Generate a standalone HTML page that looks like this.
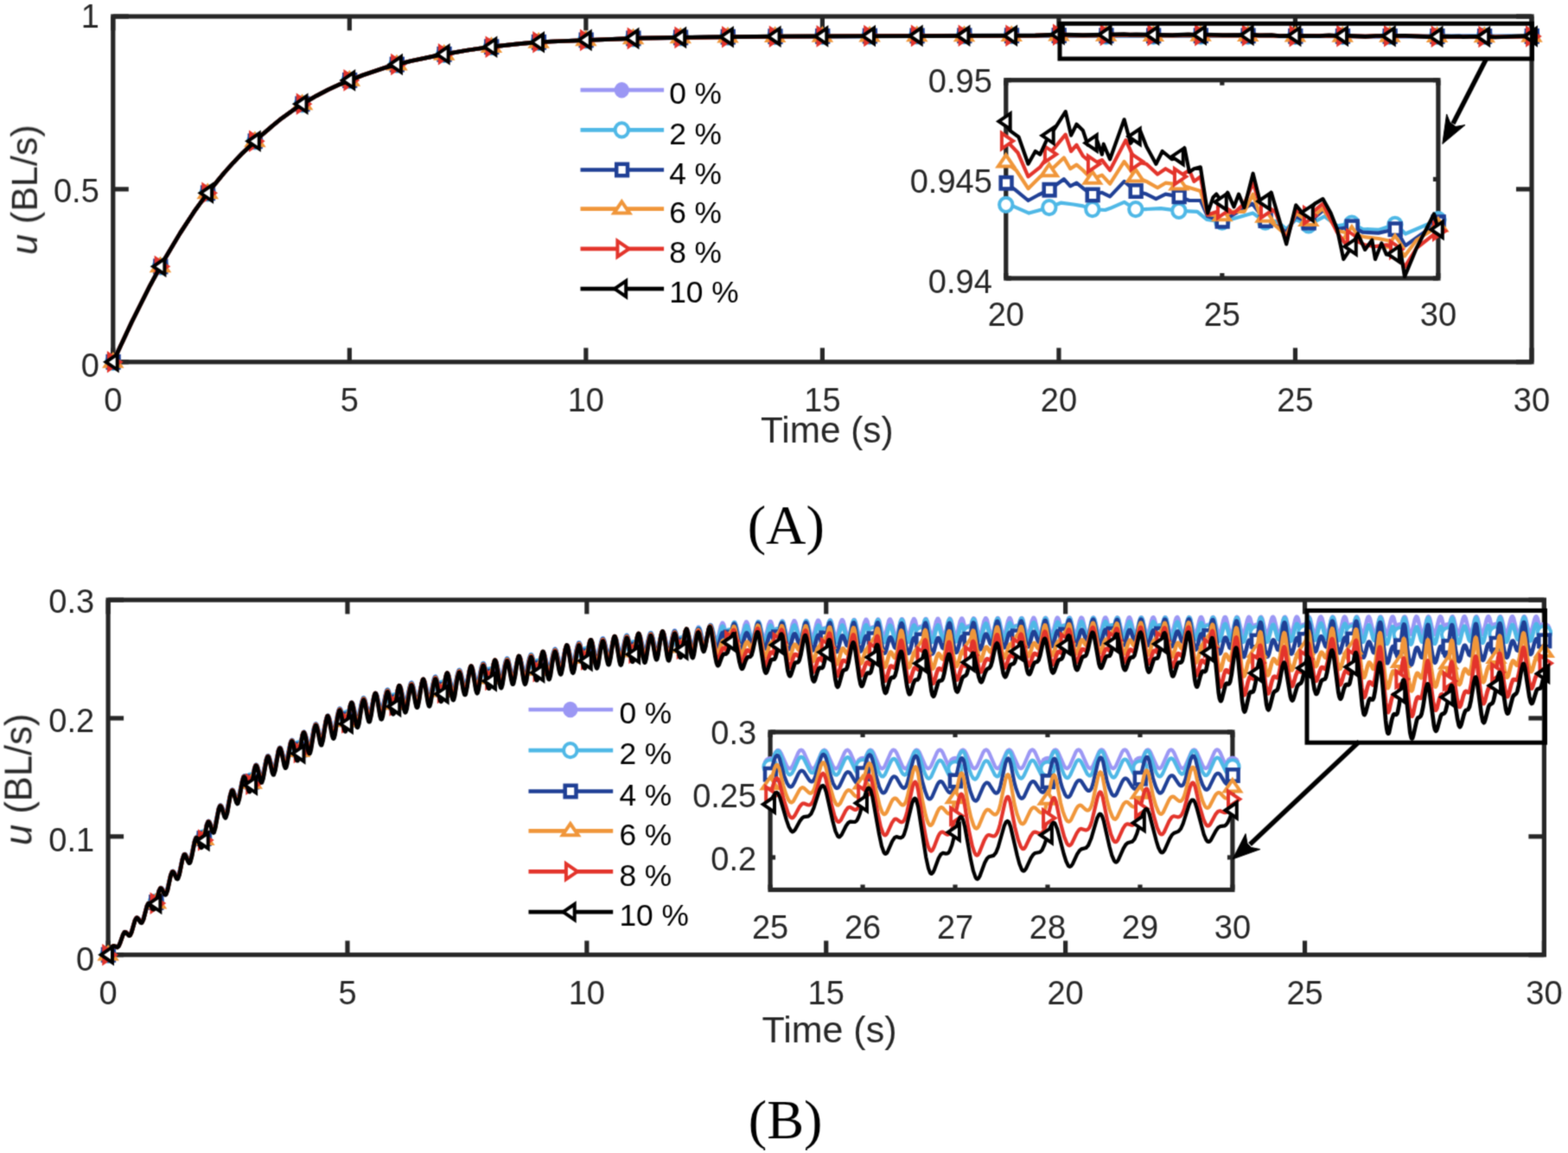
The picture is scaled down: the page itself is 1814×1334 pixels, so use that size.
<!DOCTYPE html>
<html><head><meta charset="utf-8"><title>Figure</title>
<style>html,body{margin:0;padding:0;background:#fff;}svg{display:block;}</style>
</head><body>
<svg width="1814" height="1334" viewBox="0 0 1814 1334">
<rect width="1814" height="1334" fill="#fff"/>
<defs><filter id="soft" x="0" y="0" width="100%" height="100%" color-interpolation-filters="sRGB"><feConvolveMatrix order="3" kernelMatrix="0.0361 0.1178 0.0361 0.1178 0.3846 0.1178 0.0361 0.1178 0.0361" edgeMode="duplicate"/></filter>
<clipPath id="cA"><rect x="130.8" y="19" width="1641.2" height="399.8"/></clipPath>
<clipPath id="cAi"><rect x="1163.8" y="92.7" width="500.1" height="229.3"/></clipPath>
<clipPath id="cB"><rect x="125.1" y="694.1" width="1661.3" height="410.6"/></clipPath>
<clipPath id="cBi"><rect x="891.1" y="847" width="534.8" height="182.5"/></clipPath>
</defs>
<g filter="url(#soft)">
<line x1="130.8" y1="418.8" x2="130.8" y2="402.5" stroke="#262626" stroke-width="5.2"/>
<line x1="130.8" y1="19" x2="130.8" y2="35.3" stroke="#262626" stroke-width="5.2"/>
<line x1="404.33" y1="418.8" x2="404.33" y2="402.5" stroke="#262626" stroke-width="5.2"/>
<line x1="404.33" y1="19" x2="404.33" y2="35.3" stroke="#262626" stroke-width="5.2"/>
<line x1="677.87" y1="418.8" x2="677.87" y2="402.5" stroke="#262626" stroke-width="5.2"/>
<line x1="677.87" y1="19" x2="677.87" y2="35.3" stroke="#262626" stroke-width="5.2"/>
<line x1="951.4" y1="418.8" x2="951.4" y2="402.5" stroke="#262626" stroke-width="5.2"/>
<line x1="951.4" y1="19" x2="951.4" y2="35.3" stroke="#262626" stroke-width="5.2"/>
<line x1="1224.93" y1="418.8" x2="1224.93" y2="402.5" stroke="#262626" stroke-width="5.2"/>
<line x1="1224.93" y1="19" x2="1224.93" y2="35.3" stroke="#262626" stroke-width="5.2"/>
<line x1="1498.47" y1="418.8" x2="1498.47" y2="402.5" stroke="#262626" stroke-width="5.2"/>
<line x1="1498.47" y1="19" x2="1498.47" y2="35.3" stroke="#262626" stroke-width="5.2"/>
<line x1="1772" y1="418.8" x2="1772" y2="402.5" stroke="#262626" stroke-width="5.2"/>
<line x1="1772" y1="19" x2="1772" y2="35.3" stroke="#262626" stroke-width="5.2"/>
<line x1="130.8" y1="418.8" x2="148.8" y2="418.8" stroke="#262626" stroke-width="5.2"/>
<line x1="1772" y1="418.8" x2="1754" y2="418.8" stroke="#262626" stroke-width="5.2"/>
<line x1="130.8" y1="218.9" x2="148.8" y2="218.9" stroke="#262626" stroke-width="5.2"/>
<line x1="1772" y1="218.9" x2="1754" y2="218.9" stroke="#262626" stroke-width="5.2"/>
<line x1="130.8" y1="19" x2="148.8" y2="19" stroke="#262626" stroke-width="5.2"/>
<line x1="1772" y1="19" x2="1754" y2="19" stroke="#262626" stroke-width="5.2"/>
<rect x="130.8" y="19" width="1641.2" height="399.8" fill="none" stroke="#262626" stroke-width="5.2" stroke-linejoin="miter"/>
<text x="130.8" y="475.8" font-size="38" text-anchor="middle" fill="#262626" font-family="'Liberation Sans', Arial, Helvetica, sans-serif">0</text>
<text x="404.33" y="475.8" font-size="38" text-anchor="middle" fill="#262626" font-family="'Liberation Sans', Arial, Helvetica, sans-serif">5</text>
<text x="677.87" y="475.8" font-size="38" text-anchor="middle" fill="#262626" font-family="'Liberation Sans', Arial, Helvetica, sans-serif">10</text>
<text x="951.4" y="475.8" font-size="38" text-anchor="middle" fill="#262626" font-family="'Liberation Sans', Arial, Helvetica, sans-serif">15</text>
<text x="1224.93" y="475.8" font-size="38" text-anchor="middle" fill="#262626" font-family="'Liberation Sans', Arial, Helvetica, sans-serif">20</text>
<text x="1498.47" y="475.8" font-size="38" text-anchor="middle" fill="#262626" font-family="'Liberation Sans', Arial, Helvetica, sans-serif">25</text>
<text x="1772" y="475.8" font-size="38" text-anchor="middle" fill="#262626" font-family="'Liberation Sans', Arial, Helvetica, sans-serif">30</text>
<text x="114.8" y="436.39" font-size="38" text-anchor="end" fill="#262626" font-family="'Liberation Sans', Arial, Helvetica, sans-serif">0</text>
<text x="114.8" y="234.43" font-size="38" text-anchor="end" fill="#262626" font-family="'Liberation Sans', Arial, Helvetica, sans-serif">0.5</text>
<text x="114.8" y="32.47" font-size="38" text-anchor="end" fill="#262626" font-family="'Liberation Sans', Arial, Helvetica, sans-serif">1</text>
<polyline points="130.8,418.8 152.2,373 173.6,330.3 186.9,305.8 208.3,269.9 224.4,245.2 240.4,223 259.1,200.2 269.8,188.3 280.5,177.2 301.9,157 315.3,145.5 326,136.8 344.7,123.4 366.1,110.8 379.4,103.9 392.8,97.7 419.6,87 446.3,78.1 475.7,70.5 505.1,64.4 539.9,58.3 563.9,54.7 598.7,50.8 617.4,49.2 638.8,48 740.4,44.2 874.1,42.4 1079.9,41.3 1197.6,41.1 1254,41.7 1374.6,41.4 1579.7,42 1772.6,41.8" fill="none" stroke="#9b97f4" stroke-width="4.7" stroke-linejoin="round" clip-path="url(#cA)"/>
<ellipse cx="130.8" cy="418.8" rx="8.6" ry="9.2" fill="#9b97f4"/>
<ellipse cx="185.51" cy="308.34" rx="8.6" ry="9.2" fill="#9b97f4"/>
<ellipse cx="240.21" cy="223.3" rx="8.6" ry="9.2" fill="#9b97f4"/>
<ellipse cx="294.92" cy="163.33" rx="8.6" ry="9.2" fill="#9b97f4"/>
<ellipse cx="349.63" cy="120.31" rx="8.6" ry="9.2" fill="#9b97f4"/>
<ellipse cx="404.33" cy="92.88" rx="8.6" ry="9.2" fill="#9b97f4"/>
<ellipse cx="459.04" cy="74.57" rx="8.6" ry="9.2" fill="#9b97f4"/>
<ellipse cx="513.75" cy="62.78" rx="8.6" ry="9.2" fill="#9b97f4"/>
<ellipse cx="568.45" cy="54.18" rx="8.6" ry="9.2" fill="#9b97f4"/>
<ellipse cx="623.16" cy="48.79" rx="8.6" ry="9.2" fill="#9b97f4"/>
<ellipse cx="677.87" cy="46.39" rx="8.6" ry="9.2" fill="#9b97f4"/>
<ellipse cx="732.57" cy="44.39" rx="8.6" ry="9.2" fill="#9b97f4"/>
<ellipse cx="787.28" cy="43.39" rx="8.6" ry="9.2" fill="#9b97f4"/>
<ellipse cx="841.99" cy="42.67" rx="8.6" ry="9.2" fill="#9b97f4"/>
<ellipse cx="896.69" cy="42.19" rx="8.6" ry="9.2" fill="#9b97f4"/>
<ellipse cx="951.4" cy="41.87" rx="8.6" ry="9.2" fill="#9b97f4"/>
<ellipse cx="1006.11" cy="41.59" rx="8.6" ry="9.2" fill="#9b97f4"/>
<ellipse cx="1060.81" cy="41.39" rx="8.6" ry="9.2" fill="#9b97f4"/>
<ellipse cx="1115.52" cy="41.27" rx="8.6" ry="9.2" fill="#9b97f4"/>
<ellipse cx="1170.23" cy="41.19" rx="8.6" ry="9.2" fill="#9b97f4"/>
<ellipse cx="1224.93" cy="41.5" rx="8.6" ry="9.2" fill="#9b97f4"/>
<ellipse cx="1279.64" cy="41.56" rx="8.6" ry="9.2" fill="#9b97f4"/>
<ellipse cx="1334.35" cy="41.59" rx="8.6" ry="9.2" fill="#9b97f4"/>
<ellipse cx="1389.05" cy="41.59" rx="8.6" ry="9.2" fill="#9b97f4"/>
<ellipse cx="1443.76" cy="41.63" rx="8.6" ry="9.2" fill="#9b97f4"/>
<ellipse cx="1498.47" cy="41.85" rx="8.6" ry="9.2" fill="#9b97f4"/>
<ellipse cx="1553.17" cy="41.85" rx="8.6" ry="9.2" fill="#9b97f4"/>
<ellipse cx="1607.88" cy="41.91" rx="8.6" ry="9.2" fill="#9b97f4"/>
<ellipse cx="1662.59" cy="41.88" rx="8.6" ry="9.2" fill="#9b97f4"/>
<ellipse cx="1717.29" cy="41.9" rx="8.6" ry="9.2" fill="#9b97f4"/>
<ellipse cx="1772" cy="41.81" rx="8.6" ry="9.2" fill="#9b97f4"/>
<polyline points="130.8,418.8 152.2,373 173.6,330.3 186.9,305.8 208.3,269.9 224.4,245.2 240.4,223 259.1,200.2 269.8,188.3 280.5,177.2 301.9,157 315.3,145.5 326,136.8 344.7,123.4 366.1,110.8 379.4,103.9 392.8,97.7 419.6,87 446.3,78.1 475.7,70.5 505.1,64.4 539.9,58.3 563.9,54.7 598.7,50.8 617.4,49.2 638.8,48 740.4,44.2 874.1,42.4 1079.9,41.3 1197.6,41.1 1254,41.7 1374.6,41.4 1579.7,42 1772.6,41.8" fill="none" stroke="#4fb8e6" stroke-width="4.7" stroke-linejoin="round" clip-path="url(#cA)"/>
<ellipse cx="130.8" cy="418.8" rx="7.7" ry="8.1" fill="#fff" stroke="#4fb8e6" stroke-width="4"/>
<ellipse cx="185.51" cy="308.34" rx="7.7" ry="8.1" fill="#fff" stroke="#4fb8e6" stroke-width="4"/>
<ellipse cx="240.21" cy="223.3" rx="7.7" ry="8.1" fill="#fff" stroke="#4fb8e6" stroke-width="4"/>
<ellipse cx="294.92" cy="163.33" rx="7.7" ry="8.1" fill="#fff" stroke="#4fb8e6" stroke-width="4"/>
<ellipse cx="349.63" cy="120.31" rx="7.7" ry="8.1" fill="#fff" stroke="#4fb8e6" stroke-width="4"/>
<ellipse cx="404.33" cy="92.88" rx="7.7" ry="8.1" fill="#fff" stroke="#4fb8e6" stroke-width="4"/>
<ellipse cx="459.04" cy="74.57" rx="7.7" ry="8.1" fill="#fff" stroke="#4fb8e6" stroke-width="4"/>
<ellipse cx="513.75" cy="62.78" rx="7.7" ry="8.1" fill="#fff" stroke="#4fb8e6" stroke-width="4"/>
<ellipse cx="568.45" cy="54.18" rx="7.7" ry="8.1" fill="#fff" stroke="#4fb8e6" stroke-width="4"/>
<ellipse cx="623.16" cy="48.79" rx="7.7" ry="8.1" fill="#fff" stroke="#4fb8e6" stroke-width="4"/>
<ellipse cx="677.87" cy="46.39" rx="7.7" ry="8.1" fill="#fff" stroke="#4fb8e6" stroke-width="4"/>
<ellipse cx="732.57" cy="44.39" rx="7.7" ry="8.1" fill="#fff" stroke="#4fb8e6" stroke-width="4"/>
<ellipse cx="787.28" cy="43.39" rx="7.7" ry="8.1" fill="#fff" stroke="#4fb8e6" stroke-width="4"/>
<ellipse cx="841.99" cy="42.67" rx="7.7" ry="8.1" fill="#fff" stroke="#4fb8e6" stroke-width="4"/>
<ellipse cx="896.69" cy="42.19" rx="7.7" ry="8.1" fill="#fff" stroke="#4fb8e6" stroke-width="4"/>
<ellipse cx="951.4" cy="41.87" rx="7.7" ry="8.1" fill="#fff" stroke="#4fb8e6" stroke-width="4"/>
<ellipse cx="1006.11" cy="41.59" rx="7.7" ry="8.1" fill="#fff" stroke="#4fb8e6" stroke-width="4"/>
<ellipse cx="1060.81" cy="41.39" rx="7.7" ry="8.1" fill="#fff" stroke="#4fb8e6" stroke-width="4"/>
<ellipse cx="1115.52" cy="41.27" rx="7.7" ry="8.1" fill="#fff" stroke="#4fb8e6" stroke-width="4"/>
<ellipse cx="1170.23" cy="41.19" rx="7.7" ry="8.1" fill="#fff" stroke="#4fb8e6" stroke-width="4"/>
<ellipse cx="1224.93" cy="41.5" rx="7.7" ry="8.1" fill="#fff" stroke="#4fb8e6" stroke-width="4"/>
<ellipse cx="1279.64" cy="41.56" rx="7.7" ry="8.1" fill="#fff" stroke="#4fb8e6" stroke-width="4"/>
<ellipse cx="1334.35" cy="41.59" rx="7.7" ry="8.1" fill="#fff" stroke="#4fb8e6" stroke-width="4"/>
<ellipse cx="1389.05" cy="41.59" rx="7.7" ry="8.1" fill="#fff" stroke="#4fb8e6" stroke-width="4"/>
<ellipse cx="1443.76" cy="41.63" rx="7.7" ry="8.1" fill="#fff" stroke="#4fb8e6" stroke-width="4"/>
<ellipse cx="1498.47" cy="41.85" rx="7.7" ry="8.1" fill="#fff" stroke="#4fb8e6" stroke-width="4"/>
<ellipse cx="1553.17" cy="41.85" rx="7.7" ry="8.1" fill="#fff" stroke="#4fb8e6" stroke-width="4"/>
<ellipse cx="1607.88" cy="41.91" rx="7.7" ry="8.1" fill="#fff" stroke="#4fb8e6" stroke-width="4"/>
<ellipse cx="1662.59" cy="41.88" rx="7.7" ry="8.1" fill="#fff" stroke="#4fb8e6" stroke-width="4"/>
<ellipse cx="1717.29" cy="41.9" rx="7.7" ry="8.1" fill="#fff" stroke="#4fb8e6" stroke-width="4"/>
<ellipse cx="1772" cy="41.81" rx="7.7" ry="8.1" fill="#fff" stroke="#4fb8e6" stroke-width="4"/>
<polyline points="130.8,418.8 152.2,373 173.6,330.3 186.9,305.8 208.3,269.9 224.4,245.2 240.4,223 259.1,200.2 269.8,188.3 280.5,177.2 301.9,157 315.3,145.5 326,136.8 344.7,123.4 366.1,110.8 379.4,103.9 392.8,97.7 419.6,87 446.3,78.1 475.7,70.5 505.1,64.4 539.9,58.3 563.9,54.7 598.7,50.8 617.4,49.2 638.8,48 740.4,44.2 874.1,42.4 1082.6,41.3 1224.9,41.1 1253,41.4 1298.3,41 1356.5,41.3 1374.6,41 1498.4,41.8 1536.6,41.5 1579.7,42.1 1627,41.6 1644,42 1718.4,42 1730.4,42.3 1772.6,41.8" fill="none" stroke="#1f3f95" stroke-width="4.7" stroke-linejoin="round" clip-path="url(#cA)"/>
<rect x="124.7" y="412.1" width="12.8" height="13.4" fill="#fff" stroke="#1f3f95" stroke-width="4.5"/>
<rect x="179.41" y="301.64" width="12.8" height="13.4" fill="#fff" stroke="#1f3f95" stroke-width="4.5"/>
<rect x="234.11" y="216.6" width="12.8" height="13.4" fill="#fff" stroke="#1f3f95" stroke-width="4.5"/>
<rect x="288.82" y="156.63" width="12.8" height="13.4" fill="#fff" stroke="#1f3f95" stroke-width="4.5"/>
<rect x="343.53" y="113.61" width="12.8" height="13.4" fill="#fff" stroke="#1f3f95" stroke-width="4.5"/>
<rect x="398.23" y="86.18" width="12.8" height="13.4" fill="#fff" stroke="#1f3f95" stroke-width="4.5"/>
<rect x="452.94" y="67.87" width="12.8" height="13.4" fill="#fff" stroke="#1f3f95" stroke-width="4.5"/>
<rect x="507.65" y="56.08" width="12.8" height="13.4" fill="#fff" stroke="#1f3f95" stroke-width="4.5"/>
<rect x="562.35" y="47.48" width="12.8" height="13.4" fill="#fff" stroke="#1f3f95" stroke-width="4.5"/>
<rect x="617.06" y="42.09" width="12.8" height="13.4" fill="#fff" stroke="#1f3f95" stroke-width="4.5"/>
<rect x="671.77" y="39.69" width="12.8" height="13.4" fill="#fff" stroke="#1f3f95" stroke-width="4.5"/>
<rect x="726.47" y="37.69" width="12.8" height="13.4" fill="#fff" stroke="#1f3f95" stroke-width="4.5"/>
<rect x="781.18" y="36.69" width="12.8" height="13.4" fill="#fff" stroke="#1f3f95" stroke-width="4.5"/>
<rect x="835.89" y="35.97" width="12.8" height="13.4" fill="#fff" stroke="#1f3f95" stroke-width="4.5"/>
<rect x="890.59" y="35.49" width="12.8" height="13.4" fill="#fff" stroke="#1f3f95" stroke-width="4.5"/>
<rect x="945.3" y="35.17" width="12.8" height="13.4" fill="#fff" stroke="#1f3f95" stroke-width="4.5"/>
<rect x="1000.01" y="34.89" width="12.8" height="13.4" fill="#fff" stroke="#1f3f95" stroke-width="4.5"/>
<rect x="1054.71" y="34.69" width="12.8" height="13.4" fill="#fff" stroke="#1f3f95" stroke-width="4.5"/>
<rect x="1109.42" y="34.57" width="12.8" height="13.4" fill="#fff" stroke="#1f3f95" stroke-width="4.5"/>
<rect x="1164.13" y="34.49" width="12.8" height="13.4" fill="#fff" stroke="#1f3f95" stroke-width="4.5"/>
<rect x="1218.83" y="34.37" width="12.8" height="13.4" fill="#fff" stroke="#1f3f95" stroke-width="4.5"/>
<rect x="1273.54" y="34.5" width="12.8" height="13.4" fill="#fff" stroke="#1f3f95" stroke-width="4.5"/>
<rect x="1328.25" y="34.61" width="12.8" height="13.4" fill="#fff" stroke="#1f3f95" stroke-width="4.5"/>
<rect x="1382.95" y="34.53" width="12.8" height="13.4" fill="#fff" stroke="#1f3f95" stroke-width="4.5"/>
<rect x="1437.66" y="34.64" width="12.8" height="13.4" fill="#fff" stroke="#1f3f95" stroke-width="4.5"/>
<rect x="1492.37" y="35.13" width="12.8" height="13.4" fill="#fff" stroke="#1f3f95" stroke-width="4.5"/>
<rect x="1547.07" y="35.12" width="12.8" height="13.4" fill="#fff" stroke="#1f3f95" stroke-width="4.5"/>
<rect x="1601.78" y="35.17" width="12.8" height="13.4" fill="#fff" stroke="#1f3f95" stroke-width="4.5"/>
<rect x="1656.49" y="35.25" width="12.8" height="13.4" fill="#fff" stroke="#1f3f95" stroke-width="4.5"/>
<rect x="1711.19" y="35.3" width="12.8" height="13.4" fill="#fff" stroke="#1f3f95" stroke-width="4.5"/>
<rect x="1765.9" y="35.16" width="12.8" height="13.4" fill="#fff" stroke="#1f3f95" stroke-width="4.5"/>
<polyline points="130.8,418.8 152.2,373 173.6,330.3 186.9,305.8 208.3,269.9 224.4,245.2 240.4,223 259.1,200.2 269.8,188.3 280.5,177.2 301.9,157 315.3,145.5 326,136.8 344.7,123.4 366.1,110.8 379.4,103.9 392.8,97.7 419.6,87 446.3,78.1 475.7,70.5 505.1,64.4 539.9,58.3 563.9,54.7 598.7,50.8 617.4,49.2 638.8,48 740.4,44.2 890.1,42.2 1039.8,41.5 1197.6,41.1 1223.9,40.6 1253,41.2 1298.3,40.6 1356.5,41.1 1374.6,40.6 1416.8,41.2 1471.1,41.2 1480.1,41.7 1526.5,41.6 1537.6,41.3 1579.7,42.1 1591.8,41.7 1626,41.6 1644,42 1729.4,42.5 1772.6,41.9" fill="none" stroke="#f0963a" stroke-width="4.7" stroke-linejoin="round" clip-path="url(#cA)"/>
<polygon points="130.8,410.5 139.8,423.7 121.8,423.7" fill="#fff" stroke="#f0963a" stroke-width="4" stroke-miterlimit="10"/>
<polygon points="185.51,300.04 194.51,313.24 176.51,313.24" fill="#fff" stroke="#f0963a" stroke-width="4" stroke-miterlimit="10"/>
<polygon points="240.21,215 249.21,228.2 231.21,228.2" fill="#fff" stroke="#f0963a" stroke-width="4" stroke-miterlimit="10"/>
<polygon points="294.92,155.03 303.92,168.23 285.92,168.23" fill="#fff" stroke="#f0963a" stroke-width="4" stroke-miterlimit="10"/>
<polygon points="349.63,112.01 358.63,125.21 340.63,125.21" fill="#fff" stroke="#f0963a" stroke-width="4" stroke-miterlimit="10"/>
<polygon points="404.33,84.58 413.33,97.78 395.33,97.78" fill="#fff" stroke="#f0963a" stroke-width="4" stroke-miterlimit="10"/>
<polygon points="459.04,66.27 468.04,79.47 450.04,79.47" fill="#fff" stroke="#f0963a" stroke-width="4" stroke-miterlimit="10"/>
<polygon points="513.75,54.48 522.75,67.68 504.75,67.68" fill="#fff" stroke="#f0963a" stroke-width="4" stroke-miterlimit="10"/>
<polygon points="568.45,45.88 577.45,59.08 559.45,59.08" fill="#fff" stroke="#f0963a" stroke-width="4" stroke-miterlimit="10"/>
<polygon points="623.16,40.49 632.16,53.69 614.16,53.69" fill="#fff" stroke="#f0963a" stroke-width="4" stroke-miterlimit="10"/>
<polygon points="677.87,38.09 686.87,51.29 668.87,51.29" fill="#fff" stroke="#f0963a" stroke-width="4" stroke-miterlimit="10"/>
<polygon points="732.57,36.09 741.57,49.29 723.57,49.29" fill="#fff" stroke="#f0963a" stroke-width="4" stroke-miterlimit="10"/>
<polygon points="787.28,35.09 796.28,48.29 778.28,48.29" fill="#fff" stroke="#f0963a" stroke-width="4" stroke-miterlimit="10"/>
<polygon points="841.99,34.37 850.99,47.57 832.99,47.57" fill="#fff" stroke="#f0963a" stroke-width="4" stroke-miterlimit="10"/>
<polygon points="896.69,33.89 905.69,47.09 887.69,47.09" fill="#fff" stroke="#f0963a" stroke-width="4" stroke-miterlimit="10"/>
<polygon points="951.4,33.57 960.4,46.77 942.4,46.77" fill="#fff" stroke="#f0963a" stroke-width="4" stroke-miterlimit="10"/>
<polygon points="1006.11,33.29 1015.11,46.49 997.11,46.49" fill="#fff" stroke="#f0963a" stroke-width="4" stroke-miterlimit="10"/>
<polygon points="1060.81,33.09 1069.81,46.29 1051.81,46.29" fill="#fff" stroke="#f0963a" stroke-width="4" stroke-miterlimit="10"/>
<polygon points="1115.52,32.97 1124.52,46.17 1106.52,46.17" fill="#fff" stroke="#f0963a" stroke-width="4" stroke-miterlimit="10"/>
<polygon points="1170.23,32.89 1179.23,46.09 1161.23,46.09" fill="#fff" stroke="#f0963a" stroke-width="4" stroke-miterlimit="10"/>
<polygon points="1224.93,32.35 1233.93,45.55 1215.93,45.55" fill="#fff" stroke="#f0963a" stroke-width="4" stroke-miterlimit="10"/>
<polygon points="1279.64,32.53 1288.64,45.73 1270.64,45.73" fill="#fff" stroke="#f0963a" stroke-width="4" stroke-miterlimit="10"/>
<polygon points="1334.35,32.68 1343.35,45.88 1325.35,45.88" fill="#fff" stroke="#f0963a" stroke-width="4" stroke-miterlimit="10"/>
<polygon points="1389.05,32.64 1398.05,45.84 1380.05,45.84" fill="#fff" stroke="#f0963a" stroke-width="4" stroke-miterlimit="10"/>
<polygon points="1443.76,32.8 1452.76,46 1434.76,46" fill="#fff" stroke="#f0963a" stroke-width="4" stroke-miterlimit="10"/>
<polygon points="1498.47,33.42 1507.47,46.62 1489.47,46.62" fill="#fff" stroke="#f0963a" stroke-width="4" stroke-miterlimit="10"/>
<polygon points="1553.17,33.45 1562.17,46.65 1544.17,46.65" fill="#fff" stroke="#f0963a" stroke-width="4" stroke-miterlimit="10"/>
<polygon points="1607.88,33.52 1616.88,46.72 1598.88,46.72" fill="#fff" stroke="#f0963a" stroke-width="4" stroke-miterlimit="10"/>
<polygon points="1662.59,33.79 1671.59,46.99 1653.59,46.99" fill="#fff" stroke="#f0963a" stroke-width="4" stroke-miterlimit="10"/>
<polygon points="1717.29,33.97 1726.29,47.17 1708.29,47.17" fill="#fff" stroke="#f0963a" stroke-width="4" stroke-miterlimit="10"/>
<polygon points="1772,33.64 1781,46.84 1763,46.84" fill="#fff" stroke="#f0963a" stroke-width="4" stroke-miterlimit="10"/>
<polyline points="130.8,418.8 152.2,373 173.6,330.3 186.9,305.8 208.3,269.9 224.4,245.2 240.4,223 259.1,200.2 269.8,188.3 280.5,177.2 301.9,157 315.3,145.5 326,136.8 344.7,123.4 366.1,110.8 379.4,103.9 392.8,97.7 419.6,87 446.3,78.1 475.7,70.5 505.1,64.4 539.9,58.3 563.9,54.7 598.7,50.8 617.4,49.2 638.8,48 740.4,44.2 876.7,42.3 1034.5,41.5 1197.6,41.1 1225.9,40.2 1253,40.9 1300.3,40.1 1356.5,40.8 1376.6,40.2 1416.8,40.9 1471.1,40.9 1480.1,41.7 1513.5,41.7 1537.6,41.1 1579.7,42.2 1591.8,41.6 1626,41.5 1654.1,42.3 1716.4,42.4 1729.4,42.8 1772.6,42" fill="none" stroke="#e3342b" stroke-width="4.7" stroke-linejoin="round" clip-path="url(#cA)"/>
<polygon points="139.1,418.8 125.9,409.8 125.9,427.8" fill="#fff" stroke="#e3342b" stroke-width="4" stroke-miterlimit="10"/>
<polygon points="193.81,308.34 180.61,299.34 180.61,317.34" fill="#fff" stroke="#e3342b" stroke-width="4" stroke-miterlimit="10"/>
<polygon points="248.51,223.3 235.31,214.3 235.31,232.3" fill="#fff" stroke="#e3342b" stroke-width="4" stroke-miterlimit="10"/>
<polygon points="303.22,163.33 290.02,154.33 290.02,172.33" fill="#fff" stroke="#e3342b" stroke-width="4" stroke-miterlimit="10"/>
<polygon points="357.93,120.31 344.73,111.31 344.73,129.31" fill="#fff" stroke="#e3342b" stroke-width="4" stroke-miterlimit="10"/>
<polygon points="412.63,92.88 399.43,83.88 399.43,101.88" fill="#fff" stroke="#e3342b" stroke-width="4" stroke-miterlimit="10"/>
<polygon points="467.34,74.57 454.14,65.57 454.14,83.57" fill="#fff" stroke="#e3342b" stroke-width="4" stroke-miterlimit="10"/>
<polygon points="522.05,62.78 508.85,53.78 508.85,71.78" fill="#fff" stroke="#e3342b" stroke-width="4" stroke-miterlimit="10"/>
<polygon points="576.75,54.18 563.55,45.18 563.55,63.18" fill="#fff" stroke="#e3342b" stroke-width="4" stroke-miterlimit="10"/>
<polygon points="631.46,48.79 618.26,39.79 618.26,57.79" fill="#fff" stroke="#e3342b" stroke-width="4" stroke-miterlimit="10"/>
<polygon points="686.17,46.39 672.97,37.39 672.97,55.39" fill="#fff" stroke="#e3342b" stroke-width="4" stroke-miterlimit="10"/>
<polygon points="740.87,44.39 727.67,35.39 727.67,53.39" fill="#fff" stroke="#e3342b" stroke-width="4" stroke-miterlimit="10"/>
<polygon points="795.58,43.39 782.38,34.39 782.38,52.39" fill="#fff" stroke="#e3342b" stroke-width="4" stroke-miterlimit="10"/>
<polygon points="850.29,42.67 837.09,33.67 837.09,51.67" fill="#fff" stroke="#e3342b" stroke-width="4" stroke-miterlimit="10"/>
<polygon points="904.99,42.19 891.79,33.19 891.79,51.19" fill="#fff" stroke="#e3342b" stroke-width="4" stroke-miterlimit="10"/>
<polygon points="959.7,41.87 946.5,32.87 946.5,50.87" fill="#fff" stroke="#e3342b" stroke-width="4" stroke-miterlimit="10"/>
<polygon points="1014.41,41.59 1001.21,32.59 1001.21,50.59" fill="#fff" stroke="#e3342b" stroke-width="4" stroke-miterlimit="10"/>
<polygon points="1069.11,41.39 1055.91,32.39 1055.91,50.39" fill="#fff" stroke="#e3342b" stroke-width="4" stroke-miterlimit="10"/>
<polygon points="1123.82,41.27 1110.62,32.27 1110.62,50.27" fill="#fff" stroke="#e3342b" stroke-width="4" stroke-miterlimit="10"/>
<polygon points="1178.53,41.19 1165.33,32.19 1165.33,50.19" fill="#fff" stroke="#e3342b" stroke-width="4" stroke-miterlimit="10"/>
<polygon points="1233.23,40.25 1220.03,31.25 1220.03,49.25" fill="#fff" stroke="#e3342b" stroke-width="4" stroke-miterlimit="10"/>
<polygon points="1287.94,40.49 1274.74,31.49 1274.74,49.49" fill="#fff" stroke="#e3342b" stroke-width="4" stroke-miterlimit="10"/>
<polygon points="1342.65,40.68 1329.45,31.68 1329.45,49.68" fill="#fff" stroke="#e3342b" stroke-width="4" stroke-miterlimit="10"/>
<polygon points="1397.35,40.63 1384.15,31.63 1384.15,49.63" fill="#fff" stroke="#e3342b" stroke-width="4" stroke-miterlimit="10"/>
<polygon points="1452.06,40.94 1438.86,31.94 1438.86,49.94" fill="#fff" stroke="#e3342b" stroke-width="4" stroke-miterlimit="10"/>
<polygon points="1506.77,41.61 1493.57,32.61 1493.57,50.61" fill="#fff" stroke="#e3342b" stroke-width="4" stroke-miterlimit="10"/>
<polygon points="1561.47,41.61 1548.27,32.61 1548.27,50.61" fill="#fff" stroke="#e3342b" stroke-width="4" stroke-miterlimit="10"/>
<polygon points="1616.18,41.72 1602.98,32.72 1602.98,50.72" fill="#fff" stroke="#e3342b" stroke-width="4" stroke-miterlimit="10"/>
<polygon points="1670.89,42.19 1657.69,33.19 1657.69,51.19" fill="#fff" stroke="#e3342b" stroke-width="4" stroke-miterlimit="10"/>
<polygon points="1725.59,42.41 1712.39,33.41 1712.39,51.41" fill="#fff" stroke="#e3342b" stroke-width="4" stroke-miterlimit="10"/>
<polygon points="1780.3,42.03 1767.1,33.03 1767.1,51.03" fill="#fff" stroke="#e3342b" stroke-width="4" stroke-miterlimit="10"/>
<polyline points="130.8,418.8 152.2,373 173.6,330.3 186.9,305.8 208.3,269.9 224.4,245.2 240.4,223 259.1,200.2 269.8,188.3 280.5,177.2 301.9,157 315.3,145.5 326,136.8 344.7,123.4 366.1,110.8 379.4,103.9 392.8,97.7 419.6,87 446.3,78.1 475.7,70.5 505.1,64.4 539.9,58.3 563.9,54.7 598.7,50.8 617.4,49.2 638.8,48 740.4,44.2 820.6,42.9 900.8,42.2 1197.6,41.1 1223.9,39.8 1253,40.7 1300.3,39.6 1307.3,40.1 1314.3,39.9 1356.5,40.6 1374.6,39.8 1382.6,40.3 1394.7,40 1414.8,40.7 1451,40.4 1457,40.8 1471.1,40.7 1480.1,41.7 1491.4,41.3 1526.5,41.6 1537.6,40.9 1545.6,41.4 1560.7,41.3 1579.7,42.3 1591.8,41.5 1626,41.4 1652.1,42.6 1670.2,42.1 1679.2,42.4 1688.2,42.2 1692.3,42.6 1700.3,42.3 1723.4,42.3 1729.4,43 1766.6,41.7 1772.6,42" fill="none" stroke="#000000" stroke-width="4.7" stroke-linejoin="round" clip-path="url(#cA)"/>
<polygon points="122.5,418.8 135.7,409.8 135.7,427.8" fill="#fff" stroke="#000000" stroke-width="4" stroke-miterlimit="10"/>
<polygon points="177.21,308.34 190.41,299.34 190.41,317.34" fill="#fff" stroke="#000000" stroke-width="4" stroke-miterlimit="10"/>
<polygon points="231.91,223.3 245.11,214.3 245.11,232.3" fill="#fff" stroke="#000000" stroke-width="4" stroke-miterlimit="10"/>
<polygon points="286.62,163.33 299.82,154.33 299.82,172.33" fill="#fff" stroke="#000000" stroke-width="4" stroke-miterlimit="10"/>
<polygon points="341.33,120.31 354.53,111.31 354.53,129.31" fill="#fff" stroke="#000000" stroke-width="4" stroke-miterlimit="10"/>
<polygon points="396.03,92.88 409.23,83.88 409.23,101.88" fill="#fff" stroke="#000000" stroke-width="4" stroke-miterlimit="10"/>
<polygon points="450.74,74.57 463.94,65.57 463.94,83.57" fill="#fff" stroke="#000000" stroke-width="4" stroke-miterlimit="10"/>
<polygon points="505.45,62.78 518.65,53.78 518.65,71.78" fill="#fff" stroke="#000000" stroke-width="4" stroke-miterlimit="10"/>
<polygon points="560.15,54.18 573.35,45.18 573.35,63.18" fill="#fff" stroke="#000000" stroke-width="4" stroke-miterlimit="10"/>
<polygon points="614.86,48.79 628.06,39.79 628.06,57.79" fill="#fff" stroke="#000000" stroke-width="4" stroke-miterlimit="10"/>
<polygon points="669.57,46.39 682.77,37.39 682.77,55.39" fill="#fff" stroke="#000000" stroke-width="4" stroke-miterlimit="10"/>
<polygon points="724.27,44.39 737.47,35.39 737.47,53.39" fill="#fff" stroke="#000000" stroke-width="4" stroke-miterlimit="10"/>
<polygon points="778.98,43.39 792.18,34.39 792.18,52.39" fill="#fff" stroke="#000000" stroke-width="4" stroke-miterlimit="10"/>
<polygon points="833.69,42.67 846.89,33.67 846.89,51.67" fill="#fff" stroke="#000000" stroke-width="4" stroke-miterlimit="10"/>
<polygon points="888.39,42.19 901.59,33.19 901.59,51.19" fill="#fff" stroke="#000000" stroke-width="4" stroke-miterlimit="10"/>
<polygon points="943.1,41.87 956.3,32.87 956.3,50.87" fill="#fff" stroke="#000000" stroke-width="4" stroke-miterlimit="10"/>
<polygon points="997.81,41.59 1011.01,32.59 1011.01,50.59" fill="#fff" stroke="#000000" stroke-width="4" stroke-miterlimit="10"/>
<polygon points="1052.51,41.39 1065.71,32.39 1065.71,50.39" fill="#fff" stroke="#000000" stroke-width="4" stroke-miterlimit="10"/>
<polygon points="1107.22,41.27 1120.42,32.27 1120.42,50.27" fill="#fff" stroke="#000000" stroke-width="4" stroke-miterlimit="10"/>
<polygon points="1161.93,41.19 1175.13,32.19 1175.13,50.19" fill="#fff" stroke="#000000" stroke-width="4" stroke-miterlimit="10"/>
<polygon points="1216.63,39.82 1229.83,30.82 1229.83,48.82" fill="#fff" stroke="#000000" stroke-width="4" stroke-miterlimit="10"/>
<polygon points="1271.34,40.11 1284.54,31.11 1284.54,49.11" fill="#fff" stroke="#000000" stroke-width="4" stroke-miterlimit="10"/>
<polygon points="1326.05,40.26 1339.25,31.26 1339.25,49.26" fill="#fff" stroke="#000000" stroke-width="4" stroke-miterlimit="10"/>
<polygon points="1380.75,40.13 1393.95,31.13 1393.95,49.13" fill="#fff" stroke="#000000" stroke-width="4" stroke-miterlimit="10"/>
<polygon points="1435.46,40.53 1448.66,31.53 1448.66,49.53" fill="#fff" stroke="#000000" stroke-width="4" stroke-miterlimit="10"/>
<polygon points="1490.17,41.45 1503.37,32.45 1503.37,50.45" fill="#fff" stroke="#000000" stroke-width="4" stroke-miterlimit="10"/>
<polygon points="1544.87,41.44 1558.07,32.44 1558.07,50.44" fill="#fff" stroke="#000000" stroke-width="4" stroke-miterlimit="10"/>
<polygon points="1599.58,41.67 1612.78,32.67 1612.78,50.67" fill="#fff" stroke="#000000" stroke-width="4" stroke-miterlimit="10"/>
<polygon points="1654.29,42.35 1667.49,33.35 1667.49,51.35" fill="#fff" stroke="#000000" stroke-width="4" stroke-miterlimit="10"/>
<polygon points="1708.99,42.5 1722.19,33.5 1722.19,51.5" fill="#fff" stroke="#000000" stroke-width="4" stroke-miterlimit="10"/>
<polygon points="1763.7,42.01 1776.9,33.01 1776.9,51.01" fill="#fff" stroke="#000000" stroke-width="4" stroke-miterlimit="10"/>
<text x="956.8" y="512.2" font-size="42.3" text-anchor="middle" fill="#262626" font-family="'Liberation Sans', Arial, Helvetica, sans-serif">Time (s)</text>
<text transform="translate(42.8,219.6) rotate(-90)" font-size="43" text-anchor="middle" fill="#262626" font-family="'Liberation Sans', Arial, Helvetica, sans-serif"><tspan font-style="italic">u</tspan> (BL/s)</text>
<line x1="671.5" y1="104.2" x2="768.1" y2="104.2" stroke="#9b97f4" stroke-width="4.7"/>
<ellipse cx="719.3" cy="104.2" rx="8.6" ry="9.2" fill="#9b97f4"/>
<text x="774.2" y="120.4" font-size="35.3" text-anchor="start" fill="#000" font-family="'Liberation Sans', Arial, Helvetica, sans-serif">0 %</text>
<line x1="671.5" y1="150.3" x2="768.1" y2="150.3" stroke="#4fb8e6" stroke-width="4.7"/>
<ellipse cx="719.3" cy="150.3" rx="7.7" ry="8.1" fill="#fff" stroke="#4fb8e6" stroke-width="4"/>
<text x="774.2" y="166.5" font-size="35.3" text-anchor="start" fill="#000" font-family="'Liberation Sans', Arial, Helvetica, sans-serif">2 %</text>
<line x1="671.5" y1="196.5" x2="768.1" y2="196.5" stroke="#1f3f95" stroke-width="4.7"/>
<rect x="713.2" y="189.8" width="12.8" height="13.4" fill="#fff" stroke="#1f3f95" stroke-width="4.5"/>
<text x="774.2" y="212.7" font-size="35.3" text-anchor="start" fill="#000" font-family="'Liberation Sans', Arial, Helvetica, sans-serif">4 %</text>
<line x1="671.5" y1="241.7" x2="768.1" y2="241.7" stroke="#f0963a" stroke-width="4.7"/>
<polygon points="719.3,233.4 728.3,246.6 710.3,246.6" fill="#fff" stroke="#f0963a" stroke-width="4" stroke-miterlimit="10"/>
<text x="774.2" y="257.9" font-size="35.3" text-anchor="start" fill="#000" font-family="'Liberation Sans', Arial, Helvetica, sans-serif">6 %</text>
<line x1="671.5" y1="287.9" x2="768.1" y2="287.9" stroke="#e3342b" stroke-width="4.7"/>
<polygon points="727.6,287.9 714.4,278.9 714.4,296.9" fill="#fff" stroke="#e3342b" stroke-width="4" stroke-miterlimit="10"/>
<text x="774.2" y="304.1" font-size="35.3" text-anchor="start" fill="#000" font-family="'Liberation Sans', Arial, Helvetica, sans-serif">8 %</text>
<line x1="671.5" y1="334.1" x2="768.1" y2="334.1" stroke="#000000" stroke-width="4.7"/>
<polygon points="711,334.1 724.2,325.1 724.2,343.1" fill="#fff" stroke="#000000" stroke-width="4" stroke-miterlimit="10"/>
<text x="774.2" y="350.3" font-size="35.3" text-anchor="start" fill="#000" font-family="'Liberation Sans', Arial, Helvetica, sans-serif">10 %</text>
<rect x="1226" y="27.3" width="546.5" height="40.7" fill="none" stroke="#000" stroke-width="5"/>
<rect x="1163.8" y="92.7" width="500.1" height="229.3" fill="#fff"/>
<line x1="1163.8" y1="322" x2="1163.8" y2="316" stroke="#262626" stroke-width="5.2"/>
<line x1="1163.8" y1="92.7" x2="1163.8" y2="98.7" stroke="#262626" stroke-width="5.2"/>
<line x1="1413.85" y1="322" x2="1413.85" y2="316" stroke="#262626" stroke-width="5.2"/>
<line x1="1413.85" y1="92.7" x2="1413.85" y2="98.7" stroke="#262626" stroke-width="5.2"/>
<line x1="1663.9" y1="322" x2="1663.9" y2="316" stroke="#262626" stroke-width="5.2"/>
<line x1="1663.9" y1="92.7" x2="1663.9" y2="98.7" stroke="#262626" stroke-width="5.2"/>
<line x1="1163.8" y1="322" x2="1169.8" y2="322" stroke="#262626" stroke-width="5.2"/>
<line x1="1663.9" y1="322" x2="1657.9" y2="322" stroke="#262626" stroke-width="5.2"/>
<line x1="1163.8" y1="207.35" x2="1169.8" y2="207.35" stroke="#262626" stroke-width="5.2"/>
<line x1="1663.9" y1="207.35" x2="1657.9" y2="207.35" stroke="#262626" stroke-width="5.2"/>
<line x1="1163.8" y1="92.7" x2="1169.8" y2="92.7" stroke="#262626" stroke-width="5.2"/>
<line x1="1663.9" y1="92.7" x2="1657.9" y2="92.7" stroke="#262626" stroke-width="5.2"/>
<rect x="1163.8" y="92.7" width="500.1" height="229.3" fill="none" stroke="#262626" stroke-width="5.2" stroke-linejoin="miter"/>
<text x="1163.8" y="377.3" font-size="38" text-anchor="middle" fill="#262626" font-family="'Liberation Sans', Arial, Helvetica, sans-serif">20</text>
<text x="1413.85" y="377.3" font-size="38" text-anchor="middle" fill="#262626" font-family="'Liberation Sans', Arial, Helvetica, sans-serif">25</text>
<text x="1663.9" y="377.3" font-size="38" text-anchor="middle" fill="#262626" font-family="'Liberation Sans', Arial, Helvetica, sans-serif">30</text>
<text x="1147.8" y="338.67" font-size="38" text-anchor="end" fill="#262626" font-family="'Liberation Sans', Arial, Helvetica, sans-serif">0.94</text>
<text x="1147.8" y="222.72" font-size="38" text-anchor="end" fill="#262626" font-family="'Liberation Sans', Arial, Helvetica, sans-serif">0.945</text>
<text x="1147.8" y="106.77" font-size="38" text-anchor="end" fill="#262626" font-family="'Liberation Sans', Arial, Helvetica, sans-serif">0.95</text>
<polyline points="1162.9,236.5 1173.9,239.3 1190.4,246.6 1213.4,240.2 1227.1,234.7 1241.8,236.5 1252.9,238.4 1263,242.1 1278.6,243 1284.1,241.1 1300.6,233.8 1313.5,242.1 1324.5,242.1 1342.9,241.1 1364,243.9 1385.1,244.8 1396.1,254 1413.8,256.7 1449.6,246.6 1463.4,256.7 1477.1,255.8 1488.2,265 1499.2,254 1513.9,260.4 1532.2,250.3 1546.9,261.3 1564.4,258.6 1576.3,265 1594.7,265.9 1614.9,259.5 1625.9,270.5 1664.5,254" fill="none" stroke="#4fb8e6" stroke-width="4.2" stroke-linejoin="round" clip-path="url(#cAi)"/>
<ellipse cx="1163.8" cy="236.78" rx="7.7" ry="8.1" fill="#fff" stroke="#4fb8e6" stroke-width="4"/>
<ellipse cx="1213.81" cy="240.04" rx="7.7" ry="8.1" fill="#fff" stroke="#4fb8e6" stroke-width="4"/>
<ellipse cx="1263.82" cy="242.1" rx="7.7" ry="8.1" fill="#fff" stroke="#4fb8e6" stroke-width="4"/>
<ellipse cx="1313.83" cy="242.05" rx="7.7" ry="8.1" fill="#fff" stroke="#4fb8e6" stroke-width="4"/>
<ellipse cx="1363.84" cy="243.87" rx="7.7" ry="8.1" fill="#fff" stroke="#4fb8e6" stroke-width="4"/>
<ellipse cx="1413.85" cy="256.7" rx="7.7" ry="8.1" fill="#fff" stroke="#4fb8e6" stroke-width="4"/>
<ellipse cx="1463.86" cy="256.68" rx="7.7" ry="8.1" fill="#fff" stroke="#4fb8e6" stroke-width="4"/>
<ellipse cx="1513.87" cy="260.39" rx="7.7" ry="8.1" fill="#fff" stroke="#4fb8e6" stroke-width="4"/>
<ellipse cx="1563.88" cy="258.63" rx="7.7" ry="8.1" fill="#fff" stroke="#4fb8e6" stroke-width="4"/>
<ellipse cx="1613.89" cy="259.79" rx="7.7" ry="8.1" fill="#fff" stroke="#4fb8e6" stroke-width="4"/>
<ellipse cx="1663.9" cy="254.2" rx="7.7" ry="8.1" fill="#fff" stroke="#4fb8e6" stroke-width="4"/>
<polyline points="1163.8,211.7 1173.9,219.1 1189.5,232 1201.4,225.5 1213.4,220 1230.8,207.2 1238.2,215.4 1245.5,211.7 1254.7,219.1 1263.9,225.5 1274.9,222.8 1284.1,227.4 1300.6,209.9 1313.5,220.9 1326.3,224.6 1337.4,230.1 1348.4,224.6 1364,227.4 1375.9,232 1388.8,232 1397.1,250.3 1413.8,255.8 1448.7,235.6 1463.4,254.9 1477.1,261.3 1488.2,268.7 1499.2,250.3 1513.9,257.6 1531.3,242.9 1546.9,265 1564.4,262.2 1576.3,268.7 1594.7,269.6 1614.9,265 1625.9,284.3 1664.5,256.7" fill="none" stroke="#1f3f95" stroke-width="4.2" stroke-linejoin="round" clip-path="url(#cAi)"/>
<rect x="1157.7" y="205.06" width="12.8" height="13.4" fill="#fff" stroke="#1f3f95" stroke-width="4.5"/>
<rect x="1207.71" y="212.99" width="12.8" height="13.4" fill="#fff" stroke="#1f3f95" stroke-width="4.5"/>
<rect x="1257.72" y="218.77" width="12.8" height="13.4" fill="#fff" stroke="#1f3f95" stroke-width="4.5"/>
<rect x="1307.73" y="214.33" width="12.8" height="13.4" fill="#fff" stroke="#1f3f95" stroke-width="4.5"/>
<rect x="1357.74" y="220.63" width="12.8" height="13.4" fill="#fff" stroke="#1f3f95" stroke-width="4.5"/>
<rect x="1407.75" y="249.06" width="12.8" height="13.4" fill="#fff" stroke="#1f3f95" stroke-width="4.5"/>
<rect x="1457.76" y="248.41" width="12.8" height="13.4" fill="#fff" stroke="#1f3f95" stroke-width="4.5"/>
<rect x="1507.77" y="250.93" width="12.8" height="13.4" fill="#fff" stroke="#1f3f95" stroke-width="4.5"/>
<rect x="1557.78" y="255.6" width="12.8" height="13.4" fill="#fff" stroke="#1f3f95" stroke-width="4.5"/>
<rect x="1607.79" y="258.51" width="12.8" height="13.4" fill="#fff" stroke="#1f3f95" stroke-width="4.5"/>
<rect x="1657.8" y="250.42" width="12.8" height="13.4" fill="#fff" stroke="#1f3f95" stroke-width="4.5"/>
<polyline points="1162.9,186.9 1175.7,197 1189.5,218.2 1203.3,204.4 1213.4,198.9 1230.8,182.4 1238.2,195.2 1245.5,190.6 1252.9,197 1263,207.2 1274.9,202.6 1284.1,212.7 1300.6,186.9 1313.5,204.4 1326.3,209.9 1339.2,217.3 1348.4,211.7 1364,213.6 1388.8,220.9 1397.1,248.5 1413.8,249.4 1427.5,244.8 1439.5,244.8 1449.6,224.6 1456.9,246.6 1463.4,250.3 1488.2,272.3 1499.2,246.6 1512.9,255.8 1530.4,241.1 1546.9,266.8 1579.1,274.2 1594.7,276 1613,279.7 1625,296.2 1638.8,277.8 1664.5,261.3" fill="none" stroke="#f0963a" stroke-width="4.2" stroke-linejoin="round" clip-path="url(#cAi)"/>
<polygon points="1163.8,179.39 1172.8,192.59 1154.8,192.59" fill="#fff" stroke="#f0963a" stroke-width="4" stroke-miterlimit="10"/>
<polygon points="1213.81,190.17 1222.81,203.37 1204.81,203.37" fill="#fff" stroke="#f0963a" stroke-width="4" stroke-miterlimit="10"/>
<polygon points="1263.82,198.53 1272.82,211.73 1254.82,211.73" fill="#fff" stroke="#f0963a" stroke-width="4" stroke-miterlimit="10"/>
<polygon points="1313.83,196.25 1322.83,209.45 1304.83,209.45" fill="#fff" stroke="#f0963a" stroke-width="4" stroke-miterlimit="10"/>
<polygon points="1363.84,205.26 1372.84,218.46 1354.84,218.46" fill="#fff" stroke="#f0963a" stroke-width="4" stroke-miterlimit="10"/>
<polygon points="1413.85,241.05 1422.85,254.25 1404.85,254.25" fill="#fff" stroke="#f0963a" stroke-width="4" stroke-miterlimit="10"/>
<polygon points="1463.86,242.43 1472.86,255.63 1454.86,255.63" fill="#fff" stroke="#f0963a" stroke-width="4" stroke-miterlimit="10"/>
<polygon points="1513.87,246.72 1522.87,259.92 1504.87,259.92" fill="#fff" stroke="#f0963a" stroke-width="4" stroke-miterlimit="10"/>
<polygon points="1563.88,262.29 1572.88,275.49 1554.88,275.49" fill="#fff" stroke="#f0963a" stroke-width="4" stroke-miterlimit="10"/>
<polygon points="1613.89,272.55 1622.89,285.75 1604.89,285.75" fill="#fff" stroke="#f0963a" stroke-width="4" stroke-miterlimit="10"/>
<polygon points="1663.9,253.37 1672.9,266.57 1654.9,266.57" fill="#fff" stroke="#f0963a" stroke-width="4" stroke-miterlimit="10"/>
<polyline points="1164.7,163.1 1177.6,176.8 1189.5,204.4 1203.3,193.4 1214.3,177.8 1232.7,155.7 1239.1,175 1245.5,167.7 1252.9,180.5 1263.9,189.7 1274.9,185.1 1284.1,197 1302.5,162.1 1313.5,186.9 1326.3,189.7 1339.2,201.6 1348.4,195.2 1364,204.4 1375.9,197 1381.4,209.9 1388.8,204.4 1397.1,248.5 1413.8,242.9 1427.5,246.6 1439.5,235.6 1449.6,211.7 1456.9,233.8 1463.4,242.9 1475.3,244.8 1488.2,277.8 1499.2,242.9 1512.9,250.3 1530.4,235.6 1546.9,268.7 1556.1,281.5 1563.5,276 1579.1,283.3 1591,285.2 1603.9,283.3 1613,287 1625,309.1 1638.8,287 1664.5,266.8" fill="none" stroke="#e3342b" stroke-width="4.2" stroke-linejoin="round" clip-path="url(#cAi)"/>
<polygon points="1172.1,163.07 1158.9,154.07 1158.9,172.07" fill="#fff" stroke="#e3342b" stroke-width="4" stroke-miterlimit="10"/>
<polygon points="1222.11,178.44 1208.91,169.44 1208.91,187.44" fill="#fff" stroke="#e3342b" stroke-width="4" stroke-miterlimit="10"/>
<polygon points="1272.12,189.65 1258.92,180.65 1258.92,198.65" fill="#fff" stroke="#e3342b" stroke-width="4" stroke-miterlimit="10"/>
<polygon points="1322.13,187.02 1308.93,178.02 1308.93,196.02" fill="#fff" stroke="#e3342b" stroke-width="4" stroke-miterlimit="10"/>
<polygon points="1372.14,204.31 1358.94,195.31 1358.94,213.31" fill="#fff" stroke="#e3342b" stroke-width="4" stroke-miterlimit="10"/>
<polygon points="1422.15,242.96 1408.95,233.96 1408.95,251.96" fill="#fff" stroke="#e3342b" stroke-width="4" stroke-miterlimit="10"/>
<polygon points="1472.16,243.02 1458.96,234.02 1458.96,252.02" fill="#fff" stroke="#e3342b" stroke-width="4" stroke-miterlimit="10"/>
<polygon points="1522.17,249.51 1508.97,240.51 1508.97,258.51" fill="#fff" stroke="#e3342b" stroke-width="4" stroke-miterlimit="10"/>
<polygon points="1572.18,276.2 1558.98,267.2 1558.98,285.2" fill="#fff" stroke="#e3342b" stroke-width="4" stroke-miterlimit="10"/>
<polygon points="1622.19,288.59 1608.99,279.59 1608.99,297.59" fill="#fff" stroke="#e3342b" stroke-width="4" stroke-miterlimit="10"/>
<polygon points="1672.2,267.26 1659,258.26 1659,276.26" fill="#fff" stroke="#e3342b" stroke-width="4" stroke-miterlimit="10"/>
<polyline points="1162.9,138.3 1168.4,151.1 1178.5,158.5 1189.5,189.7 1197.8,175 1203.3,178.7 1212.5,158.5 1219.8,149.3 1232.7,129.1 1239.1,156.6 1245.5,143.8 1252.9,151.1 1258.4,167.7 1269.4,163.1 1274.9,178.7 1276.7,166.7 1284.1,184.2 1300.6,138.3 1308,165.8 1319,151.1 1326.3,169.5 1337.4,189.7 1344.7,175 1355.7,184.2 1363.1,182.4 1370.4,171.3 1375.9,198.9 1381.4,195.2 1388.8,193.4 1397.1,246.6 1403.5,228.3 1407.3,224.6 1413.8,233.8 1420.2,222.7 1427.5,239.3 1433.1,224.6 1439.5,240.2 1449.6,200.7 1456.9,230.1 1463.4,233.8 1470.7,222.7 1488.2,282.4 1499.2,237.4 1505.6,244.8 1512.9,247.5 1521.2,235.6 1530.4,230.1 1539.6,246.6 1546.9,265 1554.3,299.9 1563.5,286.1 1570.8,270.5 1579.1,288.9 1587.3,277.8 1591,299.9 1598.3,281.5 1603.9,294.4 1613,295.3 1619.5,285.2 1625,320.1 1638.8,287 1659,247.5 1664.5,267.7" fill="none" stroke="#000000" stroke-width="4.2" stroke-linejoin="round" clip-path="url(#cAi)"/>
<polygon points="1155.5,140.47 1168.7,131.47 1168.7,149.47" fill="#fff" stroke="#000000" stroke-width="4" stroke-miterlimit="10"/>
<polygon points="1205.51,156.78 1218.71,147.78 1218.71,165.78" fill="#fff" stroke="#000000" stroke-width="4" stroke-miterlimit="10"/>
<polygon points="1255.52,165.39 1268.72,156.39 1268.72,174.39" fill="#fff" stroke="#000000" stroke-width="4" stroke-miterlimit="10"/>
<polygon points="1305.53,158.01 1318.73,149.01 1318.73,167.01" fill="#fff" stroke="#000000" stroke-width="4" stroke-miterlimit="10"/>
<polygon points="1355.54,181.21 1368.74,172.21 1368.74,190.21" fill="#fff" stroke="#000000" stroke-width="4" stroke-miterlimit="10"/>
<polygon points="1405.55,233.63 1418.75,224.63 1418.75,242.63" fill="#fff" stroke="#000000" stroke-width="4" stroke-miterlimit="10"/>
<polygon points="1455.56,233.01 1468.76,224.01 1468.76,242.01" fill="#fff" stroke="#000000" stroke-width="4" stroke-miterlimit="10"/>
<polygon points="1505.57,246.2 1518.77,237.2 1518.77,255.2" fill="#fff" stroke="#000000" stroke-width="4" stroke-miterlimit="10"/>
<polygon points="1555.58,285.19 1568.78,276.19 1568.78,294.19" fill="#fff" stroke="#000000" stroke-width="4" stroke-miterlimit="10"/>
<polygon points="1605.59,293.95 1618.79,284.95 1618.79,302.95" fill="#fff" stroke="#000000" stroke-width="4" stroke-miterlimit="10"/>
<polygon points="1655.6,265.67 1668.8,256.67 1668.8,274.67" fill="#fff" stroke="#000000" stroke-width="4" stroke-miterlimit="10"/>
<line x1="1719.5" y1="68" x2="1681" y2="143" stroke="#000" stroke-width="5.5"/>
<polygon points="1668.8,166.5 1673.6,132 1677.5,141.5 1684,146.5 1695,144.6" fill="#000" stroke="#000" stroke-width="1" stroke-linejoin="miter"/>
<text x="909.3" y="628.7" font-size="64.3" text-anchor="middle" fill="#000" font-family="'Liberation Serif', 'Times New Roman', serif">(A)</text>
<line x1="125.1" y1="1104.7" x2="125.1" y2="1088.4" stroke="#262626" stroke-width="5.2"/>
<line x1="125.1" y1="694.1" x2="125.1" y2="710.4" stroke="#262626" stroke-width="5.2"/>
<line x1="401.98" y1="1104.7" x2="401.98" y2="1088.4" stroke="#262626" stroke-width="5.2"/>
<line x1="401.98" y1="694.1" x2="401.98" y2="710.4" stroke="#262626" stroke-width="5.2"/>
<line x1="678.87" y1="1104.7" x2="678.87" y2="1088.4" stroke="#262626" stroke-width="5.2"/>
<line x1="678.87" y1="694.1" x2="678.87" y2="710.4" stroke="#262626" stroke-width="5.2"/>
<line x1="955.75" y1="1104.7" x2="955.75" y2="1088.4" stroke="#262626" stroke-width="5.2"/>
<line x1="955.75" y1="694.1" x2="955.75" y2="710.4" stroke="#262626" stroke-width="5.2"/>
<line x1="1232.63" y1="1104.7" x2="1232.63" y2="1088.4" stroke="#262626" stroke-width="5.2"/>
<line x1="1232.63" y1="694.1" x2="1232.63" y2="710.4" stroke="#262626" stroke-width="5.2"/>
<line x1="1509.52" y1="1104.7" x2="1509.52" y2="1088.4" stroke="#262626" stroke-width="5.2"/>
<line x1="1509.52" y1="694.1" x2="1509.52" y2="710.4" stroke="#262626" stroke-width="5.2"/>
<line x1="1786.4" y1="1104.7" x2="1786.4" y2="1088.4" stroke="#262626" stroke-width="5.2"/>
<line x1="1786.4" y1="694.1" x2="1786.4" y2="710.4" stroke="#262626" stroke-width="5.2"/>
<line x1="125.1" y1="1104.7" x2="143.1" y2="1104.7" stroke="#262626" stroke-width="5.2"/>
<line x1="1786.4" y1="1104.7" x2="1768.4" y2="1104.7" stroke="#262626" stroke-width="5.2"/>
<line x1="125.1" y1="967.83" x2="143.1" y2="967.83" stroke="#262626" stroke-width="5.2"/>
<line x1="1786.4" y1="967.83" x2="1768.4" y2="967.83" stroke="#262626" stroke-width="5.2"/>
<line x1="125.1" y1="830.97" x2="143.1" y2="830.97" stroke="#262626" stroke-width="5.2"/>
<line x1="1786.4" y1="830.97" x2="1768.4" y2="830.97" stroke="#262626" stroke-width="5.2"/>
<line x1="125.1" y1="694.1" x2="143.1" y2="694.1" stroke="#262626" stroke-width="5.2"/>
<line x1="1786.4" y1="694.1" x2="1768.4" y2="694.1" stroke="#262626" stroke-width="5.2"/>
<rect x="125.1" y="694.1" width="1661.3" height="410.6" fill="none" stroke="#262626" stroke-width="5.2" stroke-linejoin="miter"/>
<text x="125.1" y="1162" font-size="38" text-anchor="middle" fill="#262626" font-family="'Liberation Sans', Arial, Helvetica, sans-serif">0</text>
<text x="401.98" y="1162" font-size="38" text-anchor="middle" fill="#262626" font-family="'Liberation Sans', Arial, Helvetica, sans-serif">5</text>
<text x="678.87" y="1162" font-size="38" text-anchor="middle" fill="#262626" font-family="'Liberation Sans', Arial, Helvetica, sans-serif">10</text>
<text x="955.75" y="1162" font-size="38" text-anchor="middle" fill="#262626" font-family="'Liberation Sans', Arial, Helvetica, sans-serif">15</text>
<text x="1232.63" y="1162" font-size="38" text-anchor="middle" fill="#262626" font-family="'Liberation Sans', Arial, Helvetica, sans-serif">20</text>
<text x="1509.52" y="1162" font-size="38" text-anchor="middle" fill="#262626" font-family="'Liberation Sans', Arial, Helvetica, sans-serif">25</text>
<text x="1786.4" y="1162" font-size="38" text-anchor="middle" fill="#262626" font-family="'Liberation Sans', Arial, Helvetica, sans-serif">30</text>
<text x="109.1" y="1122.57" font-size="38" text-anchor="end" fill="#262626" font-family="'Liberation Sans', Arial, Helvetica, sans-serif">0</text>
<text x="109.1" y="984.84" font-size="38" text-anchor="end" fill="#262626" font-family="'Liberation Sans', Arial, Helvetica, sans-serif">0.1</text>
<text x="109.1" y="847.11" font-size="38" text-anchor="end" fill="#262626" font-family="'Liberation Sans', Arial, Helvetica, sans-serif">0.2</text>
<text x="109.1" y="709.38" font-size="38" text-anchor="end" fill="#262626" font-family="'Liberation Sans', Arial, Helvetica, sans-serif">0.3</text>
<polyline points="125.1,1104.7 128.4,1097.3 130.1,1094.9 131.7,1094.3 135.6,1095.6 137.3,1094.2 138.9,1090.7 142.3,1081.3 143.9,1078.6 144.5,1078.2 145.6,1078.3 148.9,1081.4 150,1081.4 150.6,1080.9 152.2,1077.7 156.1,1064.7 157.8,1061.8 158.3,1061.6 159.4,1062 162.8,1065.9 163.9,1066 164.4,1065.5 166.1,1061.8 170,1048 171.6,1045 172.2,1044.7 173.3,1045.2 176.6,1049.6 177.7,1049.7 178.3,1049.2 179.9,1045.3 183.8,1030.6 185.5,1027.3 186,1027 187.1,1027.5 190.4,1032.2 191.6,1032.3 192.1,1031.8 193.8,1027.6 197.1,1013.6 198.8,1008.9 199.3,1008.2 200.4,1008 201.5,1009.2 203.7,1012.9 204.8,1013.7 205.9,1013 206.5,1012 208.2,1006.4 210.9,993.9 212.6,989 213.1,988.3 214.3,988.1 218.1,994.3 219.2,994.6 219.8,994 221.5,989.5 224.8,974.3 226.4,969.3 227,968.6 228.1,968.6 232,975.8 233.1,976.2 233.6,975.7 235.3,971.3 239.2,953.6 240.8,950.1 241.4,949.9 242.5,951 245.8,958 246.9,958.5 247.5,958 249.1,953.4 253,935.2 254.7,931.6 255.2,931.5 256.3,932.6 259.7,940 260.8,940.6 261.3,940.1 263,935.5 266.3,919.4 268,914.3 268.5,913.7 269.6,914 273.5,923.1 274.6,923.9 275.2,923.4 276.8,919 280.7,900.9 281.8,898.2 282.4,897.6 282.9,897.7 284,899.3 287.4,908.5 288.5,909.6 289,909.3 290.7,905.2 294,889.6 295.7,885.1 296.2,884.7 297.3,885.6 301.2,897 302.3,898.4 302.9,898.2 304.5,894.3 308.4,876.9 309.5,874.4 310.1,874.1 310.6,874.4 311.7,876.5 315,887.4 316.1,888.9 316.7,888.8 318.4,885 322.2,867.5 323.3,865.1 323.9,864.8 324.5,865.1 325.6,867.4 328.9,878.8 330,880.4 330.5,880.4 332.2,876.5 336.1,858.7 337.2,856.2 337.7,855.9 338.3,856.3 339.4,858.6 342.7,870.4 343.8,872 344.4,871.9 346.1,867.9 349.9,849.6 351,847.1 351.6,846.7 352.1,847.1 353.3,849.4 356.6,861.1 357.7,862.7 358.2,862.6 359.9,858.5 363.2,842.1 364.9,837.5 365.4,837.2 366.5,838.4 370.4,851.6 371.5,853.2 372.1,853 373.7,848.9 377.6,830.6 378.7,828.1 379.3,827.8 379.8,828.2 380.9,830.6 384.3,842.5 385.4,844.1 385.9,844 387.6,840.1 390.9,824.1 392.6,819.7 393.1,819.4 394.2,820.8 398.1,834.6 399.2,836.4 399.8,836.4 401.4,832.6 404.8,817.1 406.4,812.9 407,812.7 408.1,814.2 412,828.4 413.1,830.3 413.6,830.3 415.3,826.7 418.6,811.3 420.3,807.2 420.8,807.1 421.9,808.6 425.8,823 426.9,825 427.5,825 428,824.5 429.1,821.5 433,804.4 434.1,802.3 434.7,802.1 435.2,802.6 436.3,805.4 439.6,818.3 440.7,820.3 441.3,820.4 441.9,819.8 443,816.9 446.8,799.9 447.9,797.8 448.5,797.7 449.1,798.2 450.2,800.9 453.5,813.9 454.6,815.9 455.1,816 455.7,815.5 456.8,812.5 460.7,795.6 461.8,793.5 462.3,793.4 462.9,794 464,796.8 467.3,809.8 468.4,811.9 469,812 469.5,811.4 470.7,808.6 474.5,791.8 475.6,789.7 476.2,789.6 476.7,790.2 477.8,793 481.2,806.1 482.3,808.2 482.8,808.3 483.4,807.8 484.5,804.9 488.4,788.2 489.5,786.2 490,786.1 491.7,789.5 495,802.6 496.1,804.7 496.7,804.8 497.2,804.3 498.3,801.5 502.2,784.7 503.3,782.7 503.9,782.6 505.5,786 508.9,799.1 510,801.2 510.5,801.3 511.1,800.7 512.2,797.9 516.1,781.1 517.2,779 517.7,778.9 518.3,779.4 519.4,782.2 522.7,795.3 523.8,797.3 524.4,797.4 524.9,796.9 526,794 529.9,777.1 531,775 531.6,774.9 532.1,775.4 533.2,778.2 536.5,791.2 537.7,793.2 538.2,793.3 538.8,792.8 539.9,789.9 543.7,773 544.9,770.9 545.4,770.8 546,771.4 547.1,774.2 550.4,787.3 551.5,789.3 552.1,789.4 552.6,788.9 553.7,786 557,771.1 558.7,767.2 559.3,767.1 560.4,768.9 564.2,783.7 565.3,785.8 565.9,786 566.5,785.5 567.6,782.6 570.9,767.9 572.5,764.1 573.1,764 574.2,765.8 578.1,780.9 579.2,783.1 579.7,783.2 580.3,782.7 581.4,780 584.7,765.3 586.4,761.6 586.9,761.6 588,763.4 591.9,778.6 593,780.7 593.6,780.9 594.1,780.4 595.2,777.7 598.6,763.1 600.2,759.4 600.8,759.4 601.9,761.2 605.8,776.4 606.9,778.5 607.4,778.7 608,778.2 609.1,775.5 612.4,760.8 614.1,757.1 614.6,757 615.7,758.8 619.1,772.1 620.7,776 621.3,776.2 622.4,774.6 626.3,758.2 627.9,754.3 628.5,754.2 629.6,756 633.5,770.8 634.6,772.9 635.1,773 635.7,772.5 636.8,769.6 640.1,754.7 641.8,750.8 642.3,750.7 643.4,752.4 647.3,767.1 648.4,769.2 649,769.3 649.5,768.7 650.6,765.8 653.9,750.9 655.6,746.9 656.2,746.8 657.3,748.5 661.1,763.3 662.3,765.4 662.8,765.5 663.4,765 664.5,762.1 667.8,747.2 669.5,743.4 670,743.3 671.1,745.1 675,760 676.1,762.2 676.7,762.3 677.2,761.8 678.3,759.1 682.2,742.6 683.3,740.7 683.9,740.6 685.5,744.2 688.8,757.6 689.9,759.8 690.5,760 691,759.5 692.2,756.7 696,740.4 697.1,738.5 697.7,738.4 699.4,742 702.7,755.5 703.8,757.7 704.3,757.9 704.9,757.4 706,754.7 709.9,738.4 711,736.5 711.5,736.5 713.2,740.1 716.5,753.7 717.6,755.9 718.2,756.1 718.7,755.7 719.8,752.9 723.7,736.7 724.8,734.8 725.4,734.8 727,738.4 730.4,752.1 731.5,754.3 732,754.5 732.6,754 733.7,751.3 737.6,735.2 738.7,733.3 739.2,733.3 740.9,736.9 744.2,750.6 745.3,752.9 745.9,753.1 746.4,752.6 747.5,750 751.4,733.9 752.5,732 753.1,732 754.7,735.7 758.1,749.4 759.2,751.7 759.7,751.9 760.3,751.5 761.4,748.8 765.3,732.7 766.4,730.9 766.9,730.9 768.6,734.6 771.9,748.3 773,750.6 773.6,750.8 774.1,750.3 775.2,747.7 779.1,731.5 780.2,729.7 780.8,729.7 782.4,733.3 785.7,747 786.9,749.2 787.4,749.4 788,749 789.1,746.3 792.4,731.8 794.1,728.1 794.6,728.1 795.7,729.9 799.6,745.1 800.7,747.3 801.2,747.4 801.8,747 802.9,744.2 806.2,729.5 807.9,725.7 808.4,725.7 809.6,727.5 813.4,742.5 814.5,744.7 815.1,744.8 815.6,744.3 816.8,741.5 820.1,726.9 821.7,723.1 822.3,723.1 823.4,724.9 827.3,740 828.4,742.2 828.9,742.3 829.5,741.9 830.6,739.1 833.9,724.6 835.6,720.9 836.1,720.9 837.2,722.8 841.1,738.3 842.2,740.5 842.8,740.7 843.3,740.3 844.4,737.7 848.3,721.8 849.4,720 850,720 851.6,723.8 855,737.7 856.1,740 856.6,740.2 857.2,739.8 858.3,737.2 861.6,723.1 863.3,719.5 863.8,719.6 864.9,721.6 868.8,737.3 869.9,739.6 870.5,739.8 871,739.5 872.1,736.9 875.5,722.7 877.1,719.2 877.7,719.3 878.8,721.3 882.7,737 883.8,739.3 884.3,739.6 884.9,739.2 886,736.6 889.3,722.5 891,719 891.5,719 892.6,721 896.5,736.7 897.6,739.1 898.2,739.3 898.7,738.9 899.8,736.3 903.1,722.2 904.8,718.7 905.4,718.7 906.5,720.7 910.3,736.4 911.4,738.8 912,739 912.6,738.6 913.7,736 917,721.9 918.6,718.4 919.2,718.4 920.3,720.4 924.2,736.1 925.3,738.5 925.8,738.7 926.4,738.3 927.5,735.7 930.8,721.6 932.5,718.1 933,718.2 934.2,720.1 938,735.9 939.1,738.2 939.7,738.4 940.2,738 941.4,735.4 944.7,721.3 946.3,717.8 946.9,717.9 948,719.9 951.9,735.6 953,737.9 953.5,738.2 954.1,737.8 955.2,735.2 958.5,721.1 960.2,717.6 960.7,717.6 961.8,719.6 965.7,735.3 966.8,737.6 967.4,737.9 967.9,737.5 969,734.9 972.4,720.8 974,717.3 974.6,717.4 975.7,719.3 979.6,735.1 980.7,737.4 981.2,737.7 981.8,737.3 982.9,734.7 986.2,720.6 987.9,717.1 988.4,717.1 989.5,719.1 993.4,734.9 994.5,737.2 995.1,737.4 995.6,737 996.7,734.5 1000.1,720.4 1001.7,716.9 1002.3,716.9 1003.4,718.9 1007.3,734.7 1008.4,737 1008.9,737.2 1009.5,736.8 1010.6,734.3 1013.9,720.2 1015.6,716.7 1016.1,716.7 1017.2,718.7 1021.1,734.5 1022.2,736.8 1022.8,737.1 1023.3,736.7 1024.4,734.1 1028.3,718.3 1029.4,716.5 1030,716.6 1031.6,720.3 1034.9,734.3 1036,736.6 1036.6,736.9 1037.2,736.5 1038.3,733.9 1041.6,719.8 1043.2,716.3 1043.8,716.4 1044.9,718.4 1048.8,734.1 1049.9,736.5 1050.4,736.7 1051,736.3 1052.1,733.7 1055.4,719.7 1057.1,716.2 1057.6,716.2 1058.8,718.2 1062.6,734 1063.7,736.3 1064.3,736.6 1064.8,736.2 1065.9,733.6 1069.8,717.8 1070.9,716 1071.5,716.1 1073.1,719.9 1076.5,733.8 1077.6,736.1 1078.1,736.4 1078.7,736 1079.8,733.4 1083.1,719.3 1084.8,715.9 1085.3,715.9 1086.4,717.9 1090.3,733.7 1091.4,736 1092,736.3 1092.5,735.9 1093.6,733.3 1097,719.2 1098.6,715.7 1099.2,715.8 1100.3,717.8 1104.2,733.5 1105.3,735.9 1105.8,736.1 1106.4,735.7 1107.5,733.1 1110.8,719.1 1112.5,715.6 1113,715.6 1114.1,717.6 1118,733.4 1119.1,735.7 1119.7,736 1120.2,735.6 1121.3,733 1124.6,718.9 1126.3,715.4 1126.9,715.5 1128,717.5 1131.8,733.2 1133,735.6 1133.5,735.8 1134.1,735.4 1135.2,732.9 1138.5,718.8 1140.2,715.3 1140.7,715.4 1141.8,717.3 1145.7,733.1 1146.8,735.5 1147.4,735.7 1147.9,735.3 1149,732.7 1152.3,718.7 1154,715.2 1154.6,715.2 1155.7,717.2 1159.5,733 1160.6,735.3 1161.2,735.6 1161.8,735.2 1162.9,732.6 1166.2,718.6 1167.8,715.1 1168.4,715.1 1169.5,717.1 1173.4,732.9 1174.5,735.2 1175,735.5 1175.6,735.1 1176.7,732.5 1180,718.5 1181.7,715 1182.2,715 1183.3,717 1187.2,732.8 1188.3,735.1 1188.9,735.4 1189.4,735 1190.5,732.4 1193.9,718.4 1195.5,714.9 1196.1,714.9 1197.2,716.9 1201.1,732.7 1202.2,735.1 1202.7,735.3 1203.3,734.9 1204.4,732.3 1207.7,718.3 1208.8,715.4 1209.4,714.8 1209.9,714.9 1211,716.8 1214.9,732.6 1216,735 1216.6,735.2 1217.1,734.8 1218.2,732.3 1221.6,718.2 1222.7,715.3 1223.2,714.7 1223.8,714.8 1224.9,716.8 1228.8,732.6 1229.9,734.9 1230.4,735.2 1231,734.8 1232.1,732.2 1235.4,718.1 1236.5,715.2 1237.1,714.7 1237.6,714.7 1238.7,716.7 1242.6,732.5 1243.7,734.9 1244.3,735.1 1244.8,734.7 1245.9,732.1 1249.2,718.1 1250.4,715.2 1250.9,714.6 1251.5,714.7 1252.6,716.7 1256.4,732.5 1257.6,734.8 1258.1,735 1258.7,734.7 1259.8,732.1 1263.1,718 1264.2,715.1 1264.8,714.5 1265.3,714.6 1266.4,716.6 1270.3,732.4 1271.4,734.7 1272,735 1272.5,734.6 1273.6,732 1276.9,718 1278,715.1 1278.6,714.5 1279.1,714.6 1280.3,716.5 1284.1,732.3 1285.2,734.7 1285.8,734.9 1286.3,734.5 1287.5,732 1290.8,717.9 1291.9,715 1292.4,714.4 1293,714.5 1294.1,716.5 1298,732.3 1299.1,734.6 1299.6,734.9 1300.2,734.5 1301.3,731.9 1304.6,717.9 1305.7,715 1306.3,714.4 1306.8,714.4 1307.9,716.4 1311.8,732.2 1312.9,734.6 1313.5,734.8 1314,734.4 1315.1,731.9 1318.5,717.8 1319.6,714.9 1320.1,714.3 1320.7,714.4 1321.8,716.4 1325.7,732.2 1326.8,734.5 1327.3,734.8 1327.9,734.4 1329,731.8 1332.3,717.8 1333.4,714.9 1334,714.3 1334.5,714.3 1335.6,716.3 1339.5,732.1 1340.6,734.5 1341.2,734.7 1341.7,734.3 1342.8,731.8 1346.2,717.7 1347.3,714.8 1347.8,714.2 1348.4,714.3 1349.5,716.3 1353.4,732.1 1354.5,734.4 1355,734.7 1355.6,734.3 1356.7,731.7 1360,717.6 1361.1,714.7 1361.7,714.2 1362.2,714.2 1363.3,716.2 1367.2,732 1368.3,734.4 1368.9,734.6 1369.4,734.2 1370.5,731.7 1373.8,717.6 1375,714.7 1375.5,714.1 1376.1,714.2 1377.2,716.2 1381,732 1382.2,734.3 1382.7,734.6 1383.3,734.2 1384.4,731.6 1387.7,717.6 1388.8,714.7 1389.3,714.1 1389.9,714.1 1391,716.1 1394.9,731.9 1396,734.3 1396.5,734.5 1397.1,734.1 1398.2,731.6 1401.5,717.5 1402.6,714.6 1403.2,714 1403.7,714.1 1404.9,716.1 1408.7,731.9 1409.8,734.2 1410.4,734.5 1410.9,734.1 1412.1,731.5 1415.4,717.5 1416.5,714.6 1417,714 1417.6,714 1418.7,716 1422.6,731.8 1423.7,734.2 1424.2,734.4 1424.8,734 1425.9,731.5 1429.2,717.4 1430.3,714.5 1430.9,713.9 1431.4,714 1432.5,716 1436.4,731.8 1437.5,734.1 1438.1,734.4 1438.6,734 1439.7,731.4 1443.1,717.4 1444.2,714.5 1444.7,713.9 1445.3,714 1446.4,715.9 1450.3,731.7 1451.4,734.1 1451.9,734.3 1452.5,734 1453.6,731.4 1456.9,717.3 1458,714.4 1458.6,713.8 1459.1,713.9 1460.2,715.9 1464.1,731.7 1465.2,734 1465.8,734.3 1466.3,733.9 1467.4,731.3 1470.8,717.3 1471.9,714.4 1472.4,713.8 1473,713.9 1474.1,715.9 1478,731.7 1479.1,734 1479.6,734.3 1480.2,733.9 1481.3,731.3 1484.6,717.2 1485.7,714.3 1486.3,713.8 1486.8,713.8 1487.9,715.8 1491.8,731.6 1492.9,734 1493.5,734.2 1494,733.8 1495.1,731.3 1498.4,717.2 1499.5,714.3 1500.1,713.7 1500.7,713.8 1501.8,715.8 1505.6,731.6 1506.7,733.9 1507.3,734.2 1507.9,733.8 1509,731.2 1512.3,717.2 1513.4,714.3 1513.9,713.7 1514.5,713.8 1515.6,715.7 1519.5,731.5 1520.6,733.9 1521.1,734.1 1521.7,733.8 1522.8,731.2 1526.1,717.1 1527.2,714.2 1527.8,713.7 1528.3,713.7 1529.5,715.7 1533.3,731.5 1534.4,733.9 1535,734.1 1535.5,733.7 1536.7,731.2 1540,717.1 1541.1,714.2 1541.6,713.6 1542.2,713.7 1543.3,715.7 1547.2,731.5 1548.3,733.8 1548.8,734.1 1549.4,733.7 1550.5,731.1 1553.8,717.1 1554.9,714.2 1555.5,713.6 1556,713.7 1557.1,715.6 1561,731.4 1562.1,733.8 1562.7,734 1563.2,733.7 1564.3,731.1 1567.7,717 1568.8,714.1 1569.3,713.6 1569.9,713.6 1571,715.6 1574.9,731.4 1576,733.8 1576.5,734 1577.1,733.6 1578.2,731.1 1581.5,717 1582.6,714.1 1583.2,713.5 1583.7,713.6 1584.8,715.6 1588.7,731.4 1589.8,733.7 1590.4,734 1590.9,733.6 1592,731 1595.4,717 1596.5,714.1 1597,713.5 1597.6,713.6 1598.7,715.6 1602.5,731.4 1603.7,733.7 1604.2,734 1604.8,733.6 1605.9,731 1609.2,717 1610.3,714.1 1610.9,713.5 1611.4,713.5 1612.5,715.5 1616.4,731.3 1617.5,733.7 1618.1,733.9 1618.6,733.6 1619.7,731 1623,716.9 1624.1,714 1624.7,713.5 1625.3,713.5 1626.4,715.5 1630.2,731.3 1631.3,733.7 1631.9,733.9 1632.5,733.5 1633.6,731 1636.9,716.9 1638,714 1638.5,713.4 1639.1,713.5 1640.2,715.5 1644.1,731.3 1645.2,733.6 1645.7,733.9 1646.3,733.5 1647.4,730.9 1650.7,716.9 1651.8,714 1652.4,713.4 1652.9,713.5 1654,715.5 1657.9,731.3 1659,733.6 1659.6,733.9 1660.1,733.5 1661.2,730.9 1664.6,716.9 1665.7,714 1666.2,713.4 1666.8,713.5 1667.9,715.5 1671.8,731.3 1672.9,733.6 1673.4,733.9 1674,733.5 1675.1,730.9 1678.4,716.9 1679.5,714 1680.1,713.4 1680.6,713.4 1681.7,715.4 1685.6,731.2 1686.7,733.6 1687.3,733.8 1687.8,733.5 1688.9,730.9 1692.3,716.8 1693.4,713.9 1693.9,713.4 1694.5,713.4 1695.6,715.4 1699.5,731.2 1700.6,733.6 1701.1,733.8 1701.7,733.4 1702.8,730.9 1706.1,716.8 1707.2,713.9 1707.8,713.3 1708.3,713.4 1709.4,715.4 1713.3,731.2 1714.4,733.6 1715,733.8 1715.5,733.4 1716.6,730.9 1719.9,716.8 1721.1,713.9 1721.6,713.3 1722.2,713.4 1723.3,715.4 1727.1,731.2 1728.3,733.5 1728.8,733.8 1729.4,733.4 1730.5,730.8 1733.8,716.8 1734.9,713.9 1735.5,713.3 1736,713.4 1737.1,715.4 1741,731.2 1742.1,733.5 1742.7,733.8 1743.2,733.4 1744.3,730.8 1747.6,716.8 1748.7,713.9 1749.3,713.3 1749.9,713.4 1751,715.4 1754.8,731.2 1755.9,733.5 1756.5,733.8 1757.1,733.4 1758.2,730.8 1761.5,716.8 1762.6,713.9 1763.1,713.3 1763.7,713.4 1764.8,715.4 1768.1,729.2 1769.8,733.5 1770.3,733.8 1771.4,732.4 1775.3,716.8 1776.4,713.9 1777,713.3 1777.5,713.4 1778.6,715.4 1783.1,732.6 1784.2,733.8 1784.7,733.4 1786.4,728.8" fill="none" stroke="#9b97f4" stroke-width="4.7" stroke-linejoin="round" clip-path="url(#cB)"/>
<ellipse cx="125.1" cy="1104.7" rx="8.6" ry="9.2" fill="#9b97f4"/>
<ellipse cx="180.48" cy="1043.4" rx="8.6" ry="9.2" fill="#9b97f4"/>
<ellipse cx="235.85" cy="968.96" rx="8.6" ry="9.2" fill="#9b97f4"/>
<ellipse cx="291.23" cy="902.87" rx="8.6" ry="9.2" fill="#9b97f4"/>
<ellipse cx="346.61" cy="865.51" rx="8.6" ry="9.2" fill="#9b97f4"/>
<ellipse cx="401.98" cy="830.34" rx="8.6" ry="9.2" fill="#9b97f4"/>
<ellipse cx="457.36" cy="810.35" rx="8.6" ry="9.2" fill="#9b97f4"/>
<ellipse cx="512.74" cy="795.7" rx="8.6" ry="9.2" fill="#9b97f4"/>
<ellipse cx="568.11" cy="780.49" rx="8.6" ry="9.2" fill="#9b97f4"/>
<ellipse cx="623.49" cy="770.77" rx="8.6" ry="9.2" fill="#9b97f4"/>
<ellipse cx="678.87" cy="756.93" rx="8.6" ry="9.2" fill="#9b97f4"/>
<ellipse cx="734.24" cy="749.26" rx="8.6" ry="9.2" fill="#9b97f4"/>
<ellipse cx="789.62" cy="744.18" rx="8.6" ry="9.2" fill="#9b97f4"/>
<ellipse cx="845" cy="735.65" rx="8.6" ry="9.2" fill="#9b97f4"/>
<ellipse cx="900.37" cy="734.28" rx="8.6" ry="9.2" fill="#9b97f4"/>
<ellipse cx="955.75" cy="733.13" rx="8.6" ry="9.2" fill="#9b97f4"/>
<ellipse cx="1011.13" cy="732.23" rx="8.6" ry="9.2" fill="#9b97f4"/>
<ellipse cx="1066.5" cy="731.55" rx="8.6" ry="9.2" fill="#9b97f4"/>
<ellipse cx="1121.88" cy="730.96" rx="8.6" ry="9.2" fill="#9b97f4"/>
<ellipse cx="1177.26" cy="730.5" rx="8.6" ry="9.2" fill="#9b97f4"/>
<ellipse cx="1232.63" cy="730.18" rx="8.6" ry="9.2" fill="#9b97f4"/>
<ellipse cx="1288.01" cy="729.95" rx="8.6" ry="9.2" fill="#9b97f4"/>
<ellipse cx="1343.39" cy="729.73" rx="8.6" ry="9.2" fill="#9b97f4"/>
<ellipse cx="1398.76" cy="729.53" rx="8.6" ry="9.2" fill="#9b97f4"/>
<ellipse cx="1454.14" cy="729.35" rx="8.6" ry="9.2" fill="#9b97f4"/>
<ellipse cx="1509.52" cy="729.2" rx="8.6" ry="9.2" fill="#9b97f4"/>
<ellipse cx="1564.89" cy="729.06" rx="8.6" ry="9.2" fill="#9b97f4"/>
<ellipse cx="1620.27" cy="728.95" rx="8.6" ry="9.2" fill="#9b97f4"/>
<ellipse cx="1675.65" cy="728.87" rx="8.6" ry="9.2" fill="#9b97f4"/>
<ellipse cx="1731.02" cy="728.82" rx="8.6" ry="9.2" fill="#9b97f4"/>
<ellipse cx="1786.4" cy="728.81" rx="8.6" ry="9.2" fill="#9b97f4"/>
<polyline points="125.1,1104.7 128.4,1097.3 130.1,1094.9 131.7,1094.3 135.6,1095.6 137.3,1094.3 138.9,1090.8 142.3,1081.3 143.9,1078.6 144.5,1078.3 145.6,1078.4 148.9,1081.5 150,1081.5 150.6,1081.1 152.2,1077.8 156.1,1064.8 157.8,1061.9 158.3,1061.6 159.4,1062 162.8,1066.1 163.9,1066.2 164.4,1065.7 166.1,1062 170,1048.1 171.6,1045 172.2,1044.7 173.3,1045.2 176.6,1049.8 177.7,1049.9 178.3,1049.4 179.9,1045.6 183.8,1030.6 185.5,1027.4 186,1027.1 187.1,1027.6 190.4,1032.5 191.6,1032.6 192.1,1032.1 193.8,1027.9 197.1,1013.7 198.8,1009 199.3,1008.2 200.4,1008.1 203.7,1013.2 204.8,1014.1 205.9,1013.4 206.5,1012.4 208.2,1006.7 210.9,994 212.6,989.1 213.1,988.3 214.3,988.2 218.1,994.7 219.2,995 219.8,994.4 221.5,989.9 224.8,974.4 226.4,969.4 227,968.7 228.1,968.7 232,976.2 233.1,976.7 233.6,976.2 235.3,971.7 239.2,953.8 240.8,950.2 241.4,950 242.5,951.1 245.8,958.5 246.9,959 247.5,958.5 249.1,953.9 253,935.4 254.7,931.7 255.2,931.6 256.3,932.8 259.7,940.5 260.8,941.2 261.3,940.7 263,936 266.3,919.6 268,914.4 268.5,913.8 269.6,914.2 273.5,923.6 274.6,924.5 275.2,924.1 276.8,919.6 280.2,903.2 281.8,898.3 282.4,897.7 283.5,898.4 287.4,909.1 288.5,910.2 289,910 290.7,905.8 294.6,887.8 295.7,885.2 296.2,884.8 296.8,885 297.9,887 301.2,897.7 302.3,899.1 302.9,898.9 304.5,894.9 307.8,879.1 309.5,874.6 310.1,874.2 311.2,875.4 315,888.1 316.1,889.7 316.7,889.6 318.4,885.6 322.2,867.6 323.3,865.2 323.9,864.9 324.5,865.2 325.6,867.6 328.9,879.6 330,881.2 330.5,881.2 332.2,877.2 336.1,858.9 337.2,856.4 337.7,856.1 338.3,856.4 339.4,858.9 342.7,871.1 343.8,872.8 344.4,872.7 346.1,868.6 349.4,851.8 351,847.1 351.6,846.8 352.7,848.2 356.6,862 357.7,863.6 358.2,863.5 359.9,859.3 363.2,842.5 364.9,837.7 365.4,837.4 366.5,838.7 370.4,852.4 371.5,854.1 372.1,853.9 373.7,849.7 377.1,832.9 378.7,828.2 379.3,827.9 380.4,829.3 384.3,843.4 385.4,845.1 385.9,845.1 387.6,841 390.9,824.5 392.6,819.9 393.1,819.6 394.2,821.1 398.1,835.5 399.2,837.4 399.8,837.4 401.4,833.4 404.8,817.2 406.4,812.9 407,812.7 408.1,814.4 412,829.4 413.1,831.4 413.6,831.4 414.2,830.8 415.3,827.7 418.6,811.8 420.3,807.5 420.8,807.3 421.9,809 425.8,824 426.9,826 427.5,826.1 428,825.4 429.1,822.3 433,804.4 434.1,802.2 434.7,802.1 435.2,802.7 436.3,805.6 439.6,819.3 440.7,821.4 441.3,821.6 441.9,821 443,818 446.8,800.3 447.9,798.1 448.5,797.9 449.1,798.5 450.2,801.4 453.5,814.9 454.6,817 455.1,817 455.7,816.4 456.8,813.4 460.7,795.6 461.8,793.5 462.3,793.4 462.9,794 464,797 467.3,810.9 468.4,813.1 469,813.2 469.5,812.7 470.7,809.7 474.5,792.2 475.6,790 476.2,789.9 476.7,790.5 477.8,793.4 481.2,807.1 482.3,809.3 482.8,809.4 483.4,808.8 484.5,805.8 488.4,788.2 489.5,786.1 490,786.1 491.7,789.7 495,803.7 496.1,805.9 496.7,806.1 497.2,805.6 498.3,802.6 502.2,785.1 503.3,783 503.9,782.9 504.4,783.5 505.5,786.4 508.9,800.1 510,802.2 510.5,802.3 511.1,801.7 512.2,798.7 516.1,781.1 517.2,778.9 517.7,778.9 519.4,782.5 522.7,796.3 523.8,798.5 524.4,798.7 524.9,798.1 526,795.1 529.3,779.5 531,775.3 531.6,775.2 532.7,776.9 537.1,793.6 537.7,794.3 538.2,794.4 538.8,793.8 540.4,788.4 543.2,775 544.9,770.9 545.4,770.8 546.5,772.7 550.4,788.3 551.5,790.5 552.1,790.7 552.6,790.2 553.7,787.2 557,771.6 558.7,767.5 559.3,767.4 560.4,769.2 564.2,784.7 565.3,786.9 565.9,787 566.5,786.5 567.6,783.5 570.9,768 572.5,764 573.1,764 574.2,766 578.1,782 579.2,784.3 579.7,784.5 580.3,784 581.4,781.2 584.7,765.9 586.4,761.9 586.9,761.9 588,763.8 591.9,779.6 593,781.8 593.6,782 594.1,781.5 595.2,778.6 598.6,763.2 600.2,759.3 600.8,759.3 601.9,761.3 605.8,777.5 606.9,779.8 607.4,780 608,779.5 609.1,776.7 612.4,761.4 614.1,757.4 614.6,757.3 615.7,759.2 619.1,773 620.7,777.1 621.3,777.3 622.4,775.6 626.3,758.3 627.9,754.3 628.5,754.2 629.6,756.1 632.9,770 634.6,774.2 635.1,774.3 635.7,773.8 636.8,770.9 640.1,755.2 641.8,751.1 642.3,751 643.4,752.8 647.3,768.2 648.4,770.3 649,770.4 649.5,769.8 650.6,766.7 653.9,751 655.6,746.9 656.2,746.8 657.3,748.7 661.1,764.4 662.3,766.7 662.8,766.8 663.4,766.3 664.5,763.3 667.8,747.8 669.5,743.7 670,743.6 671.1,745.5 675,761.1 676.1,763.3 676.7,763.4 677.2,762.9 678.3,759.9 681.6,744.5 683.3,740.6 683.9,740.6 685,742.6 688.8,758.7 689.9,761.1 690.5,761.3 691,760.8 692.2,758 695.5,742.7 697.1,738.8 697.7,738.8 698.8,740.7 702.7,756.6 703.8,758.9 704.3,759 704.9,758.5 706,755.6 709.9,738.5 711,736.5 711.5,736.5 713.2,740.4 716.5,754.8 717.6,757.2 718.2,757.4 718.7,757 719.8,754.2 723.7,737.2 724.8,735.2 725.4,735.2 727,738.9 730.4,753.1 731.5,755.4 732,755.6 732.6,755.1 733.7,752.2 737,737.1 738.7,733.3 739.2,733.3 740.3,735.3 744.2,751.8 745.3,754.2 745.9,754.4 746.4,754 747.5,751.2 750.9,736.2 752.5,732.4 753.1,732.4 754.2,734.3 758.6,752 759.7,753.1 760.3,752.6 761.9,747.5 764.7,734.6 766.4,730.9 766.9,730.9 768,733 771.3,747.4 773,751.9 773.6,752.1 774.1,751.7 775.2,748.9 778.5,733.9 780.2,730 780.8,730 781.9,732 785.7,748.1 786.9,750.4 787.4,750.6 788,750.1 789.1,747.2 792.4,731.9 794.1,728.1 794.6,728.1 795.7,730.1 799.6,746.3 800.7,748.6 801.2,748.8 801.8,748.3 802.9,745.5 806.2,730.1 807.9,726.3 808.4,726.3 809.6,728.3 813.4,743.6 814.5,745.6 815.1,745.6 816.8,741.9 820.6,725.1 821.7,723.2 822.3,723.3 824,727.3 827.3,741.9 828.4,744.4 828.9,744.8 829.5,744.5 830.6,742.2 833.9,728.5 835.6,724.7 836.1,724.6 837.2,726.2 840.6,738.4 841.7,741.2 842.2,741.8 842.8,741.9 843.3,741.3 845,736.2 847.8,723.7 848.9,720.8 849.4,720.2 850,720.4 851.1,722.9 854.4,738.2 855.5,741.8 856.6,743.2 857.2,743 858.3,740.9 861.6,727.5 863.3,723.9 863.8,723.8 864.9,725.4 868.8,739.5 869.9,741.3 870.5,741.3 871,740.7 872.1,737.7 875.5,722.9 876.6,720 877.1,719.5 877.7,719.6 878.8,722.1 882.1,737.9 883.2,741.6 884.3,743.1 884.9,743 886,740.8 889.3,727.3 891,723.7 891.5,723.6 892.6,725.2 896.5,739.3 897.6,741.1 898.2,741.1 898.7,740.5 899.8,737.4 903.1,722.4 904.2,719.5 904.8,719 905.4,719.2 906.5,721.7 909.8,737.7 911.4,742.5 912,743 912.6,742.8 913.7,740.6 917.5,725.4 918.6,723.5 919.2,723.4 920.9,726.6 924.2,739 925.3,740.9 925.8,740.9 926.4,740.2 927.5,737 930.8,721.9 931.9,719 932.5,718.4 933,718.6 934.2,721.3 937.5,737.6 938.6,741.4 939.7,743 940.2,742.9 941.4,740.7 944.7,727.3 946.3,723.6 946.9,723.5 948,725.1 951.9,739.2 953,741 953.5,741 954.1,740.4 955.2,737.1 958.5,721.4 959.6,718.5 960.2,718 960.7,718.2 961.8,721 965.2,737.8 966.3,741.6 967.4,743.2 967.9,743.1 969,740.9 972.4,727.2 974,723.5 974.6,723.4 975.7,725 979.6,738.9 980.7,740.7 981.2,740.7 981.8,740.1 982.9,736.7 986.2,721 987.3,718.1 987.9,717.6 988.4,717.8 989.5,720.6 992.9,737.3 994.5,742.2 995.1,742.7 995.6,742.5 996.7,740.4 1000.6,725.2 1001.7,723.3 1002.3,723.2 1003.9,726.5 1007.3,739 1008.4,740.8 1008.9,740.8 1009.5,740.1 1010.6,736.7 1013.9,720.7 1015,717.7 1015.6,717.2 1016.1,717.5 1016.7,718.6 1017.2,720.5 1020.5,737.7 1021.6,741.5 1022.8,743.2 1023.3,743 1024.4,740.9 1027.7,727.3 1029.4,723.6 1030,723.5 1031.1,725.1 1034.9,739.1 1036,741 1036.6,741 1037.2,740.3 1038.3,736.8 1041.6,720.5 1042.7,717.5 1043.2,717 1043.8,717.3 1044.9,720.5 1048.8,739.8 1049.9,742.5 1050.4,743 1051,742.8 1052.1,740.7 1055.4,727.2 1057.1,723.5 1057.6,723.4 1058.8,725.1 1062.6,739.1 1063.7,740.9 1064.3,740.9 1064.8,740.2 1065.9,736.7 1069.3,720.1 1070.4,717.2 1070.9,716.7 1071.5,717 1072,718.1 1072.6,720.1 1076.5,739.7 1077.6,742.5 1078.1,743 1078.7,742.8 1079.8,740.7 1083.1,727.1 1084.8,723.4 1085.3,723.3 1086.4,724.9 1090.3,738.9 1091.4,740.7 1092,740.7 1092.5,740.1 1093.6,736.5 1097,719.9 1098.1,716.9 1098.6,716.5 1099.2,716.8 1100.3,720 1104.2,739.2 1105.3,741.9 1105.8,742.3 1106.4,742.1 1107.5,739.9 1110.8,726.3 1112.5,722.6 1113,722.6 1114.1,724.2 1117.4,736.4 1118.6,739.3 1119.1,739.9 1119.7,740 1120.2,739.4 1121.3,736 1124.6,719.6 1125.8,716.6 1126.3,716.2 1126.9,716.5 1128,719.5 1131.3,736 1133,740.6 1133.5,741 1134.1,740.7 1135.2,738.5 1138.5,725.1 1140.2,721.5 1140.7,721.4 1141.8,723 1145.7,737 1146.8,738.8 1147.4,738.8 1147.9,738.2 1149,735 1152.3,719.2 1153.4,716.2 1154,715.7 1154.6,716 1155.7,718.8 1159.5,737.1 1160.6,739.7 1161.2,740.1 1161.8,739.9 1162.9,737.7 1166.2,724.3 1167.8,720.7 1168.4,720.6 1169.5,722.3 1172.8,734.6 1173.9,737.5 1174.5,738.2 1175,738.2 1175.6,737.7 1176.7,734.5 1180,718.9 1181.1,716 1181.7,715.5 1182.2,715.7 1183.3,718.6 1187.2,736.6 1188.3,739.2 1188.9,739.6 1189.4,739.4 1190.5,737.2 1193.9,723.9 1195.5,720.3 1196.1,720.2 1197.2,721.9 1201.1,735.9 1202.2,737.8 1202.7,737.8 1203.3,737.2 1204.4,734.1 1207.7,718.7 1208.8,715.8 1209.4,715.2 1209.9,715.5 1211,718.2 1214.4,734.2 1215.5,737.8 1216.6,739.3 1217.1,739.1 1218.2,736.9 1221.6,723.5 1223.2,719.9 1223.8,719.8 1224.9,721.5 1228.8,735.5 1229.9,737.3 1230.4,737.4 1231,736.8 1232.1,733.7 1235.4,718.5 1236.5,715.6 1237.1,715.1 1237.6,715.3 1238.7,717.9 1242,733.7 1243.2,737.4 1244.3,738.8 1244.8,738.6 1245.9,736.4 1249.2,723 1250.9,719.4 1251.5,719.4 1252.6,721 1256.4,735 1257.6,736.9 1258.1,736.9 1258.7,736.3 1259.8,733.2 1263.1,718.3 1264.2,715.4 1264.8,714.9 1265.3,715.1 1266.4,717.6 1269.7,733.3 1270.8,737 1272,738.5 1272.5,738.3 1273.6,736.1 1276.9,722.8 1278.6,719.2 1279.1,719.2 1280.3,720.8 1284.1,734.9 1285.2,736.8 1285.8,736.9 1286.3,736.3 1287.5,733.2 1290.8,718.2 1291.9,715.3 1292.4,714.8 1293,715 1294.1,717.6 1297.4,733.4 1298.5,737.1 1299.6,738.6 1300.2,738.4 1301.3,736.2 1304.6,722.9 1306.3,719.3 1306.8,719.2 1307.9,720.9 1311.8,734.9 1312.9,736.8 1313.5,736.8 1314,736.2 1315.1,733.1 1318.5,718.1 1319.6,715.2 1320.1,714.7 1320.7,714.9 1321.8,717.5 1325.1,733.4 1326.2,737.2 1327.3,738.7 1327.9,738.5 1329,736.4 1332.3,723 1334,719.3 1334.5,719.3 1335.6,720.9 1339.5,735 1340.6,736.8 1341.2,736.9 1341.7,736.2 1342.8,733.1 1346.2,718 1347.3,715.1 1347.8,714.6 1348.4,714.8 1349.5,717.4 1352.8,733.6 1353.9,737.4 1355,739 1355.6,738.9 1356.7,736.8 1360,723.3 1361.7,719.7 1362.2,719.6 1363.3,721.3 1367.2,735.4 1368.3,737.2 1368.9,737.2 1369.4,736.5 1370.5,733.2 1374.4,716.1 1375.5,714.5 1376.1,714.7 1377.2,717.4 1381,736.5 1382.2,739.5 1382.7,740 1383.3,740 1384.4,737.9 1388.2,722.6 1389.3,720.6 1389.9,720.6 1390.5,721.1 1391.6,723.8 1394.9,736.3 1396,738.1 1396.5,738.1 1397.1,737.4 1398.2,733.9 1401.5,717.9 1402.6,715 1403.2,714.5 1403.7,714.8 1404.3,715.8 1404.9,717.7 1408.2,735.6 1409.3,739.7 1410.4,741.6 1410.9,741.5 1412.1,739.5 1415.9,724 1417,722 1417.6,721.9 1418.1,722.4 1419.3,725.1 1422.6,737.7 1423.7,739.4 1424.2,739.4 1424.8,738.6 1425.9,734.8 1429.2,718 1430.3,715.1 1430.9,714.6 1431.4,714.9 1432,716.1 1432.5,718.2 1435.9,736.9 1437,741 1438.1,742.8 1438.6,742.7 1439.7,740.6 1443.1,726.8 1444.7,723 1445.3,722.8 1446.4,724.4 1450.3,738.5 1451.4,740.3 1451.9,740.2 1452.5,739.5 1453.6,735.6 1456.9,718.2 1458,715.2 1458.6,714.8 1459.7,716.5 1460.2,718.7 1462.4,731.9 1464.1,739.3 1465.2,742.2 1465.8,742.7 1466.3,742.5 1467.4,740.3 1470.8,726.6 1472.4,722.8 1473,722.7 1474.1,724.3 1478,738.3 1479.1,740 1479.6,740 1480.2,739.4 1481.3,735.6 1484.6,718.2 1485.7,715.2 1486.3,714.7 1487.4,716.4 1487.9,718.6 1490.1,731.3 1491.8,738.5 1492.9,741.1 1493.5,741.6 1494,741.4 1495.1,739.2 1498.4,725.6 1500.1,721.9 1500.7,721.8 1501.8,723.4 1505.6,737.4 1506.7,739.2 1507.3,739.2 1507.9,738.5 1509,734.9 1512.3,718 1513.4,715 1513.9,714.5 1515.1,716.1 1515.6,718.2 1519.5,737.6 1520.6,740.2 1521.1,740.7 1521.7,740.5 1522.8,738.4 1526.1,724.9 1527.8,721.3 1528.3,721.2 1529.5,722.8 1533.3,736.8 1534.4,738.7 1535,738.7 1535.5,738 1536.7,734.4 1540,717.8 1541.1,714.8 1541.6,714.3 1542.2,714.7 1542.7,715.8 1543.3,717.8 1547.2,737.6 1548.3,740.5 1548.8,741 1549.4,740.9 1550.5,738.9 1553.8,725.4 1555.5,721.7 1556,721.6 1557.1,723.3 1561,737.4 1562.1,739.2 1562.7,739.2 1563.2,738.5 1564.3,734.8 1567.7,717.8 1568.8,714.8 1569.3,714.3 1569.9,714.7 1570.4,715.9 1571,718 1574.9,739 1576,742.1 1576.5,742.7 1577.1,742.6 1578.2,740.6 1582.1,725.3 1583.2,723.3 1583.7,723.2 1584.3,723.8 1585.4,726.5 1588.7,739.1 1589.8,740.9 1590.4,740.8 1590.9,740 1592,735.9 1595.4,717.9 1596.5,714.9 1597,714.5 1598.1,716.3 1598.7,718.7 1600.9,733 1602.5,741 1603.7,744.2 1604.2,744.8 1604.8,744.8 1605.9,742.8 1609.2,729 1610.9,725.1 1611.4,725 1612.5,726.6 1616.4,740.8 1617.5,742.5 1618.1,742.5 1618.6,741.7 1619.7,737.3 1623,718.2 1624.1,715.2 1624.7,714.8 1625.8,716.9 1626.4,719.5 1629.7,739.8 1630.8,743.8 1631.9,745.6 1632.5,745.5 1633.6,743.3 1636.9,729.4 1638.5,725.6 1639.1,725.4 1640.2,727 1644.1,740.9 1645.2,742.7 1645.7,742.6 1646.3,741.9 1647.4,737.5 1650.7,718.3 1651.8,715.2 1652.4,714.9 1653.5,716.9 1654,719.5 1657.4,739.3 1658.5,743.1 1659.6,744.7 1660.1,744.6 1661.2,742.4 1664.6,728.8 1666.2,725 1666.8,724.9 1667.9,726.6 1671.8,740.5 1672.9,742.3 1673.4,742.4 1674,741.6 1675.1,737.4 1678.4,718.3 1679.5,715.2 1680.1,714.8 1681.2,716.9 1681.7,719.5 1685.1,738.9 1686.2,742.7 1687.3,744.2 1687.8,744.1 1688.9,741.9 1692.3,728.3 1693.9,724.6 1694.5,724.5 1695.6,726.1 1699.5,740 1700.6,741.8 1701.1,741.8 1701.7,741.1 1702.8,736.9 1706.1,718.1 1707.2,715 1707.8,714.6 1708.9,716.6 1709.4,719 1712.7,738.3 1713.9,742.1 1715,743.7 1715.5,743.6 1716.6,741.4 1719.9,727.7 1721.6,723.9 1722.2,723.8 1723.3,725.4 1727.1,739.3 1728.3,741.1 1728.8,741.1 1729.4,740.4 1730.5,736.3 1733.8,718 1734.9,714.9 1735.5,714.5 1736.6,716.4 1737.1,718.7 1740.4,737.4 1741.5,741.2 1742.7,742.7 1743.2,742.5 1744.3,740.3 1747.6,726.6 1749.3,722.9 1749.9,722.8 1751,724.3 1754.8,738.2 1755.9,740 1756.5,739.9 1757.1,739.3 1758.2,735.4 1761.5,717.8 1762.6,714.8 1763.1,714.3 1764.2,716 1764.8,718.2 1767,731.1 1768.7,738.3 1769.8,741 1770.3,741.5 1770.9,741.3 1772,739.1 1775.3,725.7 1777,722 1777.5,721.9 1778.6,723.6 1782,735.9 1783.6,739.4 1784.2,739.5 1784.7,738.8 1786.4,732.3" fill="none" stroke="#4fb8e6" stroke-width="4.7" stroke-linejoin="round" clip-path="url(#cB)"/>
<ellipse cx="125.1" cy="1104.7" rx="7.7" ry="8.1" fill="#fff" stroke="#4fb8e6" stroke-width="4"/>
<ellipse cx="180.48" cy="1043.62" rx="7.7" ry="8.1" fill="#fff" stroke="#4fb8e6" stroke-width="4"/>
<ellipse cx="235.85" cy="969.34" rx="7.7" ry="8.1" fill="#fff" stroke="#4fb8e6" stroke-width="4"/>
<ellipse cx="291.23" cy="903.41" rx="7.7" ry="8.1" fill="#fff" stroke="#4fb8e6" stroke-width="4"/>
<ellipse cx="346.61" cy="866.14" rx="7.7" ry="8.1" fill="#fff" stroke="#4fb8e6" stroke-width="4"/>
<ellipse cx="401.98" cy="831.06" rx="7.7" ry="8.1" fill="#fff" stroke="#4fb8e6" stroke-width="4"/>
<ellipse cx="457.36" cy="811.06" rx="7.7" ry="8.1" fill="#fff" stroke="#4fb8e6" stroke-width="4"/>
<ellipse cx="512.74" cy="796.42" rx="7.7" ry="8.1" fill="#fff" stroke="#4fb8e6" stroke-width="4"/>
<ellipse cx="568.11" cy="781.24" rx="7.7" ry="8.1" fill="#fff" stroke="#4fb8e6" stroke-width="4"/>
<ellipse cx="623.49" cy="771.52" rx="7.7" ry="8.1" fill="#fff" stroke="#4fb8e6" stroke-width="4"/>
<ellipse cx="678.87" cy="757.7" rx="7.7" ry="8.1" fill="#fff" stroke="#4fb8e6" stroke-width="4"/>
<ellipse cx="734.24" cy="750.04" rx="7.7" ry="8.1" fill="#fff" stroke="#4fb8e6" stroke-width="4"/>
<ellipse cx="789.62" cy="744.98" rx="7.7" ry="8.1" fill="#fff" stroke="#4fb8e6" stroke-width="4"/>
<ellipse cx="845" cy="736.16" rx="7.7" ry="8.1" fill="#fff" stroke="#4fb8e6" stroke-width="4"/>
<ellipse cx="900.37" cy="735.1" rx="7.7" ry="8.1" fill="#fff" stroke="#4fb8e6" stroke-width="4"/>
<ellipse cx="955.75" cy="734.61" rx="7.7" ry="8.1" fill="#fff" stroke="#4fb8e6" stroke-width="4"/>
<ellipse cx="1011.13" cy="734.18" rx="7.7" ry="8.1" fill="#fff" stroke="#4fb8e6" stroke-width="4"/>
<ellipse cx="1066.5" cy="734.04" rx="7.7" ry="8.1" fill="#fff" stroke="#4fb8e6" stroke-width="4"/>
<ellipse cx="1121.88" cy="733.41" rx="7.7" ry="8.1" fill="#fff" stroke="#4fb8e6" stroke-width="4"/>
<ellipse cx="1177.26" cy="732.1" rx="7.7" ry="8.1" fill="#fff" stroke="#4fb8e6" stroke-width="4"/>
<ellipse cx="1232.63" cy="731.34" rx="7.7" ry="8.1" fill="#fff" stroke="#4fb8e6" stroke-width="4"/>
<ellipse cx="1288.01" cy="730.95" rx="7.7" ry="8.1" fill="#fff" stroke="#4fb8e6" stroke-width="4"/>
<ellipse cx="1343.39" cy="730.79" rx="7.7" ry="8.1" fill="#fff" stroke="#4fb8e6" stroke-width="4"/>
<ellipse cx="1398.76" cy="731.31" rx="7.7" ry="8.1" fill="#fff" stroke="#4fb8e6" stroke-width="4"/>
<ellipse cx="1454.14" cy="732.76" rx="7.7" ry="8.1" fill="#fff" stroke="#4fb8e6" stroke-width="4"/>
<ellipse cx="1509.52" cy="732.22" rx="7.7" ry="8.1" fill="#fff" stroke="#4fb8e6" stroke-width="4"/>
<ellipse cx="1564.89" cy="732" rx="7.7" ry="8.1" fill="#fff" stroke="#4fb8e6" stroke-width="4"/>
<ellipse cx="1620.27" cy="734.09" rx="7.7" ry="8.1" fill="#fff" stroke="#4fb8e6" stroke-width="4"/>
<ellipse cx="1675.65" cy="734.23" rx="7.7" ry="8.1" fill="#fff" stroke="#4fb8e6" stroke-width="4"/>
<ellipse cx="1731.02" cy="733.27" rx="7.7" ry="8.1" fill="#fff" stroke="#4fb8e6" stroke-width="4"/>
<ellipse cx="1786.4" cy="732.3" rx="7.7" ry="8.1" fill="#fff" stroke="#4fb8e6" stroke-width="4"/>
<polyline points="125.1,1104.7 128.4,1097.3 130.1,1094.9 131.7,1094.3 135.6,1095.7 137.3,1094.4 138.9,1090.9 142.3,1081.4 143.9,1078.6 144.5,1078.3 145.6,1078.4 148.9,1081.7 150,1081.7 150.6,1081.3 152.2,1078 156.1,1064.8 157.8,1061.9 158.3,1061.7 159.4,1062.1 162.8,1066.4 163.9,1066.5 164.4,1066.1 166.1,1062.4 170,1048.2 171.6,1045.1 172.2,1044.8 173.3,1045.4 176.6,1050.3 177.7,1050.4 178.3,1050 179.9,1046 183.8,1030.8 185.5,1027.5 186,1027.2 187.1,1027.8 190.4,1033.1 191.6,1033.3 192.1,1032.7 193.8,1028.4 197.1,1013.9 198.8,1009.1 199.3,1008.3 200.4,1008.2 203.7,1013.8 204.8,1014.8 205.9,1014.1 206.5,1013.1 208.2,1007.3 210.9,994.3 212.6,989.2 213.1,988.4 214.3,988.4 218.1,995.4 219.2,995.8 219.8,995.3 221.5,990.6 224.8,974.7 226.4,969.5 227,968.8 228.1,968.9 232,977 233.1,977.6 233.6,977.1 235.3,972.5 239.2,954 240.8,950.3 241.4,950.2 242.5,951.4 245.8,959.4 246.9,960 247.5,959.6 249.1,954.8 253,935.6 254.7,931.9 255.2,931.8 256.3,933.1 259.7,941.6 260.8,942.3 261.3,941.8 263,937 266.3,919.9 268,914.6 268.5,914 269.1,913.9 269.6,914.5 273.5,924.7 274.6,925.7 275.2,925.3 276.8,920.7 280.2,903.6 281.8,898.5 282.4,897.9 283.5,898.7 287.4,910.3 288.5,911.6 289,911.3 290.7,907 294.6,888.1 295.7,885.4 296.2,885 296.8,885.2 297.9,887.4 301.2,898.9 302.3,900.5 302.9,900.4 304.5,896.2 307.8,879.5 309.5,874.8 310.1,874.5 311.2,875.7 315,889.5 316.1,891.2 316.7,891.1 318.4,886.9 322.2,867.9 323.3,865.4 323.9,865.1 324.5,865.5 325.6,868.1 328.9,881 330,882.9 330.5,882.8 332.2,878.7 336.1,859.3 337.2,856.7 337.7,856.4 338.3,856.8 339.4,859.4 342.7,872.6 343.8,874.5 344.4,874.4 346.1,870 349.9,849.9 351,847.3 351.6,847 352.1,847.4 353.3,850.1 356.6,863.6 357.7,865.5 358.2,865.4 359.9,861.1 363.2,843.1 364.9,838.1 365.4,837.8 366.5,839.2 370.4,854.1 371.5,855.9 372.1,855.8 373.7,851.2 377.6,830.9 378.7,828.3 379.3,828 379.8,828.5 380.9,831.3 384.3,845.2 385.4,847.2 385.9,847.2 387.6,843 391.5,823 392.6,820.4 393.1,820.1 393.7,820.6 394.8,823.4 398.1,837.3 399.2,839.4 399.8,839.3 401.4,835.1 404.8,817.5 406.4,812.9 407,812.8 408.1,814.7 411.4,829.3 413.1,833.6 413.6,833.7 414.2,833.1 415.3,829.9 418.6,812.6 420.3,808 420.8,807.8 421.9,809.6 425.8,825.9 426.9,828 427.5,828.1 428,827.4 429.1,824 432.4,806.7 434.1,802.2 434.7,802.2 435.8,804.2 439.6,821.3 440.7,823.8 441.3,824 441.9,823.4 443,820.2 446.3,803.2 447.9,798.6 448.5,798.5 449.6,800.4 452.9,814.9 454,818.3 454.6,819 455.1,819.1 455.7,818.4 457.4,812.5 460.1,797.8 461.8,793.4 462.3,793.4 463.5,795.5 467.3,813 468.4,815.5 469,815.7 469.5,815.2 470.7,812 474,795.1 475.6,790.6 476.2,790.5 477.3,792.4 480.6,807.1 481.7,810.6 482.3,811.4 482.8,811.4 483.4,810.8 485,804.9 487.8,790.4 489.5,786.1 490,786 491.1,788.2 495,805.8 496.1,808.4 496.7,808.6 497.2,808.1 498.3,805 501.7,788.1 503.3,783.6 503.9,783.5 505,785.4 508.3,800.1 509.4,803.5 510,804.3 510.5,804.4 511.1,803.8 512.7,797.9 515.5,783.2 517.2,778.9 517.7,778.8 518.8,781 522.2,796.3 523.8,801 524.4,801.2 524.9,800.7 526,797.5 529.3,780.5 531,775.9 531.6,775.8 532.7,777.7 536.5,794.2 537.7,796.5 538.2,796.5 538.8,795.8 539.9,792.4 543.2,775.2 544.9,770.8 545.4,770.8 546.5,772.9 549.8,788.3 551.5,793 552.1,793.2 552.6,792.7 553.7,789.6 557,772.6 558.7,768.1 559.3,768 560.4,770 564.2,786.8 565.3,789.1 565.9,789.2 566.5,788.5 567.6,785.2 570.9,768.2 572.5,764 573.1,764 574.2,766.2 578.1,784.2 579.2,786.8 579.7,787.1 580.3,786.6 581.4,783.6 584.7,766.9 586.4,762.5 586.9,762.5 588,764.5 591.9,781.6 593,784 593.6,784.1 594.1,783.5 595.2,780.3 599.1,761.4 600.2,759.3 600.8,759.3 602.4,763.6 605.8,779.6 606.9,782.3 607.4,782.6 608,782.1 609.1,779.1 612.4,762.4 614.1,758 614.6,758 615.7,760 619.1,775 620.2,778.5 620.7,779.4 621.3,779.5 621.8,778.8 623.5,773 626.3,758.5 627.9,754.2 628.5,754.2 629.6,756.4 632.9,772 634.6,776.7 635.1,776.9 635.7,776.4 636.8,773.3 640.1,756.3 641.8,751.7 642.3,751.6 643.4,753.5 647.3,770.2 648.4,772.5 649,772.6 649.5,771.9 650.6,768.5 653.9,751.2 655.6,746.8 656.2,746.8 657.3,748.9 660.6,764.5 662.3,769.2 662.8,769.5 663.4,768.9 664.5,765.8 667.8,748.8 669.5,744.4 670,744.3 671.1,746.2 675,763.2 676.1,765.5 676.7,765.7 677.2,765 678.3,761.7 681.6,744.8 682.7,741.3 683.3,740.5 683.9,740.6 685,742.9 688.8,761 689.9,763.7 690.5,764 691,763.5 692.2,760.5 695.5,743.8 697.1,739.4 697.7,739.4 698.8,741.4 703.2,760.3 703.8,761.1 704.3,761.3 704.9,760.7 706.6,755 709.3,740.6 710.4,737.1 711,736.4 711.5,736.5 712.6,738.8 716,754.9 717.6,759.8 718.2,760.1 718.7,759.7 719.8,756.7 723.2,740.1 724.8,735.8 725.4,735.8 726.5,737.9 730.4,755.3 731.5,757.7 732,757.9 732.6,757.3 733.7,754.1 737,737.3 738.1,733.9 738.7,733.2 739.2,733.3 740.3,735.6 744.2,754.1 745.3,756.8 745.9,757.2 746.4,756.7 747.5,753.8 750.9,737.3 752.5,733 753.1,733 754.2,735.1 758.6,754.2 759.2,755.2 759.7,755.3 760.3,754.8 761.9,749.1 764.7,734.9 765.8,731.4 766.4,730.8 766.9,730.9 768,733.2 771.3,749.5 773,754.5 773.6,754.9 774.1,754.4 775.2,751.5 778.5,735 780.2,730.7 780.8,730.7 781.9,732.8 785.7,750.2 786.9,752.7 787.4,752.9 788,752.3 789.1,749 792.4,732.2 793.5,728.7 794.1,728 794.6,728 795.7,730.4 799.6,748.6 800.7,751.3 801.2,751.6 801.8,751.1 802.9,748 806.2,731.2 807.3,728.1 807.9,727.5 808.4,727.6 809.6,729.9 812.9,744 814,746.9 814.5,747.4 815.1,747.2 816.2,744.7 820.1,726.9 821.2,724 821.7,723.6 822.3,723.9 823.4,726.8 827.3,745.7 828.4,748.9 829.5,749.9 830,749.4 831.2,746.9 834.5,734.5 835.6,732.3 836.1,732 836.7,732.2 837.8,734.1 841.1,743.5 842.2,744.5 842.8,744.1 844.4,739.8 847.8,724.8 848.9,722 849.4,721.7 850,722.2 851.1,725.7 855,745.3 856.1,748.5 857.2,749.5 857.7,749.1 858.8,746.7 862.2,734.6 863.3,732.5 863.8,732.2 864.4,732.5 865.5,734.4 868.8,743.8 869.9,744.7 870.5,744.3 872.1,739.6 875.5,723.9 876.6,721.1 877.1,720.8 877.7,721.3 878.8,724.9 882.7,745.9 883.8,749.3 884.9,750.5 885.4,750.1 886.5,747.7 889.9,735.2 891,733 891.5,732.7 892.1,732.9 893.2,734.9 896.5,744.3 897.6,745.1 898.2,744.7 899.8,739.8 903.1,723.7 904.2,720.9 904.8,720.7 905.4,721.2 906.5,725.1 910.3,746.4 911.4,750 912.6,751.2 913.1,750.8 914.2,748.4 917.5,735.8 918.6,733.6 919.2,733.3 919.8,733.5 920.9,735.4 924.2,744.8 925.3,745.6 925.8,745.2 927.5,740.1 930.8,723.4 931.9,720.6 932.5,720.3 933,721 934.2,725 938,747.4 939.1,751.1 940.2,752.5 940.8,752.2 941.9,749.9 945.2,737.3 946.3,735.1 946.9,734.8 947.4,735 948.6,736.9 951.9,746.5 953,747.3 953.5,746.8 955.2,741.4 958.5,723.6 959.6,720.7 960.2,720.5 960.7,721.3 961.8,725.8 965.7,749.3 966.8,753 967.9,754.2 968.5,753.9 969.6,751.3 972.9,738.2 974,735.8 974.6,735.4 975.1,735.6 976.2,737.4 979.6,746.6 980.7,747.3 981.2,746.8 982.9,741.4 986.2,723.5 987.3,720.6 987.9,720.4 988.4,721.2 989.5,725.7 992.9,746 994,750.6 995.1,753.1 995.6,753.5 996.7,752.3 1000.6,738.4 1001.7,736.2 1002.3,735.9 1002.8,736.1 1003.9,738.1 1007.3,747.6 1008.4,748.4 1009.5,746.8 1010,744.9 1013.9,723.5 1015,720.6 1015.6,720.4 1016.1,721.3 1017.2,726.3 1019.4,741.9 1021.1,750.6 1022.2,754.4 1023.3,755.7 1023.9,755.4 1025,752.9 1028.3,740 1029.4,737.7 1030,737.3 1030.5,737.5 1031.6,739.4 1034.9,748.8 1036,749.6 1036.6,749.1 1038.3,743.5 1041.6,724.2 1042.7,721.2 1043.2,721.1 1043.8,722.1 1044.4,724.2 1047.1,742.8 1048.8,751 1049.9,754.6 1051,755.8 1051.6,755.5 1052.7,753.1 1056,740.5 1057.1,738.2 1057.6,737.9 1058.2,738.1 1059.3,740 1062.6,749.3 1063.7,750.1 1064.3,749.6 1065.9,743.7 1069.3,723.8 1070.4,720.8 1070.9,720.7 1072,723.8 1075.9,749 1077.6,755.2 1078.7,756.4 1079.2,756.1 1080.3,753.6 1083.7,740.7 1084.8,738.4 1085.3,738 1085.9,738.2 1087,740.1 1090.3,749.4 1091.4,750.2 1092,749.7 1093.6,744 1097,724 1098.1,721 1098.6,720.9 1099.2,721.9 1099.7,724.2 1101.9,739.5 1104.2,750.7 1105.3,754 1106.4,754.9 1106.9,754.4 1108,751.8 1111.4,739 1112.5,736.8 1113,736.4 1113.6,736.6 1114.7,738.4 1118,747.5 1119.1,748.4 1119.7,748 1121.3,742.8 1124.1,726.2 1125.8,720.6 1126.3,720.5 1126.9,721.4 1127.4,723.5 1130.7,743 1132.4,749.3 1133.5,751.2 1134.1,751.3 1135.2,749.8 1139,736 1140.2,733.8 1140.7,733.5 1141.3,733.7 1142.4,735.6 1145.7,744.7 1146.8,745.5 1147.4,745.1 1149,740 1152.3,722 1153.4,719 1154,718.8 1155.1,721.3 1159.5,745.2 1160.6,748.3 1161.8,749.2 1162.3,748.8 1163.4,746.3 1166.7,734 1167.8,732 1168.4,731.7 1169,731.9 1170.1,733.8 1173.4,743.2 1174.5,744.1 1175,743.8 1176.7,739 1180,721.7 1181.1,718.8 1181.7,718.6 1182.8,721.1 1187.2,744.2 1188.3,747.3 1189.4,748.2 1190,747.8 1191.1,745.3 1194.4,733.2 1195.5,731.1 1196.1,730.8 1196.6,731.1 1197.7,733 1201.1,742.3 1202.2,743.2 1202.7,742.8 1204.4,738 1207.7,721 1208.8,718.1 1209.4,717.8 1209.9,718.5 1211,722.7 1214.9,743.4 1216,746.6 1217.1,747.6 1217.7,747.1 1218.8,744.6 1222.1,732.3 1223.2,730.2 1223.8,729.9 1224.3,730.1 1225.4,732 1228.8,741.3 1229.9,742.2 1230.4,741.8 1232.1,737 1235.4,720.4 1236.5,717.6 1237.1,717.3 1237.6,717.9 1238.7,721.9 1242.6,742.4 1243.7,745.5 1244.8,746.5 1245.4,746 1246.5,743.5 1249.8,731.2 1250.9,729 1251.5,728.7 1252,729 1253.1,730.8 1256.4,740.1 1257.6,741 1258.1,740.6 1259.8,735.9 1263.1,719.9 1264.2,717 1264.8,716.7 1265.3,717.3 1266.4,721.1 1270.3,741.4 1272,745.4 1272.5,745.6 1273.6,744.3 1277.5,730.7 1278.6,728.7 1279.1,728.4 1279.7,728.6 1280.8,730.6 1284.1,740.1 1285.2,741 1285.8,740.7 1287.5,736.1 1290.8,720 1291.9,717.2 1292.4,716.9 1293,717.5 1294.1,721.4 1298,742 1299.1,745.2 1300.2,746.3 1300.7,745.9 1301.9,743.4 1305.2,731.2 1306.3,729.1 1306.8,728.8 1307.4,729 1308.5,731 1311.8,740.4 1312.9,741.2 1313.5,740.8 1315.1,736 1318.5,719.7 1319.6,716.8 1320.1,716.6 1320.7,717.2 1321.8,721.1 1325.7,742.3 1326.8,745.7 1327.9,746.8 1328.4,746.5 1329.5,744.1 1332.9,731.6 1334,729.5 1334.5,729.1 1335.1,729.4 1336.2,731.3 1339.5,740.7 1340.6,741.6 1341.2,741.1 1342.8,736.2 1346.2,719.7 1347.3,716.8 1347.8,716.6 1348.4,717.2 1349.5,721.2 1353.4,743.1 1354.5,746.7 1355.6,748.1 1356.1,747.8 1357.2,745.5 1360.6,733 1361.7,730.7 1362.2,730.4 1362.8,730.6 1363.9,732.5 1367.2,742.1 1368.3,742.8 1368.9,742.3 1370.5,736.8 1373.8,719.5 1375,716.6 1375.5,716.4 1376.1,717.1 1377.2,721.4 1381,745.7 1382.2,749.8 1383.3,751.5 1383.8,751.3 1384.9,749.1 1388.2,736.1 1389.3,733.8 1389.9,733.4 1390.5,733.6 1391.6,735.5 1394.9,745.2 1395.4,745.8 1396,745.8 1396.5,745.2 1398.2,739.1 1401.5,720.2 1402.6,717.3 1403.2,717.2 1403.7,718.1 1404.9,723.1 1408.7,749.9 1409.8,754.4 1410.9,756.3 1411.5,756.2 1412.6,754 1415.9,740.6 1417,738 1417.6,737.6 1418.1,737.8 1419.3,739.7 1422.6,749.4 1423.1,749.9 1423.7,749.9 1424.2,749.2 1425.9,742.5 1429.2,721.6 1430.3,718.6 1430.9,718.5 1432,722 1434.8,743.9 1436.4,753.9 1437.5,758.3 1438.6,760.1 1439.2,759.9 1440.3,757.5 1443.6,743.7 1444.7,741.1 1445.3,740.6 1445.8,740.8 1446.9,742.6 1450.3,752 1450.8,752.6 1451.4,752.6 1451.9,752 1453.6,745.3 1456.4,726 1458,720.1 1458.6,720.2 1459.1,721.5 1459.7,724.1 1461.9,742 1463.6,752 1465.2,758.4 1466.3,759.7 1466.9,759.3 1468,756.7 1471.3,743.3 1472.4,740.9 1473,740.4 1473.5,740.6 1474.6,742.3 1478,751.4 1479.1,752.1 1479.6,751.6 1481.3,745.4 1484.6,723.5 1485.7,720.4 1486.3,720.4 1486.8,721.7 1487.4,724.2 1489.6,740.9 1491.2,749.9 1492.9,755.5 1494,756.5 1494.6,756.1 1495.7,753.5 1499,740.6 1500.1,738.3 1500.7,737.9 1501.2,738.1 1502.3,739.9 1505.6,748.9 1506.7,749.7 1507.3,749.2 1509,743.4 1512.3,722.7 1513.4,719.5 1513.9,719.5 1515.1,722.8 1517.3,738.4 1518.9,747.2 1520,751.5 1521.1,753.8 1521.7,754 1522.8,752.7 1526.7,738.7 1527.8,736.5 1528.3,736.2 1528.9,736.4 1530,738.2 1533.3,747.5 1534.4,748.3 1535,747.8 1536.7,741.9 1540,721.7 1541.1,718.6 1541.6,718.5 1542.7,721.6 1546.6,747.3 1547.7,752.2 1548.8,755 1549.4,755.4 1550.5,754.4 1554.4,740.3 1555.5,738 1556,737.6 1556.6,737.8 1557.7,739.8 1560.5,748.3 1561.6,750.1 1562.1,750.1 1563.2,748.3 1563.8,746.1 1567.7,721.9 1568.8,718.9 1569.3,718.8 1570.4,722.4 1573.2,744.2 1574.9,754.1 1576,758.7 1577.1,760.6 1577.6,760.6 1578.7,758.4 1582.1,745.3 1583.2,742.9 1583.7,742.5 1584.3,742.7 1585.4,744.7 1588.7,754.5 1589.3,755.2 1589.8,755.1 1590.4,754.5 1592,747.1 1594.8,726.3 1595.9,721.2 1596.5,720.1 1597,720.3 1597.6,721.7 1598.1,724.6 1600.3,745.4 1602.5,760.4 1603.7,765.2 1604.8,767.2 1605.3,767.2 1606.4,764.9 1609.7,751 1610.9,748.4 1611.4,747.9 1612,748.1 1613.1,750 1616.4,759.6 1616.9,760.2 1617.5,760.2 1618.1,759.5 1619.7,751.8 1622.5,728.9 1623.6,723.5 1624.1,722.4 1624.7,722.7 1625.3,724.5 1625.8,727.9 1628,749.9 1629.7,760.8 1631.3,767.8 1632.5,769.3 1633,769 1634.1,766.5 1637.4,752.5 1638.5,749.8 1639.1,749.3 1639.7,749.4 1640.8,751.1 1644.1,760.2 1644.6,760.7 1645.2,760.7 1645.7,760.1 1647.4,752.6 1650.2,729.6 1651.3,724 1651.8,722.9 1652.4,723.1 1652.9,724.9 1653.5,728.2 1655.7,749.2 1657.4,759.1 1659,765.4 1660.1,766.7 1660.7,766.3 1661.8,763.8 1665.1,750.7 1666.2,748.3 1666.8,747.9 1667.3,748.1 1668.4,749.9 1671.8,759.1 1672.9,759.8 1674,758.1 1675.1,752.3 1677.9,729.7 1679,724.2 1679.5,723.1 1680.1,723.3 1680.6,725 1681.2,728.3 1683.4,748.7 1684.5,755.3 1686.2,762.6 1687.3,765 1687.8,765.3 1688.4,764.9 1689.5,762.4 1692.8,749.4 1693.9,747 1694.5,746.6 1695,746.8 1696.1,748.6 1699.5,757.6 1700.6,758.3 1701.1,757.7 1702.8,750.6 1705.6,728.5 1706.7,723.1 1707.2,721.9 1707.8,722.1 1708.3,723.7 1708.9,726.7 1711.1,746.5 1712.7,756.3 1714.4,762.6 1715.5,763.8 1716.1,763.5 1717.2,760.9 1720.5,747.6 1721.6,745.1 1722.2,744.7 1722.7,744.8 1723.8,746.5 1727.1,755.6 1728.3,756.2 1728.8,755.6 1730.5,748.8 1733.2,727.7 1734.3,722.4 1734.9,721.3 1735.5,721.4 1736,722.9 1736.6,725.7 1738.8,744.4 1740.4,753.8 1742.1,759.7 1743.2,760.8 1743.8,760.3 1744.9,757.7 1748.2,744.4 1749.3,741.9 1749.9,741.5 1750.4,741.6 1751.5,743.3 1754.8,752.2 1755.9,752.8 1756.5,752.2 1758.2,745.8 1760.9,726.3 1762.6,720.1 1763.1,720.1 1763.7,721.4 1764.2,723.9 1767,744.5 1768.7,752.6 1770.3,756.9 1770.9,757.1 1772,755.8 1775.3,743.4 1777,739.4 1777.5,739.1 1778.6,740 1782,749.3 1783.1,751.1 1783.6,751.3 1784.7,749.7 1786.4,741.3" fill="none" stroke="#1f3f95" stroke-width="4.7" stroke-linejoin="round" clip-path="url(#cB)"/>
<rect x="119" y="1098" width="12.8" height="13.4" fill="#fff" stroke="#1f3f95" stroke-width="4.5"/>
<rect x="174.38" y="1037.35" width="12.8" height="13.4" fill="#fff" stroke="#1f3f95" stroke-width="4.5"/>
<rect x="229.75" y="963.4" width="12.8" height="13.4" fill="#fff" stroke="#1f3f95" stroke-width="4.5"/>
<rect x="285.13" y="897.79" width="12.8" height="13.4" fill="#fff" stroke="#1f3f95" stroke-width="4.5"/>
<rect x="340.51" y="860.71" width="12.8" height="13.4" fill="#fff" stroke="#1f3f95" stroke-width="4.5"/>
<rect x="395.88" y="825.8" width="12.8" height="13.4" fill="#fff" stroke="#1f3f95" stroke-width="4.5"/>
<rect x="451.26" y="805.79" width="12.8" height="13.4" fill="#fff" stroke="#1f3f95" stroke-width="4.5"/>
<rect x="506.64" y="791.18" width="12.8" height="13.4" fill="#fff" stroke="#1f3f95" stroke-width="4.5"/>
<rect x="562.01" y="776.02" width="12.8" height="13.4" fill="#fff" stroke="#1f3f95" stroke-width="4.5"/>
<rect x="617.39" y="766.33" width="12.8" height="13.4" fill="#fff" stroke="#1f3f95" stroke-width="4.5"/>
<rect x="672.77" y="752.54" width="12.8" height="13.4" fill="#fff" stroke="#1f3f95" stroke-width="4.5"/>
<rect x="728.14" y="744.9" width="12.8" height="13.4" fill="#fff" stroke="#1f3f95" stroke-width="4.5"/>
<rect x="783.52" y="739.87" width="12.8" height="13.4" fill="#fff" stroke="#1f3f95" stroke-width="4.5"/>
<rect x="838.9" y="730.77" width="12.8" height="13.4" fill="#fff" stroke="#1f3f95" stroke-width="4.5"/>
<rect x="894.27" y="730.53" width="12.8" height="13.4" fill="#fff" stroke="#1f3f95" stroke-width="4.5"/>
<rect x="949.65" y="731.73" width="12.8" height="13.4" fill="#fff" stroke="#1f3f95" stroke-width="4.5"/>
<rect x="1005.03" y="732.51" width="12.8" height="13.4" fill="#fff" stroke="#1f3f95" stroke-width="4.5"/>
<rect x="1060.4" y="733.76" width="12.8" height="13.4" fill="#fff" stroke="#1f3f95" stroke-width="4.5"/>
<rect x="1115.78" y="733.01" width="12.8" height="13.4" fill="#fff" stroke="#1f3f95" stroke-width="4.5"/>
<rect x="1171.16" y="729.56" width="12.8" height="13.4" fill="#fff" stroke="#1f3f95" stroke-width="4.5"/>
<rect x="1226.53" y="727.66" width="12.8" height="13.4" fill="#fff" stroke="#1f3f95" stroke-width="4.5"/>
<rect x="1281.91" y="726.85" width="12.8" height="13.4" fill="#fff" stroke="#1f3f95" stroke-width="4.5"/>
<rect x="1337.29" y="726.82" width="12.8" height="13.4" fill="#fff" stroke="#1f3f95" stroke-width="4.5"/>
<rect x="1392.66" y="729.21" width="12.8" height="13.4" fill="#fff" stroke="#1f3f95" stroke-width="4.5"/>
<rect x="1448.04" y="734.86" width="12.8" height="13.4" fill="#fff" stroke="#1f3f95" stroke-width="4.5"/>
<rect x="1503.42" y="733.32" width="12.8" height="13.4" fill="#fff" stroke="#1f3f95" stroke-width="4.5"/>
<rect x="1558.79" y="732.89" width="12.8" height="13.4" fill="#fff" stroke="#1f3f95" stroke-width="4.5"/>
<rect x="1614.17" y="740.66" width="12.8" height="13.4" fill="#fff" stroke="#1f3f95" stroke-width="4.5"/>
<rect x="1669.55" y="741.37" width="12.8" height="13.4" fill="#fff" stroke="#1f3f95" stroke-width="4.5"/>
<rect x="1724.92" y="738.04" width="12.8" height="13.4" fill="#fff" stroke="#1f3f95" stroke-width="4.5"/>
<rect x="1780.3" y="734.63" width="12.8" height="13.4" fill="#fff" stroke="#1f3f95" stroke-width="4.5"/>
<polyline points="125.1,1104.7 128.4,1097.3 130.1,1094.9 131.7,1094.3 135.6,1095.8 137.3,1094.5 138.9,1091 142.3,1081.4 143.9,1078.7 144.5,1078.3 145.6,1078.5 148.9,1081.9 150,1082.1 150.6,1081.6 152.2,1078.3 156.1,1064.9 157.8,1062 158.3,1061.7 159.4,1062.3 162.8,1066.8 163.9,1067 164.4,1066.5 166.1,1062.8 170,1048.3 171.6,1045.2 172.2,1044.9 173.3,1045.6 176.6,1050.8 177.7,1051.1 178.3,1050.6 179.9,1046.6 183.8,1030.9 185.5,1027.6 186,1027.3 187.1,1028.1 190.4,1033.8 191.6,1034 192.1,1033.5 193.8,1029.2 197.1,1014.2 198.8,1009.2 199.3,1008.5 200.4,1008.4 203.7,1014.5 204.8,1015.7 205.9,1015 206.5,1014 208.2,1008.1 211.5,992.4 213.1,988.6 213.7,988.4 214.8,989.3 218.1,996.3 219.2,996.8 219.8,996.3 221.5,991.6 225.3,972.7 227,969 227.5,968.8 228.7,970 232,978.1 233.1,978.8 233.6,978.3 235.3,973.6 239.2,954.3 240.8,950.5 241.4,950.4 242.5,951.8 245.8,960.6 246.9,961.3 247.5,960.9 249.1,955.9 253,935.9 254.7,932.1 255.2,932 256.3,933.5 259.7,942.8 260.8,943.7 261.3,943.3 263,938.3 266.3,920.3 268,914.8 268.5,914.2 269.1,914.2 269.6,914.8 273.5,926.1 274.6,927.2 275.2,926.9 276.8,922 280.2,904.1 281.8,898.7 282.4,898.2 283.5,899.1 287.4,911.8 288.5,913.2 289,913 290.7,908.5 294.6,888.5 295.7,885.7 296.2,885.3 296.8,885.6 297.9,888 301.2,900.5 302.3,902.3 302.9,902.2 304.5,897.8 308.4,877.8 309.5,875.1 310.1,874.8 310.6,875.2 311.7,877.8 315,891.1 316.1,893.1 316.7,893 318.4,888.6 322.2,868.3 323.3,865.6 323.9,865.3 324.5,865.8 325.6,868.6 328.9,882.8 330,884.9 330.5,884.9 331.1,884.2 332.2,880.6 336.1,859.9 337.2,857.1 337.7,856.8 338.3,857.2 339.4,860.1 342.7,874.5 343.8,876.5 344.4,876.5 346.1,871.8 349.9,850.3 351,847.4 351.6,847.2 352.1,847.7 353.3,850.7 356.6,865.6 357.7,867.8 358.2,867.8 359.9,863.2 363.8,841.5 364.9,838.6 365.4,838.2 366,838.7 367.1,841.6 370.4,856.1 371.5,858.1 372.1,858 373.7,853.2 377.1,833.7 378.7,828.4 379.3,828.1 380.4,830 384.3,847.4 385.4,849.8 385.9,849.8 386.5,849.1 387.6,845.4 390.9,826.2 392.6,820.9 393.1,820.7 394.2,822.4 398.1,839.6 399.2,841.8 399.8,841.8 401.4,837.1 405.3,815.6 406.4,813 407,812.9 407.5,813.6 408.6,817.2 412,833.8 413.1,836.4 413.6,836.6 414.2,836 415.3,832.5 419.2,811.4 420.3,808.7 420.8,808.5 421.4,809.1 422.5,812.4 425.8,828.2 426.9,830.6 427.5,830.6 428,829.8 429.1,826 433,804.7 434.1,802.2 434.7,802.2 436.3,806.7 439.6,823.9 440.7,826.7 441.3,827 441.9,826.4 443,823 446.8,802 447.9,799.4 448.5,799.2 449.1,799.9 450.2,803.3 453.5,819.3 454.6,821.6 455.1,821.7 455.7,820.9 456.8,817.1 460.1,798.1 461.2,794.1 461.8,793.3 462.3,793.3 463.5,795.8 467.3,815.6 468.4,818.5 469,818.8 469.5,818.3 470.7,814.9 474.5,794 475.6,791.4 476.2,791.2 476.7,791.9 477.8,795.4 481.2,811.6 482.3,814 482.8,814 483.4,813.3 484.5,809.5 487.8,790.6 488.9,786.8 489.5,786 490,786 491.1,788.5 494.5,806 496.1,811.4 496.7,811.7 497.2,811.2 498.3,807.9 501.7,789.3 503.3,784.4 503.9,784.2 505,786.3 508.9,804.6 510,807 510.5,807.1 511.1,806.3 512.2,802.5 515.5,783.5 516.6,779.6 517.2,778.8 517.7,778.8 518.8,781.3 522.7,801.1 523.8,804.1 524.4,804.3 524.9,803.8 526,800.4 529.3,781.7 531,776.7 531.6,776.5 532.7,778.6 536,794.6 537.1,798.3 537.7,799.1 538.2,799.2 538.8,798.4 540.4,791.8 543.2,775.5 544.3,771.5 544.9,770.7 545.4,770.8 546.5,773.2 549.8,790.7 551.5,796.1 552.1,796.4 552.6,795.9 553.7,792.5 557,773.9 558.7,768.9 559.3,768.8 560.4,770.9 564.2,789.3 565.3,791.8 565.9,791.9 566.5,791.1 567.6,787.4 570.9,768.5 572,764.6 572.5,763.9 573.1,763.9 574.2,766.5 578.1,786.9 579.2,789.9 579.7,790.3 580.3,789.8 581.4,786.6 584.7,768.2 586.4,763.3 586.9,763.2 588,765.4 591.4,781.9 592.5,785.8 593,786.7 593.6,786.9 594.1,786.1 595.8,779.7 598.6,763.7 599.7,759.9 600.2,759.2 600.8,759.3 601.9,761.9 605.2,779.9 606.9,785.5 607.4,785.8 608,785.4 609.1,782.1 612.4,763.7 614.1,758.8 614.6,758.7 615.7,760.9 619.6,779.6 620.7,782.1 621.3,782.2 621.8,781.5 622.9,777.7 626.3,758.8 627.4,754.9 627.9,754.1 628.5,754.1 629.6,756.7 633.5,776.9 634.6,779.9 635.1,780.2 635.7,779.7 636.8,776.3 640.1,757.6 641.8,752.5 642.3,752.4 643.4,754.5 646.7,770.6 647.9,774.4 648.4,775.3 649,775.3 649.5,774.5 651.2,767.8 653.9,751.5 655.1,747.5 655.6,746.7 656.2,746.8 657.3,749.3 661.1,769.4 662.3,772.4 662.8,772.8 663.4,772.2 664.5,768.9 667.8,750.2 669.5,745.2 670,745 671.1,747.2 674.4,763.6 675.5,767.5 676.1,768.3 676.7,768.4 677.2,767.7 678.9,761.2 681.6,745 682.7,741.2 683.3,740.4 683.9,740.5 685,743.2 688.8,763.8 689.9,766.9 690.5,767.3 691,766.8 692.2,763.6 695.5,745.1 697.1,740.3 697.7,740.2 698.8,742.4 702.1,759.1 703.2,763 703.8,764 704.3,764.1 704.9,763.4 706.6,756.9 709.3,740.9 710.4,737.1 711,736.3 711.5,736.4 712.6,739.1 716.5,759.9 717.6,763.1 718.2,763.5 718.7,763.1 719.8,759.8 723.2,741.5 724.8,736.6 725.4,736.6 726.5,738.8 729.8,755.6 730.9,759.6 731.5,760.6 732,760.7 732.6,760 734.2,753.6 737,737.6 738.1,733.8 738.7,733.1 739.2,733.2 740.3,735.9 743.7,754.3 745.3,760.1 745.9,760.5 746.4,760.1 747.5,756.9 750.9,738.7 752.5,733.9 753.1,733.8 754.2,736.1 758.1,755.4 759.2,758 759.7,758.2 760.3,757.5 761.4,753.8 764.7,735.1 765.8,731.4 766.4,730.7 766.9,730.8 768,733.6 771.9,754.7 773,757.9 773.6,758.3 774.1,757.9 775.2,754.7 778.5,736.3 780.2,731.5 780.8,731.5 781.9,733.8 785.7,753 786.9,755.6 787.4,755.7 788,755 789.1,751.3 792.9,730.2 794.1,727.9 794.6,728 796.3,733.1 799.6,751.5 800.7,754.7 801.2,755 801.8,754.6 802.9,751.3 806.2,732.6 807.3,729.4 807.9,728.9 809,730.2 812.9,746.7 814,749.3 814.5,749.6 815.1,749.1 816.2,745.9 820.1,726.9 821.2,724.4 821.7,724.2 822.3,724.9 823.4,728.8 827.8,752.7 828.9,755.8 830,756.6 830.6,756.1 831.7,753.6 834.5,744.1 836.1,741.2 836.7,741.1 837.8,742.1 840,746.5 841.1,747.9 842.2,747.8 842.8,747 844.4,741.8 847.2,729.2 848.9,724.9 849.4,725 850.5,727.9 855.5,753.9 856.6,756.9 857.7,757.8 858.8,756.3 862.2,745.6 863.8,742.7 864.4,742.6 865.5,743.6 867.7,747.9 868.8,749.3 869.9,748.9 870.5,748 872.1,742.1 875.5,726.2 876.6,723.7 877.1,723.8 877.7,724.8 878.8,729.5 883.2,755.7 884.3,759.1 885.4,760.1 886.5,758.7 889.9,747.3 891.5,744.1 892.1,744 893.2,744.9 895.4,749.2 896.5,750.6 897.6,750.2 898.2,749.2 899.8,743.1 902.6,728.8 904.2,724.2 904.8,724.3 905.9,727.5 910.9,757.3 912,760.8 913.1,761.8 914.2,760.4 917.5,748.9 919.2,745.7 919.8,745.5 920.9,746.4 923.1,750.7 924.2,752 925.3,751.6 925.8,750.5 927.5,744.1 930.3,729 931.9,724.3 932.5,724.5 933.6,727.9 938.6,759.7 939.7,763.6 940.8,764.9 941.9,763.6 945.2,752.1 946.9,748.8 947.4,748.7 948.6,749.7 950.8,754.2 951.9,755.6 952.4,755.6 953,755.1 953.5,754 955.2,747.1 958,730.7 959.1,726.6 959.6,725.8 960.2,726 961.3,730.1 964.1,750.7 966.3,763.6 967.4,767.3 968.5,768.3 969.6,766.7 972.9,754.1 974.6,750.5 975.1,750.2 976.2,751 978.5,755 979.6,756.2 980.7,755.6 981.2,754.5 982.9,747.7 985.7,731.4 986.8,727.2 987.3,726.4 987.9,726.7 989,730.5 991.7,750.2 994,762.5 995.1,766.2 996.2,767.5 997.3,766.2 1000.6,754.9 1002.3,751.7 1002.8,751.5 1003.9,752.5 1006.1,757.1 1007.3,758.4 1008.4,757.9 1008.9,756.8 1010.6,749.8 1013.3,732.3 1014.4,727.9 1015,727.1 1015.6,727.4 1016.7,731.8 1021.1,764.1 1022.2,769 1023.3,771.6 1023.9,771.8 1025,770.3 1028.3,758.1 1030,754.6 1030.5,754.4 1031.6,755.3 1033.8,759.6 1034.9,760.9 1036,760.4 1036.6,759.4 1038.3,752.4 1041,734.8 1042.1,730.4 1042.7,729.6 1043.2,730 1044.4,734.6 1046.6,751.8 1048.8,765.1 1050.4,771.2 1051.6,772.3 1052.7,770.9 1056,759.2 1057.6,755.9 1058.2,755.7 1059.3,756.6 1061.5,760.9 1062.6,762.1 1063.7,761.6 1064.3,760.4 1065.9,753.2 1068.7,734.6 1069.8,729.9 1070.4,729.1 1070.9,729.5 1072,734.1 1074.3,752.3 1076.5,766.3 1078.1,772.6 1079.2,773.7 1080.3,772.1 1083.7,759.9 1085.3,756.5 1085.9,756.2 1087,757.1 1089.2,761.3 1090.3,762.5 1091.4,762 1092,760.9 1093.6,753.9 1096.4,735.6 1097.5,731 1098.1,730.2 1098.6,730.6 1099.7,735.4 1101.9,752.6 1104.2,765 1105.8,770.2 1106.4,770.9 1106.9,770.9 1108.6,767.4 1111.4,757.1 1113,753.8 1113.6,753.5 1114.7,754.3 1116.9,758.1 1118,759.3 1119.1,758.9 1119.7,758 1121.3,751.8 1124.6,732.3 1125.8,729.6 1126.3,729.9 1127.4,734.1 1129.6,748.9 1131.3,757.2 1133,762.9 1134.1,764.5 1134.6,764.4 1135.7,762.7 1139,751.7 1140.7,748.7 1141.3,748.5 1142.4,749.3 1144.6,753.1 1145.7,754.3 1146.8,753.9 1147.4,752.9 1149,746.8 1152.3,728.2 1153.4,725.5 1154,725.6 1155.1,729.1 1159.5,755.3 1161.2,760.3 1162.3,761 1164,757.8 1166.7,748.4 1168.4,745.5 1169,745.3 1170.1,746.2 1172.3,750.4 1173.4,751.7 1174.5,751.5 1175,750.7 1176.7,745 1180,727.6 1181.1,725.1 1181.7,725.3 1182.8,728.8 1187.2,753.8 1188.9,758.6 1190,759.2 1191.7,756.2 1194.4,746.9 1196.1,744.1 1196.6,743.9 1197.7,744.8 1200,749 1201.1,750.3 1202.2,750 1202.7,749.1 1204.4,743.3 1207.7,726 1208.8,723.4 1209.4,723.6 1210.5,726.9 1214.9,752.4 1216.6,757.5 1217.7,758.2 1218.8,756.6 1222.1,745.5 1223.8,742.5 1224.3,742.3 1225.4,743.2 1227.6,747.3 1228.8,748.5 1229.9,748.2 1230.4,747.3 1232.1,741.4 1234.8,726.9 1236.5,722.1 1237.1,722.2 1238.2,725.4 1240.9,742.2 1243.2,752.7 1244.3,755.6 1245.4,756.3 1246.5,754.7 1249.8,743.5 1251.5,740.5 1252,740.3 1253.1,741.1 1255.3,745.2 1256.4,746.5 1257.6,746.1 1258.1,745.2 1259.8,739.5 1262.5,725.4 1264.2,720.8 1264.8,720.9 1265.9,723.8 1270.8,751.1 1272,754.2 1273.1,755 1274.2,753.5 1277.5,742.8 1279.1,739.9 1279.7,739.8 1280.8,740.8 1283,745.1 1284.1,746.5 1285.2,746.3 1285.8,745.5 1287.5,739.9 1290.8,723.8 1291.9,721.4 1292.4,721.5 1293.5,724.7 1298,750 1299.6,755.3 1300.7,756.2 1301.9,754.7 1305.2,743.8 1306.8,740.8 1307.4,740.6 1308.5,741.5 1310.7,745.8 1311.8,747.1 1312.9,746.8 1313.5,745.8 1315.1,739.8 1317.9,725.3 1319.6,720.6 1320.1,720.7 1321.2,723.9 1326.2,753.1 1327.3,756.4 1328.4,757.4 1329.5,756 1332.9,744.6 1334.5,741.5 1335.1,741.3 1336.2,742.2 1338.4,746.5 1339.5,747.9 1340.6,747.5 1341.2,746.5 1342.8,740.3 1345.6,725.5 1347.3,720.8 1347.8,721 1348.9,724.3 1353.9,754.9 1355,758.6 1356.1,759.9 1357.2,758.6 1360.6,747.1 1362.2,743.9 1362.8,743.7 1363.9,744.6 1366.1,749.1 1367.2,750.4 1368.3,749.9 1368.9,748.7 1370.5,741.6 1373.3,725.4 1374.4,721.3 1375,720.5 1375.5,720.7 1376.6,724.4 1381.6,760.2 1382.7,764.7 1383.8,766.5 1384.4,766.3 1385.5,763.9 1388.2,753.1 1389.9,749.4 1390.5,749.2 1391.6,750.2 1394.3,755.8 1395.4,756.2 1396,755.5 1397.7,749.5 1401.5,725.3 1402.6,722.7 1403.2,723.1 1404.9,731.8 1408.7,765 1410.4,773.4 1411.5,775.5 1412.1,775.4 1413.2,772.8 1415.9,761.2 1417.6,757.3 1418.1,757 1419.3,757.9 1422,763.5 1422.6,763.9 1423.1,763.8 1423.7,763 1425.3,756.4 1428.7,732.1 1429.8,727.3 1430.3,726.5 1430.9,727.1 1432,732.7 1436.4,772.4 1438.1,780.6 1439.2,782.4 1439.7,782 1440.8,779.2 1443.6,767 1445.3,762.9 1445.8,762.5 1446.9,763.3 1449.2,767.7 1450.3,768.9 1451.4,768 1451.9,766.7 1453.6,758.2 1456.4,737.1 1457.5,732 1458,731.3 1458.6,732 1459.7,737.9 1461.9,758.8 1464.1,773.7 1465.8,780.2 1466.3,781.1 1466.9,781.3 1468,779.6 1471.3,766.4 1473,762.6 1473.5,762.2 1474.6,762.9 1476.8,766.8 1478,767.9 1479.1,767.2 1479.6,766.1 1481.3,758.4 1484,738.2 1485.2,733.1 1485.7,732.3 1486.3,732.8 1487.4,738.2 1489.6,756.8 1491.2,766.7 1492.9,773.5 1494,775.4 1494.6,775.4 1495.7,773.7 1499,761.5 1500.7,758 1501.2,757.8 1502.3,758.4 1504.5,762.2 1505.6,763.3 1506.7,762.8 1507.3,761.7 1509,754.7 1511.7,735.7 1512.8,730.8 1513.4,729.9 1513.9,730.3 1515.1,735 1517.3,752.2 1519.5,764.6 1521.1,770.2 1522.3,771.1 1523.4,769.7 1526.7,758.2 1528.3,754.9 1528.9,754.6 1530,755.5 1532.2,759.6 1533.3,760.8 1534.4,760.3 1535,759.1 1536.7,751.8 1540,730.1 1541.1,727.3 1541.6,727.6 1542.7,732.2 1545,750.7 1547.2,765.4 1548.8,772.4 1549.9,774 1550.5,773.7 1551.6,771.4 1554.4,761 1556,757.6 1556.6,757.4 1557.7,758.4 1559.9,763.1 1561,764.4 1561.6,764.4 1562.1,763.7 1562.7,762.5 1564.3,754.4 1567.1,733.9 1568.2,729 1568.8,728.2 1569.3,728.7 1570.4,734.2 1574.9,773.1 1576.5,781.6 1577.6,783.9 1578.2,783.8 1579.3,781.5 1582.1,770.4 1583.7,766.6 1584.3,766.4 1585.4,767.4 1588.2,773.4 1588.7,773.8 1589.3,773.7 1589.8,773 1591.5,766.1 1595.4,735.1 1596.5,732.1 1597,732.9 1598.1,739.7 1600.3,765.3 1602.5,784.6 1604.2,793.7 1605.3,796 1605.9,795.8 1607,793.1 1609.7,780.8 1611.4,776.6 1612,776.3 1613.1,777.2 1615.3,782 1616.4,783.2 1617.5,782.3 1618.1,780.9 1619.7,771.2 1622.5,745.6 1623.6,739.7 1624.1,738.9 1624.7,740 1625.3,743 1628,773.7 1629.7,786.9 1631.3,796.2 1632.5,799.1 1633,799.4 1634.1,797.8 1637.4,783.5 1639.1,779.2 1639.7,778.8 1640.8,779.4 1643,783.3 1644.1,784.2 1645.2,783.3 1645.7,781.9 1647.4,772.7 1650.2,747.4 1651.3,741.3 1651.8,740.4 1652.4,741.3 1652.9,744.1 1655.7,772.5 1657.4,783.9 1659,791.9 1660.1,794.4 1660.7,794.6 1661.8,793 1665.1,780.3 1666.8,776.7 1667.3,776.4 1668.4,777.1 1670.7,781.2 1671.8,782.4 1672.9,781.7 1673.4,780.6 1675.1,772.2 1678.4,744.3 1679.5,741 1680.1,741.9 1680.6,744.6 1683.4,771.5 1685.1,782.1 1686.7,789.5 1687.8,791.8 1688.4,792 1689.5,790.4 1692.8,778 1694.5,774.3 1695,774 1696.1,774.7 1698.4,778.6 1699.5,779.7 1700.6,778.9 1701.1,777.6 1702.8,768.9 1705.6,744.6 1706.7,738.7 1707.2,737.7 1707.8,738.4 1708.9,745 1711.1,767.5 1712.7,778.8 1714.4,786.7 1715.5,789.1 1716.1,789.3 1717.2,787.6 1720.5,774.6 1722.2,770.7 1722.7,770.3 1723.8,771 1726,774.9 1727.1,775.9 1728.3,775.1 1728.8,773.8 1730.5,765.4 1733.2,742.4 1734.3,736.7 1734.9,735.8 1735.5,736.5 1736,738.8 1738.8,763.7 1740.4,774.2 1742.1,781.5 1743.2,783.6 1743.8,783.6 1744.9,781.8 1748.2,768.8 1749.9,764.9 1750.4,764.5 1751.5,765.1 1753.7,768.7 1754.8,769.6 1755.9,768.8 1756.5,767.6 1758.2,759.7 1760.9,738.6 1762,733.3 1762.6,732.4 1763.1,732.9 1764.2,738.2 1766.5,757.4 1768.1,767.6 1769.8,774.8 1770.9,776.9 1771.4,777.1 1772.6,775.5 1775.9,763.8 1777.5,760.5 1778.1,760.3 1779.2,761.1 1782,766.1 1783.1,766.5 1783.6,766.1 1784.7,763.4 1786.4,754.1" fill="none" stroke="#f0963a" stroke-width="4.7" stroke-linejoin="round" clip-path="url(#cB)"/>
<polygon points="125.1,1096.4 134.1,1109.6 116.1,1109.6" fill="#fff" stroke="#f0963a" stroke-width="4" stroke-miterlimit="10"/>
<polygon points="180.48,1036.3 189.48,1049.5 171.48,1049.5" fill="#fff" stroke="#f0963a" stroke-width="4" stroke-miterlimit="10"/>
<polygon points="235.85,962.75 244.85,975.95 226.85,975.95" fill="#fff" stroke="#f0963a" stroke-width="4" stroke-miterlimit="10"/>
<polygon points="291.23,897.55 300.23,910.75 282.23,910.75" fill="#fff" stroke="#f0963a" stroke-width="4" stroke-miterlimit="10"/>
<polygon points="346.61,860.7 355.61,873.9 337.61,873.9" fill="#fff" stroke="#f0963a" stroke-width="4" stroke-miterlimit="10"/>
<polygon points="401.98,826.01 410.98,839.21 392.98,839.21" fill="#fff" stroke="#f0963a" stroke-width="4" stroke-miterlimit="10"/>
<polygon points="457.36,805.98 466.36,819.18 448.36,819.18" fill="#fff" stroke="#f0963a" stroke-width="4" stroke-miterlimit="10"/>
<polygon points="512.74,791.4 521.74,804.6 503.74,804.6" fill="#fff" stroke="#f0963a" stroke-width="4" stroke-miterlimit="10"/>
<polygon points="568.11,776.27 577.11,789.47 559.11,789.47" fill="#fff" stroke="#f0963a" stroke-width="4" stroke-miterlimit="10"/>
<polygon points="623.49,766.62 632.49,779.82 614.49,779.82" fill="#fff" stroke="#f0963a" stroke-width="4" stroke-miterlimit="10"/>
<polygon points="678.87,752.86 687.87,766.06 669.87,766.06" fill="#fff" stroke="#f0963a" stroke-width="4" stroke-miterlimit="10"/>
<polygon points="734.24,745.26 743.24,758.46 725.24,758.46" fill="#fff" stroke="#f0963a" stroke-width="4" stroke-miterlimit="10"/>
<polygon points="789.62,740.26 798.62,753.46 780.62,753.46" fill="#fff" stroke="#f0963a" stroke-width="4" stroke-miterlimit="10"/>
<polygon points="845,731.03 854,744.23 836,744.23" fill="#fff" stroke="#f0963a" stroke-width="4" stroke-miterlimit="10"/>
<polygon points="900.37,731.94 909.37,745.14 891.37,745.14" fill="#fff" stroke="#f0963a" stroke-width="4" stroke-miterlimit="10"/>
<polygon points="955.75,735.54 964.75,748.74 946.75,748.74" fill="#fff" stroke="#f0963a" stroke-width="4" stroke-miterlimit="10"/>
<polygon points="1011.13,738.03 1020.13,751.23 1002.13,751.23" fill="#fff" stroke="#f0963a" stroke-width="4" stroke-miterlimit="10"/>
<polygon points="1066.5,741.26 1075.5,754.46 1057.5,754.46" fill="#fff" stroke="#f0963a" stroke-width="4" stroke-miterlimit="10"/>
<polygon points="1121.88,740.35 1130.88,753.55 1112.88,753.55" fill="#fff" stroke="#f0963a" stroke-width="4" stroke-miterlimit="10"/>
<polygon points="1177.26,733.84 1186.26,747.04 1168.26,747.04" fill="#fff" stroke="#f0963a" stroke-width="4" stroke-miterlimit="10"/>
<polygon points="1232.63,730.34 1241.63,743.54 1223.63,743.54" fill="#fff" stroke="#f0963a" stroke-width="4" stroke-miterlimit="10"/>
<polygon points="1288.01,728.94 1297.01,742.14 1279.01,742.14" fill="#fff" stroke="#f0963a" stroke-width="4" stroke-miterlimit="10"/>
<polygon points="1343.39,729.09 1352.39,742.29 1334.39,742.29" fill="#fff" stroke="#f0963a" stroke-width="4" stroke-miterlimit="10"/>
<polygon points="1398.76,734.13 1407.76,747.33 1389.76,747.33" fill="#fff" stroke="#f0963a" stroke-width="4" stroke-miterlimit="10"/>
<polygon points="1454.14,745.74 1463.14,758.94 1445.14,758.94" fill="#fff" stroke="#f0963a" stroke-width="4" stroke-miterlimit="10"/>
<polygon points="1509.52,742.78 1518.52,755.98 1500.52,755.98" fill="#fff" stroke="#f0963a" stroke-width="4" stroke-miterlimit="10"/>
<polygon points="1564.89,742.04 1573.89,755.24 1555.89,755.24" fill="#fff" stroke="#f0963a" stroke-width="4" stroke-miterlimit="10"/>
<polygon points="1620.27,757.87 1629.27,771.07 1611.27,771.07" fill="#fff" stroke="#f0963a" stroke-width="4" stroke-miterlimit="10"/>
<polygon points="1675.65,759.38 1684.65,772.58 1666.65,772.58" fill="#fff" stroke="#f0963a" stroke-width="4" stroke-miterlimit="10"/>
<polygon points="1731.02,752.7 1740.02,765.9 1722.02,765.9" fill="#fff" stroke="#f0963a" stroke-width="4" stroke-miterlimit="10"/>
<polygon points="1786.4,745.82 1795.4,759.02 1777.4,759.02" fill="#fff" stroke="#f0963a" stroke-width="4" stroke-miterlimit="10"/>
<polyline points="125.1,1104.7 128.4,1097.3 130.1,1094.9 131.7,1094.3 135.6,1096 137.3,1094.7 138.9,1091.2 142.3,1081.5 143.9,1078.7 144.5,1078.4 145.6,1078.6 148.9,1082.2 150,1082.3 150.6,1081.9 152.2,1078.6 156.1,1065 157.8,1062 158.3,1061.8 159.4,1062.4 162.8,1067.2 163.9,1067.5 164.4,1067 166.1,1063.2 170,1048.4 171.6,1045.2 172.2,1045 173.3,1045.8 176.6,1051.4 177.7,1051.7 178.3,1051.2 179.9,1047.2 183.8,1031.1 185.5,1027.7 186,1027.5 187.1,1028.3 190.4,1034.4 191.6,1034.8 192.1,1034.3 193.8,1029.8 197.6,1012.3 199.3,1008.6 199.9,1008.4 201,1009.3 204.3,1016 205.4,1016.5 205.9,1015.9 207.6,1011.2 210.9,994.8 212.6,989.5 213.1,988.7 213.7,988.5 214.3,988.9 217.6,996.3 218.7,997.8 219.2,997.8 219.8,997.3 220.3,996.2 222,989.9 225.3,973 227,969.1 227.5,969 228.7,970.4 232,979.1 233.1,979.9 233.6,979.4 235.3,974.6 239.2,954.5 240.8,950.7 241.4,950.6 242.5,952.2 245.8,961.7 246.9,962.6 247.5,962.1 249.1,957.1 253,936.2 254.7,932.3 255.2,932.3 256.3,934 259.7,944 260.8,945.1 261.3,944.7 263,939.5 266.3,920.8 268,915 268.5,914.4 269.1,914.5 269.6,915.2 273.5,927.4 274.6,928.7 275.2,928.4 276.8,923.4 280.2,904.5 281.8,899 282.4,898.4 283.5,899.5 287.4,913.2 288.5,914.8 289,914.6 290.7,909.9 294.6,888.8 295.7,885.9 296.2,885.5 296.8,885.9 297.9,888.5 301.2,902.1 302.3,904 302.9,903.9 304.5,899.4 308.4,878.3 309.5,875.4 310.1,875.1 310.6,875.5 311.7,878.4 315,892.8 316.1,894.8 316.7,894.8 318.4,890.2 322.2,868.6 323.3,865.8 323.9,865.5 324.5,866 325.6,869.2 328.9,884.6 330,886.9 330.5,886.9 331.1,886.1 332.2,882.4 336.1,860.4 337.2,857.4 337.7,857.2 338.3,857.7 339.4,860.8 342.7,876.3 343.8,878.5 344.4,878.5 346.1,873.5 349.9,850.6 351,847.6 351.6,847.4 352.1,847.9 353.3,851.3 356.6,867.6 357.7,870 358.2,870 358.8,869.2 359.9,865.2 363.8,842.1 364.9,839 365.4,838.7 366,839.2 367.1,842.4 370.4,858.1 371.5,860.3 372.1,860.2 373.7,855 377.1,834.1 378.7,828.5 379.3,828.3 380.4,830.4 384.3,849.6 385.4,852.3 385.9,852.4 386.5,851.6 387.6,847.7 390.9,827.2 392.6,821.5 393.1,821.2 394.2,823.2 398.1,841.8 399.2,844.2 399.8,844.2 401.4,839.1 405.3,815.8 406.4,813 407,813 407.5,813.8 408.6,817.8 412,836.1 413.1,839.1 413.6,839.4 414.2,838.8 415.3,835 419.2,812.2 420.3,809.3 420.8,809.1 421.4,809.8 422.5,813.4 425.8,830.5 426.9,833 427.5,833 428,832.2 429.1,828 432.4,807.3 433.5,803.1 434.1,802.2 434.7,802.2 435.8,804.8 439.6,826.3 440.7,829.5 441.3,829.9 441.9,829.3 443,825.7 446.8,803 447.9,800.1 448.5,799.9 449.1,800.6 450.2,804.3 453.5,821.6 454.6,824.1 455.1,824.2 455.7,823.3 456.8,819.1 460.1,798.3 461.2,794.1 461.8,793.2 462.3,793.3 463.5,796.1 466.8,815.4 468.4,821.4 469,821.8 469.5,821.2 470.7,817.7 474,797.6 475.6,792.1 476.2,791.9 477.3,794.2 481.2,813.9 482.3,816.5 482.8,816.5 483.4,815.7 484.5,811.5 487.8,790.9 488.9,786.7 489.5,785.9 490,786 491.1,788.8 495,811 496.1,814.3 496.7,814.7 497.2,814.2 498.3,810.7 501.7,790.6 503.3,785.1 503.9,784.9 505,787.2 508.3,804.6 509.4,808.7 510,809.6 510.5,809.6 511.1,808.7 512.7,801.4 515.5,783.8 516.6,779.5 517.2,778.7 517.7,778.8 518.8,781.6 522.7,803.7 523.8,807 524.4,807.4 524.9,806.9 526,803.3 529.3,783 531,777.4 531.6,777.2 532.7,779.4 536,796.8 537.1,800.8 537.7,801.7 538.2,801.7 538.8,800.8 540.4,793.5 543.2,775.7 544.3,771.5 544.9,770.6 545.4,770.7 546.5,773.5 550.4,795.8 551.5,799.1 552.1,799.5 552.6,799 553.7,795.4 557,775.2 558.7,769.7 559.3,769.5 560.4,771.8 563.7,789.3 564.8,793.5 565.3,794.4 565.9,794.4 566.5,793.6 568.1,786.3 570.9,768.8 572,764.6 572.5,763.8 573.1,763.9 574.2,766.8 578.1,789.5 579.2,792.9 579.7,793.4 580.3,792.9 581.4,789.4 584.7,769.4 586.4,764.1 586.9,764 588,766.3 591.4,784.2 592.5,788.4 593,789.4 593.6,789.4 594.1,788.6 595.8,781.5 598.6,764 599.7,759.9 600.2,759.1 600.8,759.2 601.9,762.2 605.2,782.2 606.9,788.5 607.4,788.9 608,788.5 609.1,785 612.4,765 614.1,759.6 614.6,759.5 615.7,761.8 619.6,782.1 620.7,784.8 621.3,784.8 621.8,784 622.9,779.8 626.3,759 627.4,754.8 627.9,754 628.5,754.1 629.6,757 633.5,779.6 634.6,783 635.1,783.4 635.7,782.9 636.8,779.3 640.1,758.9 641.8,753.3 642.3,753.1 643.4,755.4 646.7,773 647.9,777 648.4,777.9 649,777.9 649.5,777.1 651.2,769.7 653.9,751.7 655.1,747.5 655.6,746.6 656.2,746.7 657.3,749.6 661.1,772.1 662.3,775.5 662.8,775.9 663.4,775.4 664.5,771.8 667.8,751.5 669.5,745.9 670,745.8 671.1,748.1 674.4,765.9 675.5,770.1 676.1,771 676.7,771.1 677.2,770.3 678.9,763 681.6,745.3 682.7,741.1 683.3,740.4 683.9,740.5 685,743.5 688.8,766.5 689.9,770 690.5,770.5 691,770 692.2,766.6 695.5,746.4 697.1,741.1 697.7,740.9 698.8,743.3 702.1,761.4 703.2,765.7 703.8,766.7 704.3,766.8 704.9,765.9 706.6,758.7 709.3,741.1 710.4,737 711,736.2 711.5,736.4 712.6,739.5 716.5,762.7 717.6,766.2 718.2,766.7 718.7,766.3 719.8,762.8 723.2,742.8 724.8,737.4 725.4,737.4 726.5,739.8 729.8,758 730.9,762.3 731.5,763.3 732,763.4 732.6,762.6 734.2,755.4 737,737.8 738.1,733.7 738.7,733 739.2,733.2 740.3,736.3 743.7,756.8 745.3,763.3 745.9,763.8 746.4,763.4 747.5,760 750.9,740 752.5,734.7 753.1,734.6 754.2,737.1 758.1,758 759.2,760.8 759.7,760.9 760.3,760.1 761.4,756 764.7,735.4 765.8,731.3 766.4,730.6 766.9,730.8 768,733.9 771.9,757.4 773,761.1 773.6,761.6 774.1,761.2 775.2,757.7 778.5,737.7 780.2,732.3 780.8,732.3 781.9,734.7 785.7,755.6 786.9,758.4 787.4,758.5 788,757.7 789.1,753.5 792.9,730.3 794.1,727.8 794.6,728 796.3,733.7 799.6,754.3 800.7,757.9 801.2,758.3 801.8,757.9 802.9,754.3 806.2,733.9 807.3,730.7 807.9,730.3 809,731.9 812.9,749.4 814,751.7 814.5,751.8 815.1,751 816.2,747.2 819.5,729.1 820.6,725.5 821.2,724.8 821.7,725 822.8,728 827.3,755 828.9,761.7 830,763.6 830.6,763.6 831.7,761.9 834.5,753.4 836.1,750.1 836.7,749.7 837.8,749.8 840.6,752.2 841.7,751.7 842.2,750.9 843.9,746 847.2,732 848.3,729.3 848.9,728.9 849.4,729.4 850.5,733 855.5,760.3 857.2,765.4 858.3,766.1 859.4,764.6 862.2,756.2 863.8,752.8 864.4,752.3 865.5,752.4 868.3,754.6 869.4,754 869.9,753 871.6,747.3 874.9,731 876,727.8 876.6,727.3 877.1,727.8 878.2,731.5 883.2,763.2 884.9,769 885.4,769.7 886,769.8 887.1,768.1 889.9,758.9 891.5,755.1 892.1,754.5 893.2,754.5 895.9,756.7 897.1,756 897.6,755 899.3,749 902.6,732.3 903.7,729.2 904.2,728.7 904.8,729.3 905.9,733.3 910.9,765.7 912.6,771.6 913.1,772.4 913.7,772.5 914.8,770.8 917.5,761.4 919.2,757.5 919.8,757 920.9,757 923.6,759.1 924.7,758.4 925.3,757.3 927,751 930.3,733.3 931.4,729.9 931.9,729.5 932.5,730 933.6,734.3 938.6,769.5 940.2,776.1 941.4,777.3 942.5,775.7 945.2,766.3 946.9,762.3 947.4,761.8 948.6,761.9 951.3,764.5 952.4,763.8 953,762.6 954.6,756 958,736.7 959.1,733.1 959.6,732.7 960.2,733.4 961.3,738.4 966.3,775.3 967.4,780.1 968.5,782.2 969,782.2 970.1,780.1 972.9,769.4 974.6,764.9 975.1,764.2 976.2,764 979,765.7 980.1,764.7 980.7,763.5 982.3,757 985.7,738.4 986.8,734.9 987.3,734.4 987.9,735.1 988.4,736.8 994,774 995.6,780.3 996.7,781.5 997.8,779.9 1000.6,770.7 1002.3,766.9 1002.8,766.3 1003.9,766.4 1006.7,768.9 1007.8,768.2 1008.4,767.1 1010,760.4 1013.3,740.4 1014.4,736.6 1015,736.1 1015.6,736.9 1016.7,742 1021.6,780.3 1022.8,785.3 1023.9,787.6 1024.4,787.7 1025.5,785.7 1028.3,775.5 1030,771.2 1030.5,770.6 1031.6,770.5 1034.4,772.7 1035.5,771.9 1036,770.8 1037.7,764.4 1041,745.2 1042.1,741.5 1042.7,741.1 1043.2,741.9 1044.4,747.1 1049.3,781.7 1051,787.7 1051.6,788.5 1052.1,788.6 1053.2,786.9 1056,777.2 1057.6,773.2 1058.2,772.6 1059.3,772.5 1062.1,774.6 1063.2,773.7 1063.7,772.6 1065.4,765.8 1068.7,745.1 1069.8,741 1070.4,740.5 1070.9,741.3 1072,746.5 1074.8,769 1077,783.6 1078.7,789.8 1079.2,790.5 1079.8,790.6 1080.9,788.6 1083.7,778.4 1085.3,774.1 1085.9,773.5 1087,773.4 1089.8,775.3 1090.9,774.4 1091.4,773.3 1093.1,766.9 1096.4,747.1 1097.5,743.3 1098.1,742.9 1098.6,743.7 1099.7,748.8 1104.2,778.8 1105.8,785.1 1106.9,786.6 1107.5,786.4 1108.6,784.3 1111.4,774.5 1113,770.4 1113.6,769.8 1114.7,769.5 1117.4,770.8 1118.6,770 1119.1,769 1120.8,763.5 1124.1,746.1 1125.2,742.6 1125.8,742.1 1126.3,742.7 1126.9,744.3 1130.2,763 1132.4,773.1 1134.1,777.1 1134.6,777.5 1135.2,777.4 1136.3,775.5 1139,766.8 1140.7,763.2 1141.3,762.6 1142.4,762.4 1145.1,763.7 1146.2,762.9 1146.8,761.9 1148.5,756.2 1151.8,738.7 1152.9,735 1153.4,734.4 1154,734.7 1155.1,738.5 1160.1,767.5 1161.2,771.1 1162.3,772.6 1162.9,772.5 1164,770.8 1166.7,762.1 1168.4,758.7 1169,758.2 1170.1,758.1 1172.8,760 1173.9,759.4 1174.5,758.6 1176.1,753.4 1179.5,737.5 1180.6,734.3 1181.1,733.8 1181.7,734.3 1182.8,738.1 1187.8,765.3 1188.9,768.7 1190,770.3 1190.5,770.2 1191.7,768.5 1194.4,760.2 1196.1,756.8 1196.6,756.2 1197.7,756.2 1200.5,758.1 1201.6,757.4 1202.2,756.5 1203.8,751.1 1207.7,732.7 1208.8,730.8 1209.4,731.2 1210.5,735 1214.9,761.1 1216.6,767.2 1217.7,768.8 1218.2,768.8 1219.3,767 1222.1,758.2 1223.8,754.5 1224.3,754 1225.4,753.9 1228.2,755.7 1229.3,755 1229.9,754 1231.5,748.5 1234.8,732.2 1236,729 1236.5,728.5 1237.1,728.9 1238.2,732.6 1243.2,760.9 1244.3,764.6 1245.4,766.2 1245.9,766.1 1247,764.2 1249.8,755.4 1251.5,751.7 1252,751.1 1253.1,751 1255.9,752.8 1257,752 1257.6,751.1 1259.2,745.5 1262.5,729.7 1263.6,726.5 1264.2,726 1264.8,726.4 1265.9,729.9 1270.8,758.7 1272,762.5 1273.1,764.3 1273.6,764.3 1274.7,762.7 1277.5,754.3 1279.1,751 1279.7,750.5 1280.8,750.6 1283.6,752.8 1284.7,752.3 1285.2,751.4 1286.9,746.2 1290.2,730.8 1291.3,727.7 1291.9,727.3 1292.4,727.7 1293.5,731.5 1298.5,760.4 1300.2,765.5 1300.7,766.1 1301.3,766.1 1302.4,764.5 1305.2,755.8 1306.8,752.2 1307.4,751.7 1308.5,751.7 1311.3,753.8 1312.4,753.1 1312.9,752.1 1314.6,746.3 1317.9,729.7 1319,726.4 1319.6,725.9 1320.1,726.3 1321.2,730.2 1326.2,761.6 1327.9,767.2 1328.4,767.9 1329,768 1330.1,766.3 1332.9,757.1 1334.5,753.3 1335.1,752.8 1336.2,752.8 1339,754.9 1340.1,754.2 1340.6,753.1 1342.3,747.2 1345.6,730.1 1346.7,726.8 1347.3,726.4 1347.8,726.9 1348.9,731 1353.9,764.2 1355.6,770.6 1356.7,771.7 1357.8,770.2 1360.6,760.8 1362.2,756.8 1362.8,756.2 1363.9,756.3 1366.6,758.6 1367.8,757.8 1368.3,756.6 1370,749.7 1373.3,730 1374.4,726.3 1375,725.8 1375.5,726.4 1376.6,731.2 1382.2,775.2 1383.3,779.8 1384.4,781.4 1385.5,779.8 1388.2,769.3 1389.9,764.8 1390.5,764.2 1391.6,764.3 1394.3,767.1 1395.4,766.1 1396,764.8 1397.7,756.8 1401,734.5 1402.1,730.5 1402.6,730.1 1403.2,731 1404.9,741.6 1409.3,783.7 1410.9,792.7 1412.1,794.5 1413.2,792.8 1415.9,781.1 1417.6,776.1 1418.1,775.4 1419.3,775.4 1420.9,777.5 1422,778.2 1423.1,777.1 1423.7,775.6 1425.3,767 1428.7,742.2 1429.8,737.9 1430.3,737.5 1430.9,738.6 1432,745.5 1437,794.3 1438.6,802.8 1439.2,803.9 1439.7,804.1 1440.8,801.9 1443.6,789.5 1445.3,784.2 1445.8,783.4 1446.9,783.2 1448.6,784.8 1449.7,785.4 1450.8,784.3 1451.4,782.8 1453,774.9 1456.4,751.2 1457.5,747 1458,746.7 1458.6,747.8 1459.7,754.4 1464.1,792.1 1465.8,800.3 1466.9,802.4 1467.4,802.4 1468.5,800.1 1471.3,788.6 1473,783.8 1473.5,783 1474.6,782.7 1477.4,784.1 1478.5,783 1479.1,781.7 1480.7,774.8 1484,753.3 1485.2,749.1 1485.7,748.6 1486.3,749.5 1487.4,755 1489.6,772.3 1491.8,785.8 1493.5,792.4 1494.6,794 1495.1,793.8 1496.2,791.7 1499,781.6 1500.7,777.4 1501.2,776.6 1502.3,776.3 1505.1,777.5 1506.2,776.5 1506.7,775.3 1508.4,769 1511.7,748.9 1512.8,744.8 1513.4,744.2 1513.9,744.9 1514.5,746.7 1520,781.8 1521.7,787.2 1522.3,787.9 1522.8,787.9 1523.9,786.2 1526.7,776.8 1528.3,772.8 1528.9,772.2 1530,772.1 1532.8,773.9 1533.9,773 1534.4,771.8 1536.1,765 1539.4,744 1540.5,739.8 1541.1,739.2 1541.6,739.9 1542.7,744.9 1547.7,783.7 1549.4,790.9 1550.5,792.3 1551.6,790.8 1554.4,780.9 1556,776.8 1556.6,776.2 1557.7,776.3 1560.5,779 1561.6,778.1 1562.1,776.8 1563.8,769.2 1567.1,745.8 1568.2,741.5 1568.8,741 1569.3,742 1570.4,748.3 1575.4,795.6 1577.1,804.7 1578.2,806.8 1579.3,805.4 1582.1,794.4 1583.7,789.7 1584.3,789.1 1585.4,789.3 1588.2,792.5 1589.3,791.6 1589.8,790.1 1591.5,781.2 1594.8,753.8 1595.9,748.9 1596.5,748.6 1597,749.9 1598.1,757.8 1600.9,791 1603.1,812.6 1604.8,822.2 1605.3,823.7 1605.9,824.1 1607,822.1 1609.7,809.4 1611.4,804.1 1612,803.3 1613.1,803.3 1614.7,805.4 1615.8,806.1 1616.9,805 1617.5,803.5 1619.2,794.8 1622.5,767 1623.6,762 1624.1,761.7 1625.3,766.7 1628,796.8 1630.2,816.4 1631.9,826 1633,828.7 1633.6,828.7 1634.7,826.2 1637.4,813.4 1639.1,807.9 1639.7,806.9 1640.8,806.4 1642.4,807.6 1643.5,807.8 1644.6,806.4 1645.2,804.9 1646.9,796.8 1650.2,770.2 1651.3,765.1 1651.8,764.6 1652.9,768.7 1655.7,795 1657.9,811.4 1659.6,819.5 1660.7,821.7 1661.2,821.7 1662.4,819.6 1665.1,808.8 1666.8,804.2 1667.3,803.5 1668.4,803.2 1671.2,804.9 1672.3,803.9 1672.9,802.7 1674.5,795.7 1677.9,771.1 1679,766.3 1679.5,765.8 1680.6,769.6 1683.4,793.7 1685.6,808.5 1687.3,815.9 1688.4,817.9 1688.9,817.9 1690,815.9 1692.8,805.4 1694.5,800.9 1695,800.1 1696.1,799.7 1698.9,801.2 1700,800 1700.6,798.6 1702.2,791 1705.6,765.3 1706.7,760.2 1707.2,759.5 1707.8,760.4 1708.9,766.9 1711.1,787.9 1713.3,804.1 1715,812 1716.1,814.1 1716.6,814.1 1717.7,811.8 1720.5,800.6 1722.2,795.7 1722.7,794.9 1723.8,794.5 1725.5,795.5 1726.6,795.7 1727.7,794.5 1728.3,793.2 1729.9,785.7 1733.2,761.3 1734.3,756.5 1734.9,755.9 1735.5,756.8 1736.6,763 1738.8,782.3 1741,797.1 1742.7,804.2 1743.8,806 1744.3,805.8 1745.4,803.4 1748.2,792.2 1749.9,787.4 1750.4,786.5 1751.5,786 1754.3,786.8 1755.4,785.6 1755.9,784.2 1757.6,777.1 1760.9,754.5 1762,750 1762.6,749.3 1763.1,750 1764.2,755.3 1768.7,787.5 1770.3,794.6 1771.4,796.5 1772,796.5 1773.1,794.6 1775.9,785 1777.5,781.1 1778.1,780.4 1779.2,780.3 1782,782.1 1783.1,781.3 1783.6,780.3 1784.7,776.6 1786.4,767.4" fill="none" stroke="#e3342b" stroke-width="4.7" stroke-linejoin="round" clip-path="url(#cB)"/>
<polygon points="133.4,1104.7 120.2,1095.7 120.2,1113.7" fill="#fff" stroke="#e3342b" stroke-width="4" stroke-miterlimit="10"/>
<polygon points="188.78,1045.12 175.58,1036.12 175.58,1054.12" fill="#fff" stroke="#e3342b" stroke-width="4" stroke-miterlimit="10"/>
<polygon points="244.15,971.96 230.95,962.96 230.95,980.96" fill="#fff" stroke="#e3342b" stroke-width="4" stroke-miterlimit="10"/>
<polygon points="299.53,907.16 286.33,898.16 286.33,916.16" fill="#fff" stroke="#e3342b" stroke-width="4" stroke-miterlimit="10"/>
<polygon points="354.91,870.52 341.71,861.52 341.71,879.52" fill="#fff" stroke="#e3342b" stroke-width="4" stroke-miterlimit="10"/>
<polygon points="410.28,836.04 397.08,827.04 397.08,845.04" fill="#fff" stroke="#e3342b" stroke-width="4" stroke-miterlimit="10"/>
<polygon points="465.66,815.99 452.46,806.99 452.46,824.99" fill="#fff" stroke="#e3342b" stroke-width="4" stroke-miterlimit="10"/>
<polygon points="521.04,801.44 507.84,792.44 507.84,810.44" fill="#fff" stroke="#e3342b" stroke-width="4" stroke-miterlimit="10"/>
<polygon points="576.41,786.35 563.21,777.35 563.21,795.35" fill="#fff" stroke="#e3342b" stroke-width="4" stroke-miterlimit="10"/>
<polygon points="631.79,776.73 618.59,767.73 618.59,785.73" fill="#fff" stroke="#e3342b" stroke-width="4" stroke-miterlimit="10"/>
<polygon points="687.17,763 673.97,754 673.97,772" fill="#fff" stroke="#e3342b" stroke-width="4" stroke-miterlimit="10"/>
<polygon points="742.54,755.43 729.34,746.43 729.34,764.43" fill="#fff" stroke="#e3342b" stroke-width="4" stroke-miterlimit="10"/>
<polygon points="797.92,750.47 784.72,741.47 784.72,759.47" fill="#fff" stroke="#e3342b" stroke-width="4" stroke-miterlimit="10"/>
<polygon points="853.3,741.26 840.1,732.26 840.1,750.26" fill="#fff" stroke="#e3342b" stroke-width="4" stroke-miterlimit="10"/>
<polygon points="908.67,743.36 895.47,734.36 895.47,752.36" fill="#fff" stroke="#e3342b" stroke-width="4" stroke-miterlimit="10"/>
<polygon points="964.05,749.44 950.85,740.44 950.85,758.44" fill="#fff" stroke="#e3342b" stroke-width="4" stroke-miterlimit="10"/>
<polygon points="1019.43,753.71 1006.23,744.71 1006.23,762.71" fill="#fff" stroke="#e3342b" stroke-width="4" stroke-miterlimit="10"/>
<polygon points="1074.8,758.97 1061.6,749.97 1061.6,767.97" fill="#fff" stroke="#e3342b" stroke-width="4" stroke-miterlimit="10"/>
<polygon points="1130.18,757.89 1116.98,748.89 1116.98,766.89" fill="#fff" stroke="#e3342b" stroke-width="4" stroke-miterlimit="10"/>
<polygon points="1185.56,748.23 1172.36,739.23 1172.36,757.23" fill="#fff" stroke="#e3342b" stroke-width="4" stroke-miterlimit="10"/>
<polygon points="1240.93,743.07 1227.73,734.07 1227.73,752.07" fill="#fff" stroke="#e3342b" stroke-width="4" stroke-miterlimit="10"/>
<polygon points="1296.31,741.06 1283.11,732.06 1283.11,750.06" fill="#fff" stroke="#e3342b" stroke-width="4" stroke-miterlimit="10"/>
<polygon points="1351.69,741.4 1338.49,732.4 1338.49,750.4" fill="#fff" stroke="#e3342b" stroke-width="4" stroke-miterlimit="10"/>
<polygon points="1407.06,749.18 1393.86,740.18 1393.86,758.18" fill="#fff" stroke="#e3342b" stroke-width="4" stroke-miterlimit="10"/>
<polygon points="1462.44,766.95 1449.24,757.95 1449.24,775.95" fill="#fff" stroke="#e3342b" stroke-width="4" stroke-miterlimit="10"/>
<polygon points="1517.82,762.52 1504.62,753.52 1504.62,771.52" fill="#fff" stroke="#e3342b" stroke-width="4" stroke-miterlimit="10"/>
<polygon points="1573.19,761.47 1559.99,752.47 1559.99,770.47" fill="#fff" stroke="#e3342b" stroke-width="4" stroke-miterlimit="10"/>
<polygon points="1628.57,785.63 1615.37,776.63 1615.37,794.63" fill="#fff" stroke="#e3342b" stroke-width="4" stroke-miterlimit="10"/>
<polygon points="1683.95,787.98 1670.75,778.98 1670.75,796.98" fill="#fff" stroke="#e3342b" stroke-width="4" stroke-miterlimit="10"/>
<polygon points="1739.32,777.82 1726.12,768.82 1726.12,786.82" fill="#fff" stroke="#e3342b" stroke-width="4" stroke-miterlimit="10"/>
<polygon points="1794.7,767.36 1781.5,758.36 1781.5,776.36" fill="#fff" stroke="#e3342b" stroke-width="4" stroke-miterlimit="10"/>
<polyline points="125.1,1104.7 128.4,1097.4 130.1,1094.9 131.7,1094.4 135.6,1096.1 137.3,1094.8 138.9,1091.3 142.3,1081.5 143.9,1078.7 144.5,1078.4 145.6,1078.7 148.9,1082.4 150,1082.6 150.6,1082.2 152.2,1078.8 156.1,1065.1 157.8,1062.1 158.3,1061.9 159.4,1062.5 162.8,1067.6 163.9,1067.9 164.4,1067.4 166.1,1063.6 170,1048.5 171.6,1045.3 172.2,1045.1 173.3,1045.9 176.6,1051.8 177.7,1052.2 178.3,1051.8 179.9,1047.7 183.8,1031.2 185.5,1027.8 186,1027.6 187.1,1028.5 190.4,1035 191.6,1035.4 192.1,1034.9 193.8,1030.4 197.6,1012.5 199.3,1008.7 199.9,1008.5 201,1009.5 204.3,1016.7 205.4,1017.2 205.9,1016.7 207.6,1011.9 210.9,995.1 212.6,989.6 213.1,988.9 213.7,988.7 214.3,989.1 217.6,997 218.7,998.6 219.2,998.7 219.8,998.2 220.3,997.1 222,990.6 225.3,973.2 227,969.3 227.5,969.2 228.7,970.7 232,979.9 233.1,980.9 233.6,980.4 235.3,975.5 239.2,954.7 240.8,950.9 241.4,950.8 242.5,952.5 245.8,962.6 246.9,963.6 247.5,963.2 249.1,958 253,936.5 254.1,933.1 254.7,932.5 255.2,932.5 256.3,934.3 259.7,945.1 260.8,946.3 261.3,945.9 263,940.6 266.3,921.1 268,915.2 268.5,914.6 269.1,914.7 269.6,915.5 273.5,928.6 274.6,930 275.2,929.7 276.8,924.5 280.2,904.9 281.8,899.2 282.4,898.7 283.5,899.8 287.4,914.5 288.5,916.2 289,916.1 290.7,911.2 294.6,889.2 295.7,886.1 296.2,885.7 296.8,886.1 297.9,889 301.2,903.4 302.3,905.5 302.9,905.5 304.5,900.7 308.4,878.6 309.5,875.7 310.1,875.4 310.6,875.8 311.7,878.9 315,894.2 316.1,896.4 316.7,896.4 318.4,891.5 322.2,868.9 323.3,866 323.9,865.7 324.5,866.3 325.6,869.7 328.9,886.1 330,888.6 330.5,888.7 331.1,887.9 332.2,883.9 336.1,860.9 337.2,857.8 337.7,857.5 338.3,858 339.4,861.4 342.7,877.9 343.8,880.2 344.4,880.2 346.1,875 349.9,850.8 351,847.8 351.6,847.5 352.1,848.2 353.3,851.8 356.6,869.3 357.7,871.9 358.2,872 358.8,871.2 359.9,867 363.8,842.7 364.9,839.4 365.4,839.1 366,839.6 367.1,843.1 370.4,859.9 371.5,862.2 372.1,862.1 373.7,856.6 377.1,834.5 378.7,828.6 379.3,828.4 380.4,830.7 384.3,851.5 385.4,854.4 385.9,854.6 386.5,853.8 387.6,849.8 390.9,828 392.6,822 393.1,821.7 394.2,823.8 398.1,843.7 399.2,846.3 399.8,846.3 401.4,840.8 405.3,816 406.4,813.1 407,813 407.5,813.9 408.6,818.3 412,838.2 413.1,841.5 413.6,841.8 414.2,841.2 415.3,837.3 418.6,815.7 420.3,809.9 420.8,809.6 421.9,811.9 425.2,830 426.3,834.2 426.9,835.2 427.5,835.2 428,834.2 429.7,826.4 432.4,807.6 433.5,803.1 434.1,802.1 434.7,802.2 435.8,805.1 439.6,828.5 440.7,832 441.3,832.4 441.9,831.8 443,828 446.3,806.6 447.9,800.7 448.5,800.5 449.6,802.8 452.9,821.2 454,825.4 454.6,826.3 455.1,826.3 455.7,825.4 457.4,817.5 460.1,798.5 461.2,794 461.8,793.2 462.3,793.3 463.5,796.4 467.3,820.3 468.4,823.9 469,824.4 469.5,823.9 470.7,820.1 474,798.6 475.6,792.7 476.2,792.6 477.3,794.9 480.6,813.5 481.7,817.8 482.3,818.7 482.8,818.7 483.4,817.8 485,810 487.8,791.1 488.9,786.7 489.5,785.8 490,785.9 491.1,789.1 495,813.2 496.1,816.9 496.7,817.3 497.2,816.8 498.3,813.1 501.7,791.6 503.3,785.7 503.9,785.6 505,787.9 508.3,806.5 509.4,810.8 510,811.8 510.5,811.8 511.1,810.8 512.7,803 515.5,784 516.6,779.5 517.2,778.6 517.7,778.7 518.8,781.8 522.7,805.9 523.8,809.6 524.4,810 524.9,809.5 526,805.7 529.3,784 531,778.1 531.6,777.9 532.7,780.2 536,798.8 537.1,803 537.7,804 538.2,804 538.8,803 540.4,795.1 543.2,776 544.3,771.4 544.9,770.6 545.4,770.7 546.5,773.8 550.4,798 551.5,801.7 552.1,802.2 552.6,801.7 553.7,797.9 557,776.2 558.7,770.3 559.3,770.1 560.4,772.5 563.7,791.3 564.8,795.7 565.3,796.6 565.9,796.7 566.5,795.7 568.1,787.9 570.9,769 572,764.5 572.5,763.7 573.1,763.9 574.2,767.1 578.1,791.8 579.2,795.5 579.7,796.1 580.3,795.6 581.4,791.9 584.7,770.5 586.4,764.8 586.9,764.6 588,767.1 591.4,786.2 592.5,790.7 593,791.7 593.6,791.7 594.1,790.8 595.8,783.1 598.6,764.2 599.7,759.8 600.2,759 600.8,759.2 601.9,762.5 605.8,787.3 606.9,791.1 607.4,791.7 608,791.2 609.1,787.5 612.4,766.1 614.1,760.3 614.6,760.1 615.7,762.6 619.1,781.6 620.2,786.1 620.7,787.1 621.3,787.1 621.8,786.2 623.5,778.3 626.3,759.3 627.4,754.8 627.9,753.9 628.5,754.1 629.6,757.3 633.5,781.9 634.6,785.6 635.1,786.1 635.7,785.6 636.8,781.8 640.1,760 641.8,754 642.3,753.8 643.4,756.2 646.7,775 647.9,779.3 648.4,780.3 649,780.3 649.5,779.3 651.2,771.3 653.9,752 655.1,747.4 655.6,746.5 656.2,746.7 657.3,749.9 661.1,774.5 662.3,778.2 662.8,778.7 663.4,778.2 664.5,774.4 667.8,752.6 669.5,746.6 670,746.5 671.1,748.9 674.4,768 675.5,772.4 676.1,773.4 676.7,773.4 677.2,772.5 678.9,764.6 681.6,745.6 682.7,741.1 683.3,740.3 683.9,740.5 685,743.8 688.8,768.9 689.9,772.7 690.5,773.3 691,772.8 692.2,769.2 695.5,747.6 697.1,741.7 697.7,741.6 698.8,744.1 702.1,763.5 703.2,768 703.8,769 704.3,769.1 704.9,768.2 706.6,760.4 709.3,741.4 710.4,736.9 711,736.1 711.5,736.4 712.6,739.7 716.5,765 717.6,769 718.2,769.5 718.7,769.1 719.8,765.5 723.2,743.9 724.8,738.1 725.4,738 726.5,740.6 729.8,760.1 730.9,764.7 731.5,765.7 732,765.8 732.6,764.9 734.2,757.1 737,738.1 738.1,733.7 738.7,732.9 739.2,733.1 740.3,736.6 743.7,758.9 745.3,766.1 745.9,766.6 746.4,766.2 747.5,762.6 750.9,741.1 752.5,735.4 753.1,735.3 754.2,737.9 758.1,760.2 759.2,763.2 759.7,763.3 760.3,762.4 761.4,758 764.7,735.7 765.8,731.3 766.4,730.5 766.9,730.7 768,734.2 771.9,759.8 773,763.8 773.6,764.4 774.1,764 775.2,760.4 778.5,738.8 780.2,733 780.8,732.9 781.9,735.5 785.7,757.9 786.9,760.8 787.4,760.9 788,760 789.1,755.5 792.9,730.3 794.1,727.7 794.6,727.9 796.3,734.3 799.6,756.8 800.7,760.7 801.2,761.2 801.8,760.8 802.9,757 806.2,735.1 807.3,731.8 807.9,731.5 809,733.3 812.9,751.7 814,753.8 814.5,753.6 816.2,748.2 819.5,729.1 820.6,725.6 821.2,725.2 821.7,725.7 822.8,729.5 827.3,759 828.9,766.9 830,769.6 830.6,770.1 831.7,769.2 835,760.1 836.7,757.1 837.8,756.5 840,756.6 841.7,754.9 843.3,750.1 846.7,736.6 848.3,733.3 848.9,733.4 850,735.8 855.5,766 857.2,772.2 858.3,773.8 858.8,773.7 859.9,771.9 862.7,764 864.4,760.9 865.5,760.1 867.7,760 869.4,758 871,752.3 874.9,733.9 876,731.4 876.6,731.3 877.1,732.1 878.2,736.3 883.8,772.7 884.9,776.9 886,778.6 886.5,778.5 887.6,776.3 891.5,764.7 892.6,763.2 895.9,762.6 897.1,760.8 898.7,754.8 902,738.1 903.1,734.6 903.7,733.7 904.2,733.7 905.4,736.4 906.5,742.3 911.4,776.1 912.6,780.4 913.7,782.2 914.2,782.1 915.3,779.9 919.2,767.9 920.3,766.5 922.5,766.3 923.6,765.8 924.7,763.9 926.4,757.7 929.7,740 930.8,736.1 931.4,735.2 931.9,735.2 933,738 934.2,744.3 939.1,781.4 940.2,786.3 941.4,788.4 941.9,788.4 943,786.3 945.8,776.9 947.4,773.3 948.6,772.6 950.8,773 951.9,772 952.4,770.9 954.1,764.3 957.4,745.4 958.5,741.3 959.1,740.4 959.6,740.4 960.2,741.5 961.3,746.8 966.3,785.5 967.9,793.2 969,794.8 969.6,794.4 970.7,791.6 974.6,777.6 975.7,775.7 979,774.3 980.1,772.2 981.8,765.6 985.1,747.9 986.8,743.3 987.3,743.3 987.9,744.2 989,748.7 994,784 995.6,791.8 996.7,794 997.3,793.9 998.4,791.9 1001.2,782.8 1002.8,779.3 1003.9,778.6 1006.1,778.9 1007.3,777.9 1007.8,776.7 1009.5,770.2 1013.3,748.8 1014.4,746.1 1015,746 1015.6,747.1 1016.7,752.3 1021.6,792.1 1022.8,798.1 1023.9,801.4 1024.4,801.9 1025.5,800.7 1028.8,788.8 1030.5,784.8 1031.6,783.9 1033.8,783.8 1035.5,781.5 1037.2,775.2 1040.5,758.1 1042.1,753.8 1042.7,753.9 1043.8,756.9 1049.3,793.9 1051,801.3 1052.1,803.2 1052.7,803 1053.8,800.8 1056.5,791.2 1058.2,787.4 1059.3,786.5 1061.5,786.3 1063.2,783.9 1064.8,777.3 1068.2,758.4 1069.3,754.3 1069.8,753.2 1070.4,753.1 1070.9,754 1072,758.9 1077.6,799.6 1078.7,804.1 1079.8,805.7 1080.3,805.4 1081.5,802.9 1085.3,789.6 1086.4,788 1089.8,786.9 1090.9,784.9 1092.5,778.6 1095.9,761.3 1097.5,756.9 1098.1,756.9 1098.6,757.8 1099.7,762.3 1105.3,796.2 1106.4,799.6 1107.5,800.6 1108,800.1 1109.1,797.5 1113,785 1114.1,783.3 1117.4,781.3 1118.6,779.4 1120.2,773.8 1123.5,759.6 1125.2,755.9 1125.8,755.8 1126.9,757.8 1132.4,783.3 1134.1,788.2 1135.2,789.2 1135.7,788.8 1136.8,786.8 1139.6,778.5 1141.3,775 1142.4,773.9 1144.6,772.9 1146.2,770.5 1147.9,764.8 1151.2,749.1 1152.3,745.5 1153.4,744.2 1154,744.7 1155.1,747.9 1160.6,778.6 1161.8,781.9 1162.9,783.2 1163.4,782.9 1164.5,780.8 1168.4,770.3 1169.5,768.9 1172.8,767.7 1173.9,766.1 1175.6,761 1178.9,747.1 1180,744.2 1180.6,743.5 1181.1,743.4 1182.2,745.5 1183.3,749.9 1188.3,775.7 1189.4,779 1190.5,780.2 1191.1,780 1192.2,778.1 1195,770.3 1196.6,767 1197.7,766.2 1200,765.7 1201.6,763.6 1203.3,758.2 1206.6,743.3 1207.7,740 1208.3,739.1 1208.8,738.9 1209.4,739.6 1210.5,743.1 1216,773.8 1217.1,777.2 1218.2,778.5 1218.8,778.2 1219.9,776.1 1223.8,765.1 1224.9,763.6 1228.2,762.3 1229.3,760.5 1231,755 1234.3,739.7 1235.4,736.4 1236,735.6 1236.5,735.4 1237.6,737.6 1238.7,742.4 1243.7,770.4 1244.8,773.9 1245.9,775.1 1246.5,774.8 1247.6,772.7 1251.5,761.6 1252.6,760 1255.9,758.7 1257,756.9 1258.7,751.3 1262,736.1 1263.1,732.7 1263.6,731.9 1264.2,731.8 1264.8,732.4 1265.9,736 1271.4,767.8 1272.5,771.4 1273.6,772.9 1274.2,772.7 1275.3,770.8 1279.1,760.7 1280.3,759.4 1283.6,758.8 1284.7,757.2 1286.3,752 1289.7,737.5 1290.8,734.5 1291.3,733.7 1291.9,733.7 1293,736.1 1294.1,741.1 1299.1,770 1300.2,773.7 1301.3,775.2 1301.9,775 1303,773.1 1305.7,764.8 1307.4,761.4 1308.5,760.6 1310.7,760.4 1312.4,758.3 1314,752.5 1317.4,736.3 1318.5,732.7 1319,731.8 1319.6,731.7 1320.7,734.1 1321.8,739.6 1326.8,771.8 1327.9,775.9 1329,777.6 1329.5,777.4 1330.7,775.3 1334.5,763.7 1335.6,762.2 1339,761.4 1340.1,759.7 1341.7,753.7 1345,737 1346.2,733.4 1346.7,732.5 1347.3,732.4 1348.4,735.1 1349.5,740.8 1354.5,775.5 1356.1,781.7 1356.7,782.4 1357.2,782.3 1358.3,780.2 1362.2,768.1 1363.3,766.6 1365.5,766.7 1366.6,766.2 1367.8,764.3 1369.4,757.4 1373.3,734.8 1374.4,731.7 1375,731.6 1376.1,734.8 1377.2,742.1 1382.2,786 1383.3,791.9 1384.4,794.7 1384.9,794.7 1386,792.3 1388.8,781.5 1390.5,777.3 1391.6,776.6 1393.8,777.2 1394.9,776.1 1395.4,774.8 1397.1,767 1401,741.4 1402.1,738.2 1402.6,738.3 1403.7,742.3 1404.9,751 1409.8,801.5 1410.9,808.2 1412.1,811.2 1412.6,811.2 1413.7,808.5 1417.6,792.6 1418.7,790.9 1419.3,790.7 1420.9,791.4 1422,791.1 1423.1,788.8 1424.8,780.3 1428.1,755.8 1429.2,750.7 1429.8,749.5 1430.3,749.6 1430.9,751.2 1432,758.3 1437,810.6 1438.6,821 1439.7,823.5 1440.3,823.1 1441.4,819.8 1445.3,802.9 1446.4,800.9 1446.9,800.6 1448.6,800.8 1449.7,800.2 1450.8,797.8 1452.5,790 1455.8,768.6 1456.9,764.4 1457.5,763.5 1458,763.7 1458.6,765.1 1459.7,771.1 1465.2,815.2 1466.3,819.8 1467.4,821.3 1468,820.7 1469.1,817.6 1473,802.4 1474.1,800.4 1477.4,798.5 1478.5,796.2 1480.2,789.4 1483.5,771.3 1485.2,766.7 1485.7,766.7 1486.3,767.6 1487.4,772 1492.9,805.8 1494,809.4 1495.1,810.5 1495.7,810 1496.8,807.4 1500.7,794.2 1501.8,792.4 1505.1,790.2 1506.2,788 1507.9,781.7 1511.2,764.9 1512.3,761.2 1512.8,760.2 1513.4,760 1514.5,762.1 1515.6,767.1 1520.6,797.4 1522.3,802.5 1522.8,803 1523.4,802.8 1524.5,800.6 1528.3,788.5 1529.5,786.9 1532.8,785.6 1533.9,783.6 1535.5,776.9 1539.4,755.6 1540.5,752.6 1541.1,752.4 1542.2,755 1543.3,761.3 1548.3,800.7 1549.4,806.1 1550.5,808.6 1551,808.6 1552.2,806.5 1554.9,796.5 1556.6,792.6 1557.7,791.9 1559.9,792.4 1561,791.4 1561.6,790.1 1563.2,782.7 1567.1,758.4 1568.2,755.2 1568.8,755.2 1569.9,758.9 1571,767.1 1576,816.7 1577.6,825.8 1578.2,826.9 1578.7,827.1 1579.8,824.8 1583.7,810 1584.8,808.4 1585.4,808.4 1587,809.4 1588.2,809.3 1589.3,807.2 1590.9,798.7 1594.8,770.1 1595.9,766.6 1596.5,766.7 1597,768.4 1598.1,776 1603.1,833.8 1604.2,842.7 1605.3,847.9 1605.9,848.8 1606.4,848.7 1607,847.5 1610.3,832 1612,827 1613.1,826.1 1615.3,826.9 1616.4,825.7 1616.9,824.2 1618.6,815.8 1621.9,792.2 1623,787.5 1623.6,786.6 1624.1,786.9 1624.7,788.5 1625.8,795.7 1631.3,847.4 1632.5,852.8 1633,854.2 1633.6,854.6 1634.1,854.1 1635.2,850.5 1639.1,833 1640.2,830.7 1642.4,829.6 1643.5,828.6 1644.6,826 1646.3,818 1649.6,796.7 1651.3,791.3 1651.8,791.3 1652.4,792.4 1653.5,797.6 1659,839.6 1660.1,844.2 1661.2,845.8 1661.8,845.4 1662.9,842.6 1666.8,828.4 1667.9,826.5 1671.2,825 1672.3,822.9 1674,816.1 1677.3,797.8 1679,793.1 1679.5,793 1680.6,795.8 1686.2,832.3 1687.8,839.5 1688.9,841.1 1689.5,840.7 1690.6,838.1 1693.4,827.4 1695,822.9 1696.1,821.7 1698.4,820.9 1700,817.9 1701.7,810.4 1705,789.7 1706.7,783.8 1707.2,783.5 1707.8,784.3 1708.9,789 1713.9,827.1 1715.5,834.7 1716.6,836.2 1717.2,835.7 1718.3,832.7 1722.2,817.6 1723.3,815.5 1726.6,813.4 1727.7,811 1729.4,803.6 1732.7,783.6 1734.3,778.2 1734.9,778 1735.5,778.8 1736.6,783.4 1742.1,820.7 1743.2,824.6 1743.8,825.5 1744.3,825.7 1744.9,825.1 1746,822.1 1749.9,807.1 1751,804.9 1754.3,802.1 1755.4,799.6 1757.1,792.5 1760.4,773.6 1762,768.3 1762.6,768 1763.1,768.7 1764.2,772.6 1769.2,805.7 1770.9,812.5 1772,814 1772.6,813.7 1773.7,811.3 1777.5,799 1778.6,797.4 1782,796.2 1783.1,794.3 1784.7,788.2 1786.4,779.5" fill="none" stroke="#000000" stroke-width="4.7" stroke-linejoin="round" clip-path="url(#cB)"/>
<polygon points="116.8,1104.7 130,1095.7 130,1113.7" fill="#fff" stroke="#000000" stroke-width="4" stroke-miterlimit="10"/>
<polygon points="172.18,1045.57 185.38,1036.57 185.38,1054.57" fill="#fff" stroke="#000000" stroke-width="4" stroke-miterlimit="10"/>
<polygon points="227.55,972.76 240.75,963.76 240.75,981.76" fill="#fff" stroke="#000000" stroke-width="4" stroke-miterlimit="10"/>
<polygon points="282.93,908.3 296.13,899.3 296.13,917.3" fill="#fff" stroke="#000000" stroke-width="4" stroke-miterlimit="10"/>
<polygon points="338.31,871.86 351.51,862.86 351.51,880.86" fill="#fff" stroke="#000000" stroke-width="4" stroke-miterlimit="10"/>
<polygon points="393.68,837.55 406.88,828.55 406.88,846.55" fill="#fff" stroke="#000000" stroke-width="4" stroke-miterlimit="10"/>
<polygon points="449.06,817.49 462.26,808.49 462.26,826.49" fill="#fff" stroke="#000000" stroke-width="4" stroke-miterlimit="10"/>
<polygon points="504.44,802.97 517.64,793.97 517.64,811.97" fill="#fff" stroke="#000000" stroke-width="4" stroke-miterlimit="10"/>
<polygon points="559.81,787.91 573.01,778.91 573.01,796.91" fill="#fff" stroke="#000000" stroke-width="4" stroke-miterlimit="10"/>
<polygon points="615.19,778.31 628.39,769.31 628.39,787.31" fill="#fff" stroke="#000000" stroke-width="4" stroke-miterlimit="10"/>
<polygon points="670.57,764.62 683.77,755.62 683.77,773.62" fill="#fff" stroke="#000000" stroke-width="4" stroke-miterlimit="10"/>
<polygon points="725.94,757.08 739.14,748.08 739.14,766.08" fill="#fff" stroke="#000000" stroke-width="4" stroke-miterlimit="10"/>
<polygon points="781.32,752.14 794.52,743.14 794.52,761.14" fill="#fff" stroke="#000000" stroke-width="4" stroke-miterlimit="10"/>
<polygon points="836.7,743.02 849.9,734.02 849.9,752.02" fill="#fff" stroke="#000000" stroke-width="4" stroke-miterlimit="10"/>
<polygon points="892.07,746.21 905.27,737.21 905.27,755.21" fill="#fff" stroke="#000000" stroke-width="4" stroke-miterlimit="10"/>
<polygon points="947.45,754.57 960.65,745.57 960.65,763.57" fill="#fff" stroke="#000000" stroke-width="4" stroke-miterlimit="10"/>
<polygon points="1002.83,760.48 1016.03,751.48 1016.03,769.48" fill="#fff" stroke="#000000" stroke-width="4" stroke-miterlimit="10"/>
<polygon points="1058.2,767.61 1071.4,758.61 1071.4,776.61" fill="#fff" stroke="#000000" stroke-width="4" stroke-miterlimit="10"/>
<polygon points="1113.58,766.37 1126.78,757.37 1126.78,775.37" fill="#fff" stroke="#000000" stroke-width="4" stroke-miterlimit="10"/>
<polygon points="1168.96,753.82 1182.16,744.82 1182.16,762.82" fill="#fff" stroke="#000000" stroke-width="4" stroke-miterlimit="10"/>
<polygon points="1224.33,747.13 1237.53,738.13 1237.53,756.13" fill="#fff" stroke="#000000" stroke-width="4" stroke-miterlimit="10"/>
<polygon points="1279.71,744.55 1292.91,735.55 1292.91,753.55" fill="#fff" stroke="#000000" stroke-width="4" stroke-miterlimit="10"/>
<polygon points="1335.09,745.07 1348.29,736.07 1348.29,754.07" fill="#fff" stroke="#000000" stroke-width="4" stroke-miterlimit="10"/>
<polygon points="1390.46,755.37 1403.66,746.37 1403.66,764.37" fill="#fff" stroke="#000000" stroke-width="4" stroke-miterlimit="10"/>
<polygon points="1445.84,778.79 1459.04,769.79 1459.04,787.79" fill="#fff" stroke="#000000" stroke-width="4" stroke-miterlimit="10"/>
<polygon points="1501.22,773.02 1514.42,764.02 1514.42,782.02" fill="#fff" stroke="#000000" stroke-width="4" stroke-miterlimit="10"/>
<polygon points="1556.59,771.68 1569.79,762.68 1569.79,780.68" fill="#fff" stroke="#000000" stroke-width="4" stroke-miterlimit="10"/>
<polygon points="1611.97,803.47 1625.17,794.47 1625.17,812.47" fill="#fff" stroke="#000000" stroke-width="4" stroke-miterlimit="10"/>
<polygon points="1667.35,806.59 1680.55,797.59 1680.55,815.59" fill="#fff" stroke="#000000" stroke-width="4" stroke-miterlimit="10"/>
<polygon points="1722.72,793.25 1735.92,784.25 1735.92,802.25" fill="#fff" stroke="#000000" stroke-width="4" stroke-miterlimit="10"/>
<polygon points="1778.1,779.5 1791.3,770.5 1791.3,788.5" fill="#fff" stroke="#000000" stroke-width="4" stroke-miterlimit="10"/>
<text x="959.5" y="1205.5" font-size="43" text-anchor="middle" fill="#262626" font-family="'Liberation Sans', Arial, Helvetica, sans-serif">Time (s)</text>
<text transform="translate(36.5,901.8) rotate(-90)" font-size="43.5" text-anchor="middle" fill="#262626" font-family="'Liberation Sans', Arial, Helvetica, sans-serif"><tspan font-style="italic">u</tspan> (BL/s)</text>
<line x1="611.5" y1="821" x2="709.2" y2="821" stroke="#9b97f4" stroke-width="4.7"/>
<ellipse cx="659.8" cy="821" rx="8.6" ry="9.2" fill="#9b97f4"/>
<text x="716.4" y="837.2" font-size="35.3" text-anchor="start" fill="#000" font-family="'Liberation Sans', Arial, Helvetica, sans-serif">0 %</text>
<line x1="611.5" y1="868.2" x2="709.2" y2="868.2" stroke="#4fb8e6" stroke-width="4.7"/>
<ellipse cx="659.8" cy="868.2" rx="7.7" ry="8.1" fill="#fff" stroke="#4fb8e6" stroke-width="4"/>
<text x="716.4" y="884.4" font-size="35.3" text-anchor="start" fill="#000" font-family="'Liberation Sans', Arial, Helvetica, sans-serif">2 %</text>
<line x1="611.5" y1="915.5" x2="709.2" y2="915.5" stroke="#1f3f95" stroke-width="4.7"/>
<rect x="653.7" y="908.8" width="12.8" height="13.4" fill="#fff" stroke="#1f3f95" stroke-width="4.5"/>
<text x="716.4" y="931.7" font-size="35.3" text-anchor="start" fill="#000" font-family="'Liberation Sans', Arial, Helvetica, sans-serif">4 %</text>
<line x1="611.5" y1="961.3" x2="709.2" y2="961.3" stroke="#f0963a" stroke-width="4.7"/>
<polygon points="659.8,953 668.8,966.2 650.8,966.2" fill="#fff" stroke="#f0963a" stroke-width="4" stroke-miterlimit="10"/>
<text x="716.4" y="977.5" font-size="35.3" text-anchor="start" fill="#000" font-family="'Liberation Sans', Arial, Helvetica, sans-serif">6 %</text>
<line x1="611.5" y1="1008.3" x2="709.2" y2="1008.3" stroke="#e3342b" stroke-width="4.7"/>
<polygon points="668.1,1008.3 654.9,999.3 654.9,1017.3" fill="#fff" stroke="#e3342b" stroke-width="4" stroke-miterlimit="10"/>
<text x="716.4" y="1024.5" font-size="35.3" text-anchor="start" fill="#000" font-family="'Liberation Sans', Arial, Helvetica, sans-serif">8 %</text>
<line x1="611.5" y1="1055.1" x2="709.2" y2="1055.1" stroke="#000000" stroke-width="4.7"/>
<polygon points="651.5,1055.1 664.7,1046.1 664.7,1064.1" fill="#fff" stroke="#000000" stroke-width="4" stroke-miterlimit="10"/>
<text x="716.4" y="1071.3" font-size="35.3" text-anchor="start" fill="#000" font-family="'Liberation Sans', Arial, Helvetica, sans-serif">10 %</text>
<rect x="1512" y="706.4" width="275.5" height="152.8" fill="none" stroke="#000" stroke-width="5"/>
<rect x="891.1" y="847" width="534.8" height="182.5" fill="#fff"/>
<line x1="891.1" y1="1029.5" x2="891.1" y2="1023.5" stroke="#262626" stroke-width="5.2"/>
<line x1="891.1" y1="847" x2="891.1" y2="853" stroke="#262626" stroke-width="5.2"/>
<line x1="998.06" y1="1029.5" x2="998.06" y2="1023.5" stroke="#262626" stroke-width="5.2"/>
<line x1="998.06" y1="847" x2="998.06" y2="853" stroke="#262626" stroke-width="5.2"/>
<line x1="1105.02" y1="1029.5" x2="1105.02" y2="1023.5" stroke="#262626" stroke-width="5.2"/>
<line x1="1105.02" y1="847" x2="1105.02" y2="853" stroke="#262626" stroke-width="5.2"/>
<line x1="1211.98" y1="1029.5" x2="1211.98" y2="1023.5" stroke="#262626" stroke-width="5.2"/>
<line x1="1211.98" y1="847" x2="1211.98" y2="853" stroke="#262626" stroke-width="5.2"/>
<line x1="1318.94" y1="1029.5" x2="1318.94" y2="1023.5" stroke="#262626" stroke-width="5.2"/>
<line x1="1318.94" y1="847" x2="1318.94" y2="853" stroke="#262626" stroke-width="5.2"/>
<line x1="1425.9" y1="1029.5" x2="1425.9" y2="1023.5" stroke="#262626" stroke-width="5.2"/>
<line x1="1425.9" y1="847" x2="1425.9" y2="853" stroke="#262626" stroke-width="5.2"/>
<line x1="891.1" y1="992" x2="897.1" y2="992" stroke="#262626" stroke-width="5.2"/>
<line x1="1425.9" y1="992" x2="1419.9" y2="992" stroke="#262626" stroke-width="5.2"/>
<line x1="891.1" y1="919.5" x2="897.1" y2="919.5" stroke="#262626" stroke-width="5.2"/>
<line x1="1425.9" y1="919.5" x2="1419.9" y2="919.5" stroke="#262626" stroke-width="5.2"/>
<line x1="891.1" y1="847" x2="897.1" y2="847" stroke="#262626" stroke-width="5.2"/>
<line x1="1425.9" y1="847" x2="1419.9" y2="847" stroke="#262626" stroke-width="5.2"/>
<rect x="891.1" y="847" width="534.8" height="182.5" fill="none" stroke="#262626" stroke-width="5.2" stroke-linejoin="miter"/>
<text x="891.1" y="1086.2" font-size="38" text-anchor="middle" fill="#262626" font-family="'Liberation Sans', Arial, Helvetica, sans-serif">25</text>
<text x="998.06" y="1086.2" font-size="38" text-anchor="middle" fill="#262626" font-family="'Liberation Sans', Arial, Helvetica, sans-serif">26</text>
<text x="1105.02" y="1086.2" font-size="38" text-anchor="middle" fill="#262626" font-family="'Liberation Sans', Arial, Helvetica, sans-serif">27</text>
<text x="1211.98" y="1086.2" font-size="38" text-anchor="middle" fill="#262626" font-family="'Liberation Sans', Arial, Helvetica, sans-serif">28</text>
<text x="1318.94" y="1086.2" font-size="38" text-anchor="middle" fill="#262626" font-family="'Liberation Sans', Arial, Helvetica, sans-serif">29</text>
<text x="1425.9" y="1086.2" font-size="38" text-anchor="middle" fill="#262626" font-family="'Liberation Sans', Arial, Helvetica, sans-serif">30</text>
<text x="875.1" y="1006.87" font-size="38" text-anchor="end" fill="#262626" font-family="'Liberation Sans', Arial, Helvetica, sans-serif">0.2</text>
<text x="875.1" y="934.07" font-size="38" text-anchor="end" fill="#262626" font-family="'Liberation Sans', Arial, Helvetica, sans-serif">0.25</text>
<text x="875.1" y="861.27" font-size="38" text-anchor="end" fill="#262626" font-family="'Liberation Sans', Arial, Helvetica, sans-serif">0.3</text>
<polyline points="880.4,879.6 882.5,884.7 884.7,888.3 886.3,889.4 887.9,889.1 890.6,885.3 897,870.5 899.1,868 900.7,867.8 902.3,869.2 903.9,871.9 910.4,886.7 912.5,889.2 914.1,889.3 915.7,887.9 917.3,885.3 923.7,870.4 925.3,868.3 926.9,867.7 928.5,868.5 930.1,870.8 937.1,886.6 938.7,888.7 940.3,889.4 941.9,888.5 943.5,886.3 950.5,870.4 952.1,868.3 953.7,867.6 955.3,868.5 956.9,870.8 963.8,886.6 965.4,888.7 967,889.4 968.6,888.5 970.3,886.2 977.2,870.4 978.8,868.3 980.4,867.6 982,868.5 983.6,870.7 990.6,886.6 992.2,888.7 993.8,889.3 995.4,888.5 997,886.2 1003.9,870.3 1005.5,868.2 1007.2,867.6 1008.8,868.4 1010.4,870.7 1017.3,886.5 1018.9,888.6 1020.5,889.3 1022.1,888.4 1023.7,886.2 1030.7,870.3 1032.3,868.2 1033.9,867.5 1035.5,868.4 1037.1,870.7 1044.1,886.5 1045.7,888.6 1047.3,889.3 1048.9,888.4 1050.5,886.1 1057.4,870.3 1059,868.2 1060.6,867.5 1062.2,868.4 1063.8,870.6 1070.8,886.5 1072.4,888.6 1074,889.2 1075.6,888.4 1077.2,886.1 1084.2,870.2 1085.8,868.1 1087.4,867.5 1089,868.3 1090.6,870.6 1097.5,886.5 1099.1,888.5 1100.7,889.2 1102.3,888.3 1104,886.1 1110.9,870.2 1112.5,868.1 1114.1,867.5 1115.7,868.3 1117.3,870.6 1124.3,886.4 1125.9,888.5 1127.5,889.2 1129.1,888.3 1130.7,886 1137.6,870.2 1139.2,868.1 1140.9,867.4 1142.5,868.3 1144.1,870.6 1151,886.4 1152.6,888.5 1154.2,889.2 1155.8,888.3 1157.4,886 1164.4,870.2 1166,868.1 1167.6,867.4 1169.2,868.3 1170.8,870.5 1177.8,886.4 1179.4,888.5 1181,889.1 1182.6,888.3 1184.2,886 1191.1,870.1 1192.7,868.1 1194.3,867.4 1195.9,868.2 1197.5,870.5 1204.5,886.4 1206.1,888.5 1207.7,889.1 1209.3,888.3 1210.9,886 1217.9,870.1 1219.5,868 1221.1,867.4 1222.7,868.2 1224.3,870.5 1231.2,886.3 1232.8,888.4 1234.4,889.1 1236,888.2 1237.7,886 1244.6,870.1 1246.2,868 1247.8,867.4 1249.4,868.2 1251,870.5 1258,886.3 1259.6,888.4 1261.2,889.1 1262.8,888.2 1264.4,886 1271.3,870.1 1272.9,868 1274.6,867.3 1276.2,868.2 1277.8,870.5 1284.7,886.3 1286.3,888.4 1287.9,889.1 1289.5,888.2 1291.1,885.9 1298.1,870.1 1299.7,868 1301.3,867.3 1302.9,868.2 1304.5,870.5 1311.5,886.3 1313.1,888.4 1314.7,889.1 1316.3,888.2 1317.9,885.9 1324.8,870.1 1326.4,868 1328,867.3 1329.6,868.2 1331.2,870.5 1338.2,886.3 1339.8,888.4 1341.4,889.1 1343,888.2 1344.6,885.9 1351.6,870.1 1353.2,868 1354.8,867.3 1356.4,868.2 1358,870.4 1364.9,886.3 1366.5,888.4 1368.1,889.1 1369.7,888.2 1371.4,885.9 1378.3,870.1 1379.9,868 1381.5,867.3 1383.1,868.2 1384.7,870.4 1391.7,886.3 1393.3,888.4 1394.9,889 1396.5,888.2 1398.1,885.9 1405,870.1 1406.6,868 1408.3,867.3 1409.9,868.2 1411.5,870.4 1418.4,886.3 1420,888.4 1421.6,889 1423.2,888.2 1424.8,885.9 1430.2,873.3 1432.3,869.2 1434.5,867.4 1435.5,867.4 1436.6,868.2" fill="none" stroke="#9b97f4" stroke-width="4.2" stroke-linejoin="round" clip-path="url(#cBi)"/>
<ellipse cx="891.1" cy="884.18" rx="8.6" ry="9.2" fill="#9b97f4"/>
<ellipse cx="998.06" cy="884.04" rx="8.6" ry="9.2" fill="#9b97f4"/>
<ellipse cx="1105.02" cy="883.93" rx="8.6" ry="9.2" fill="#9b97f4"/>
<ellipse cx="1211.98" cy="883.84" rx="8.6" ry="9.2" fill="#9b97f4"/>
<ellipse cx="1318.94" cy="883.79" rx="8.6" ry="9.2" fill="#9b97f4"/>
<ellipse cx="1425.9" cy="883.77" rx="8.6" ry="9.2" fill="#9b97f4"/>
<polyline points="880.4,886.6 882.5,891.1 884.7,894.1 886.3,894.8 887.9,894.1 890,890.3 896.4,872.3 898.1,869.7 899.7,868.7 901.3,869.6 902.3,871.3 908.7,889.6 910.9,894 912.5,895.9 914.1,896.4 916.2,894.7 918.4,890.8 923.7,878.7 925.3,876.5 926.9,875.7 928.5,876.3 930.1,878.2 937.1,892.3 938.7,894 940.3,894.2 941.9,892.8 943.5,889.7 949.9,872.1 951.5,869.5 953.1,868.4 954.7,869.3 955.8,871 962.8,890.8 964.9,894.9 966.5,896.5 968.1,896.6 970.3,894.4 977.2,879.2 978.8,877 980.4,876.1 981.5,876.4 983.1,877.9 990,892.1 991.6,894.2 993.2,894.9 994.9,894.1 995.9,892.4 1002.9,873.2 1005,869.5 1006.6,868.4 1008.2,869.3 1009.3,871.1 1016.2,892.1 1018.4,896.5 1020,898.2 1021.6,898.4 1023.7,896.3 1030.7,880.9 1032.3,878.7 1033.9,877.8 1035,878.1 1036.6,879.6 1043.5,893.9 1045.1,895.9 1046.7,896.6 1048.3,895.7 1049.9,892.7 1056.9,872.2 1058.5,869.6 1060.1,868.6 1061.7,869.7 1063.3,873 1067,886.6 1070.3,895.5 1072.4,899.5 1073.5,900.5 1074.5,900.8 1075.6,900.4 1077.2,898.6 1084.2,882.9 1085.8,880.6 1087.4,879.7 1089,880.3 1090.6,882.2 1097.5,896.4 1099.7,898.3 1101.3,898 1102.3,896.6 1104,892.8 1109.8,873.8 1112,869.9 1113.6,869 1115.2,870.2 1116.3,872.4 1120.5,888.1 1123.7,896.7 1125.9,900.4 1126.9,901.3 1128,901.6 1129.6,900.6 1131.2,898.2 1138.2,882.5 1139.8,880.6 1140.9,880.2 1142.5,880.7 1144.1,882.6 1151,896.6 1153.2,898.4 1154.8,898.1 1155.8,896.8 1157.4,893 1163.3,873.9 1165.5,869.9 1167.1,869 1168.7,870.2 1169.7,872.4 1174,887.7 1177.2,896 1179.4,899.6 1180.4,900.4 1181.5,900.6 1183.1,899.6 1184.7,897.2 1191.7,881.9 1193.3,880.1 1194.3,879.6 1195.9,880.2 1197.5,882.2 1204.5,896.2 1206.6,898.1 1208.2,897.9 1209.3,896.6 1210.9,892.9 1216.8,873.9 1218.9,869.9 1220.5,869 1222.1,870.2 1223.2,872.4 1227.5,887.5 1230.7,895.6 1232.8,899.1 1233.9,899.9 1235,900.1 1236.6,899.1 1238.2,896.7 1245.1,881.4 1246.7,879.6 1247.8,879.2 1249.4,879.7 1251,881.7 1258,895.7 1260.1,897.5 1261.7,897.3 1262.8,896 1264.4,892.3 1270.3,873.6 1272.4,869.7 1274,868.8 1275.6,869.9 1276.7,872 1281,886.7 1284.2,895 1286.3,898.5 1287.4,899.4 1288.5,899.6 1290.1,898.6 1291.7,896.2 1298.6,880.7 1300.2,878.9 1301.3,878.5 1302.9,879 1304.5,880.9 1311.5,894.9 1313.6,896.8 1315.2,896.5 1316.3,895.3 1317.9,891.7 1322.1,877.9 1324.3,872.3 1325.9,869.6 1327.5,868.6 1329.1,869.7 1330.2,871.7 1334.4,885.9 1337.7,894.1 1339.8,897.5 1340.9,898.3 1341.9,898.5 1343.5,897.4 1345.1,895 1351.6,880.5 1353.2,878.2 1354.8,877.3 1356.4,877.9 1358,879.8 1364.9,893.7 1367.1,895.6 1368.7,895.3 1369.7,894.1 1371.4,890.8 1377.8,872.1 1379.4,869.4 1381,868.4 1382.6,869.4 1384.2,872.5 1387.9,884.7 1391.1,892.8 1393.3,896.2 1394.3,897 1395.4,897.2 1397,896.2 1398.6,893.8 1405,879.5 1406.6,877.3 1408.3,876.5 1409.9,877.1 1411.5,879 1418.4,893.1 1420.6,895 1422.2,894.8 1423.2,893.7 1424.8,890.4 1429.6,876 1431.8,871 1433.4,868.9 1434.5,868.4 1435.5,868.8 1436.6,870.2" fill="none" stroke="#4fb8e6" stroke-width="4.2" stroke-linejoin="round" clip-path="url(#cBi)"/>
<ellipse cx="891.1" cy="887.38" rx="7.7" ry="8.1" fill="#fff" stroke="#4fb8e6" stroke-width="4"/>
<ellipse cx="998.06" cy="887.15" rx="7.7" ry="8.1" fill="#fff" stroke="#4fb8e6" stroke-width="4"/>
<ellipse cx="1105.02" cy="889.37" rx="7.7" ry="8.1" fill="#fff" stroke="#4fb8e6" stroke-width="4"/>
<ellipse cx="1211.98" cy="889.52" rx="7.7" ry="8.1" fill="#fff" stroke="#4fb8e6" stroke-width="4"/>
<ellipse cx="1318.94" cy="888.49" rx="7.7" ry="8.1" fill="#fff" stroke="#4fb8e6" stroke-width="4"/>
<ellipse cx="1425.9" cy="887.47" rx="7.7" ry="8.1" fill="#fff" stroke="#4fb8e6" stroke-width="4"/>
<polyline points="880.4,900.6 882.5,903.9 884.7,905.7 886.3,905.7 887.9,904.2 890,899.2 895.9,878.6 897.5,875.1 899.1,873.8 900.2,874.3 901.8,877.4 907.1,897.4 910.4,905.8 913,909.9 914.6,910.5 915.7,910.1 916.8,909.1 918.9,905.5 923.7,895.2 925.3,892.8 926.9,891.7 928.5,891.8 930.1,893.1 935.5,901.7 937.1,903.6 938.7,904.4 939.8,904.2 941.4,902.6 943,899.2 949.9,876.2 951.5,873.4 952.6,872.8 954.2,873.9 955.8,877.8 960.1,895 963.8,906.2 966.5,911 967.6,911.8 968.6,911.9 969.7,911.4 971.3,909.3 977.2,896.8 978.8,894.4 980.4,893.2 982,893.3 983.6,894.7 989,903.6 990.6,905.6 991.6,906.3 992.7,906.4 994.3,905.2 995.4,903.4 997,899 1002.9,877.8 1004.5,874.4 1006.1,873.1 1007.7,874.4 1009.3,878.7 1013.6,898.1 1017.3,910.6 1020,916.2 1021.1,917.2 1022.1,917.5 1023.2,917.1 1024.8,915.2 1030.7,902.2 1032.3,899.7 1033.9,898.4 1035.5,898.5 1037.1,899.9 1042.4,909.1 1044.1,911 1045.7,911.8 1047.3,910.9 1048.3,909.4 1049.9,905.1 1056.4,879.4 1058,875.7 1059.6,874.5 1061.2,876.3 1062.2,879.3 1067,903.9 1070.3,915.6 1072.9,922.3 1074.5,924.2 1075.6,924.5 1076.7,924.1 1078.3,922 1084.2,908.3 1085.8,905.6 1087.4,904.2 1089,904.2 1090.6,905.5 1095.9,914.5 1097.5,916.4 1098.6,917.1 1099.7,917 1101.3,915.7 1102.3,913.6 1104,908.2 1109.8,882.1 1111.4,878.1 1112.5,877 1113,877 1114.6,879.2 1115.7,882.8 1120,906.1 1122.7,916 1125.9,924.2 1127.5,926.2 1128.6,926.7 1129.6,926.4 1131.2,924.6 1137.6,909.9 1139.2,907.2 1140.9,905.7 1142.5,905.6 1144.1,906.8 1149.4,915.2 1151,917 1152.1,917.6 1153.2,917.6 1154.8,916.3 1155.8,914.3 1157.4,909 1163.3,882.7 1164.9,878.7 1166,877.5 1166.5,877.4 1167.6,878.5 1169.2,883.1 1173.5,905.4 1175.6,912.8 1178.8,920.9 1180.4,923.1 1182,923.9 1183.1,923.5 1184.7,921.8 1191.1,907.9 1192.7,905.4 1194.3,904.2 1195.9,904.2 1197.5,905.5 1202.9,914 1204.5,915.9 1205.6,916.6 1206.6,916.7 1208.2,915.6 1209.3,913.7 1210.9,908.7 1216.8,882.9 1218.4,878.9 1219.5,877.7 1220,877.6 1221.1,878.7 1222.7,883.2 1227,904.8 1229.1,911.8 1232.3,919.6 1233.9,921.7 1235.5,922.4 1236.6,922 1238.2,920.3 1244.6,906.5 1246.2,904.1 1247.8,902.8 1249.4,902.8 1251,904 1256.4,912.5 1258,914.3 1259,915 1260.1,915 1261.7,913.8 1262.8,911.9 1264.4,906.9 1270.3,881.6 1271.9,877.7 1272.9,876.5 1273.5,876.4 1274.6,877.3 1276.2,881.5 1280.4,902.5 1283.1,911.4 1286.3,918.8 1287.9,920.5 1289,920.8 1290.1,920.5 1291.7,918.7 1298.1,904.6 1299.7,902.1 1301.3,900.7 1302.9,900.7 1304.5,901.9 1309.8,910.3 1311.5,912.1 1312.5,912.7 1313.6,912.8 1315.2,911.6 1316.3,909.7 1317.9,904.9 1323.8,880.8 1325.4,877 1326.4,875.8 1327.5,875.9 1328,876.5 1329.6,880.5 1333.9,900.3 1337.1,910.2 1339.8,915.8 1341.4,917.4 1342.5,917.6 1343.5,917.2 1345.1,915.3 1351.6,901.2 1353.2,898.7 1354.8,897.4 1356.4,897.3 1358,898.5 1363.3,906.7 1364.9,908.5 1366,909.1 1367.1,909.2 1368.7,908.1 1369.7,906.3 1371.4,901.8 1377.2,879.4 1378.8,875.8 1379.9,874.6 1381,874.6 1381.5,875.1 1383.1,878.6 1387.9,898.7 1391.1,907.7 1393.8,912.6 1394.9,913.5 1396,913.8 1397,913.4 1398.6,911.6 1405,898.3 1406.6,895.9 1408.3,894.8 1409.9,894.9 1411.5,896.2 1416.8,904.8 1418.4,906.7 1420,907.6 1421.6,907.1 1422.7,905.9 1424.3,902.4 1429.6,882.6 1431.8,876.6 1433.4,874.4 1434.5,874.5 1435.5,875.8 1436.6,878.4" fill="none" stroke="#1f3f95" stroke-width="4.2" stroke-linejoin="round" clip-path="url(#cBi)"/>
<rect x="885" y="888.95" width="12.8" height="13.4" fill="#fff" stroke="#1f3f95" stroke-width="4.5"/>
<rect x="991.96" y="888.49" width="12.8" height="13.4" fill="#fff" stroke="#1f3f95" stroke-width="4.5"/>
<rect x="1098.92" y="896.72" width="12.8" height="13.4" fill="#fff" stroke="#1f3f95" stroke-width="4.5"/>
<rect x="1205.88" y="897.48" width="12.8" height="13.4" fill="#fff" stroke="#1f3f95" stroke-width="4.5"/>
<rect x="1312.84" y="893.94" width="12.8" height="13.4" fill="#fff" stroke="#1f3f95" stroke-width="4.5"/>
<rect x="1419.8" y="890.33" width="12.8" height="13.4" fill="#fff" stroke="#1f3f95" stroke-width="4.5"/>
<polyline points="880.4,918.2 882.5,919.9 884.7,920.3 886.3,919.3 887.9,916.9 890,911.2 895.9,889.4 897.5,885.9 898.6,884.9 899.7,885.3 901.3,888.6 906.1,908.6 909.3,918.8 912,925.2 914.1,928.1 915.7,928.6 917.8,927 924.3,914.9 925.9,912.6 927.5,911.4 928.5,911.1 930.1,911.7 936,917.2 937.6,917.8 938.7,917.5 940.8,915.1 942.4,911.5 949.9,885.2 951.5,882.5 952.6,882.1 953.7,883.2 955.3,887.4 960.1,909.3 964.4,924.1 967,929.9 968.6,931.5 969.7,931.6 971.9,929.7 977.7,917.9 979.3,915.6 980.9,914.3 982,914.1 983.6,914.7 988.4,920.1 990,921.3 991.6,921.4 993.2,920.2 994.9,917.4 996.5,912.8 1002.9,887.5 1004.5,884 1005.5,883.1 1006.6,883.7 1007.2,884.5 1008.8,889.4 1013.6,915 1017.8,932.6 1020.5,939.7 1022.1,941.8 1023.2,942.2 1024.3,941.7 1025.9,939.6 1031.2,927.8 1032.8,925.2 1034.4,923.8 1035.5,923.5 1037.1,924.2 1041.9,930 1043.5,931.3 1045.1,931.4 1046.7,929.9 1048.3,926.7 1049.9,921.2 1056.4,892 1058,888.1 1059,887.2 1060.1,888.1 1060.6,889.2 1062.2,895.3 1067,925.5 1070.8,942.9 1072.4,948.6 1074,952.6 1075.6,954.7 1076.7,955 1077.7,954.3 1078.8,952.9 1084.7,938.9 1086.3,936 1087.9,934.4 1089,934 1090.6,934.6 1095.4,940.1 1097,941.3 1098.1,941.4 1099.1,940.9 1100.7,938.9 1101.8,936.6 1103.4,931 1109.8,899.5 1111.4,895.3 1112.5,894.5 1113.6,895.6 1115.2,901.1 1120,931.4 1123.2,945.4 1126.4,955.2 1128,957.8 1129.6,958.6 1130.7,958.1 1132.3,955.9 1138.2,941.8 1139.8,938.9 1141.4,937.2 1142.5,936.7 1144.1,937 1148.9,941.5 1150.5,942.4 1151.5,942.5 1152.6,942 1154.2,940 1155.8,936.3 1157.4,930.2 1163.3,901.3 1164.9,897 1166,896.1 1167.1,897 1168.7,902.1 1173.5,930 1176.7,942.2 1179.9,950.6 1181.5,952.8 1183.1,953.4 1184.2,952.9 1185.8,950.9 1191.7,938.4 1193.3,935.9 1194.9,934.5 1195.9,934.2 1197.5,934.6 1202.4,939.3 1204.5,940.5 1205.6,940.4 1206.6,939.8 1208.2,937.8 1209.3,935.4 1210.9,929.8 1216.8,901.9 1218.4,897.6 1219.5,896.7 1220.5,897.6 1222.1,902.6 1227,929 1229.6,938.6 1231.8,944.7 1233.4,948.1 1235,950.1 1236.6,950.7 1237.7,950.2 1239.3,948.2 1245.1,935.9 1246.7,933.4 1248.3,932 1249.4,931.6 1251,932 1255.8,936.5 1257.4,937.5 1258.5,937.6 1259.6,937.2 1261.2,935.5 1262.8,932 1264.4,926.2 1270.3,898.5 1271.9,894.2 1272.9,893.2 1274,894 1275.6,898.5 1280.4,924.8 1283.6,936.8 1286.9,945.1 1288.5,947.3 1290.1,947.9 1291.1,947.3 1292.7,945.2 1298.6,932.3 1300.2,929.7 1301.8,928.2 1302.9,927.8 1304.5,928.1 1309.3,932.6 1310.9,933.5 1312,933.6 1313.1,933.2 1314.7,931.4 1316.3,928.1 1317.9,922.5 1323.8,896.2 1325.4,892.2 1326.4,891.2 1327.5,891.9 1329.1,896.2 1333.9,920.7 1337.1,931.9 1340.3,939.6 1341.9,941.5 1343,941.9 1344.1,941.6 1345.7,939.9 1352.1,926.1 1353.7,923.6 1355.3,922 1356.4,921.6 1358,921.9 1362.8,926 1364.4,926.9 1365.5,927 1366.5,926.6 1368.1,924.9 1369.7,921.7 1371.4,916.5 1377.2,892.4 1378.8,888.6 1379.9,887.6 1381,888.1 1382.6,891.8 1387.4,914 1391.1,926.4 1393.8,932.5 1395.4,934.4 1396.5,934.9 1397.6,934.7 1399.2,933.2 1405.6,920.8 1407.2,918.6 1408.8,917.3 1409.9,917.1 1411.5,917.6 1416.3,922.4 1417.9,923.5 1419.5,923.7 1421.1,922.8 1422.7,920.5 1424.3,916.3 1429.6,895.3 1431.8,889 1433.4,887.2 1434.5,887.7 1435.5,889.8 1436.6,893.4" fill="none" stroke="#f0963a" stroke-width="4.2" stroke-linejoin="round" clip-path="url(#cBi)"/>
<polygon points="891.1,899.06 900.1,912.26 882.1,912.26" fill="#fff" stroke="#f0963a" stroke-width="4" stroke-miterlimit="10"/>
<polygon points="998.06,898.29 1007.06,911.49 989.06,911.49" fill="#fff" stroke="#f0963a" stroke-width="4" stroke-miterlimit="10"/>
<polygon points="1105.02,915.05 1114.02,928.25 1096.02,928.25" fill="#fff" stroke="#f0963a" stroke-width="4" stroke-miterlimit="10"/>
<polygon points="1211.98,916.66 1220.98,929.86 1202.98,929.86" fill="#fff" stroke="#f0963a" stroke-width="4" stroke-miterlimit="10"/>
<polygon points="1318.94,909.57 1327.94,922.77 1309.94,922.77" fill="#fff" stroke="#f0963a" stroke-width="4" stroke-miterlimit="10"/>
<polygon points="1425.9,902.29 1434.9,915.49 1416.9,915.49" fill="#fff" stroke="#f0963a" stroke-width="4" stroke-miterlimit="10"/>
<polyline points="880.4,935.1 882,935.4 883.6,935 885.2,933.7 886.8,931.4 889.5,924.8 895.4,905.1 897,901.5 898.6,900.1 900.2,901.6 901.8,905.8 906.6,924.7 911.4,939.9 913,943.4 914.6,945.6 916.2,946.4 917.3,946.2 919.4,943.7 924.8,933.7 927.5,930.4 928.5,929.7 930.1,929.5 934.4,931.2 936,931.5 937.6,931 939.2,929.3 940.8,926.4 942.4,922.1 948.9,899.9 950.5,896.2 952.1,894.8 953.7,896.4 955.3,900.8 961.7,929.8 965.4,943.6 968.1,949.6 969.7,951 970.8,950.9 972.9,948.7 978.3,938 980.9,934.6 982,934 983.6,933.9 987.9,936.4 989.5,936.9 991.1,936.4 992.7,934.6 994.3,931.4 995.9,926.6 1002.3,901.8 1003.9,898 1005,896.8 1005.5,896.7 1007.2,898.8 1008.8,904.4 1015.2,939.6 1018.9,956.6 1021.6,964.2 1023.2,966.2 1024.3,966.4 1025.3,965.6 1026.4,964 1031.8,952.2 1034.4,948.3 1035.5,947.6 1037.1,947.6 1041.4,950.7 1043,951.3 1044.6,950.8 1046.2,948.7 1047.8,944.9 1049.4,939.3 1055.8,910.3 1057.4,905.9 1058.5,904.7 1059,904.7 1060.6,907.6 1062.2,914.5 1067,946.4 1071.3,970.1 1073.5,978.6 1075.6,983.6 1077.2,984.7 1078.8,983.5 1080.4,980.4 1085.2,968 1086.8,964.9 1088.4,963.1 1089.5,962.5 1090.6,962.5 1094.9,965.2 1096.5,965.7 1098.1,965 1099.7,962.9 1101.3,959.2 1102.9,953.7 1109.3,924.2 1110.9,919.7 1112,918.6 1113,919.2 1113.6,920.3 1115.2,926.4 1120.5,958.8 1124.8,978.7 1127.5,986.7 1129.1,989.2 1130.2,989.7 1131.2,989.2 1132.8,986.9 1138.7,972.1 1141.4,967.5 1142.5,966.5 1144.1,966 1148.9,967.5 1150.5,967.3 1152.1,966 1153.7,963.4 1155.3,959.4 1156.9,953.7 1162.8,927.6 1164.4,923.1 1165.5,921.8 1166.5,922.1 1167.1,923 1168.7,928.2 1174,956.5 1177.8,971.3 1181,979.8 1182.6,981.8 1183.6,982.2 1184.7,981.9 1186.3,979.9 1192.2,967.5 1194.9,963.7 1195.9,962.9 1197.5,962.6 1202.4,964.3 1204,964.3 1205.6,963.4 1207.2,961.2 1208.8,957.8 1210.4,952.8 1216.3,928.6 1217.9,924.3 1218.9,923 1220,923.3 1221.6,927 1227,952.5 1231.2,968.1 1234.4,976 1236,977.9 1237.1,978.3 1238.2,977.9 1239.8,976.1 1245.7,963.9 1248.3,960.1 1249.4,959.3 1251,958.9 1255.3,960.3 1256.9,960.4 1258.5,959.7 1260.1,957.7 1261.7,954.5 1263.3,949.6 1269.7,922.5 1271.3,917.9 1272.4,916.4 1273.5,916.6 1274,917.3 1275.6,921.9 1281,948.9 1285.2,965.2 1287.9,971.9 1289.5,973.9 1290.6,974.2 1291.7,973.8 1293.3,971.7 1299.2,958.7 1301.8,954.7 1302.9,953.8 1304.5,953.3 1308.8,954.6 1310.4,954.7 1312,953.9 1313.6,952 1315.2,948.7 1316.8,944 1323.2,918.2 1324.8,913.9 1325.9,912.6 1327,912.7 1327.5,913.4 1329.1,917.8 1334.4,942.7 1338.7,957.7 1341.4,963.7 1343,965.3 1344.1,965.5 1345.1,964.9 1346.7,962.8 1352.6,949.9 1355.3,945.8 1356.4,944.9 1358,944.3 1362.3,945.3 1363.9,945.2 1365.5,944.4 1367.1,942.5 1368.7,939.4 1370.3,934.9 1376.7,911 1378.3,907 1379.4,905.7 1380.4,905.7 1381,906.3 1382.6,910 1387.9,933 1392.2,947.6 1394.9,953.5 1396.5,955.3 1397.6,955.6 1398.6,955.3 1400.2,953.5 1406.1,942.4 1408.8,939.1 1409.9,938.5 1411.5,938.2 1416.3,940.1 1417.9,940.2 1419.5,939.4 1421.1,937.5 1423.8,931.6 1429.6,911.3 1431.2,907 1432.3,905.3 1433.4,904.7 1434.5,905.6 1436.6,911.3" fill="none" stroke="#e3342b" stroke-width="4.2" stroke-linejoin="round" clip-path="url(#cBi)"/>
<polygon points="899.4,919.49 886.2,910.49 886.2,928.49" fill="#fff" stroke="#e3342b" stroke-width="4" stroke-miterlimit="10"/>
<polygon points="1006.36,918.38 993.16,909.38 993.16,927.38" fill="#fff" stroke="#e3342b" stroke-width="4" stroke-miterlimit="10"/>
<polygon points="1113.32,943.96 1100.12,934.96 1100.12,952.96" fill="#fff" stroke="#e3342b" stroke-width="4" stroke-miterlimit="10"/>
<polygon points="1220.28,946.46 1207.08,937.46 1207.08,955.46" fill="#fff" stroke="#e3342b" stroke-width="4" stroke-miterlimit="10"/>
<polygon points="1327.24,935.69 1314.04,926.69 1314.04,944.69" fill="#fff" stroke="#e3342b" stroke-width="4" stroke-miterlimit="10"/>
<polygon points="1434.2,924.61 1421,915.61 1421,933.61" fill="#fff" stroke="#e3342b" stroke-width="4" stroke-miterlimit="10"/>
<polyline points="880.4,949.8 883.1,948.4 885.8,944.7 887.9,939.8 894.8,920.8 897,917.5 898.6,916.8 900.2,918.2 902.3,922.8 909.8,948.6 912.5,956.4 915.2,961.3 916.8,962.4 917.8,962.1 920,959.8 925.3,950.1 928,946.5 930.1,945.1 935.5,944.3 938.2,941.8 941.4,934.8 948.3,913.4 950.5,909.5 952.1,908.8 953.7,910.4 955.8,916.2 963.3,949.7 966.5,961.6 969.2,967.4 970.3,968.3 971.3,968.3 973.5,966.1 978.8,955.5 981.5,951.8 983.6,950.7 989,951 990.6,950 991.6,948.7 993.2,945.5 994.9,940.9 1001.8,916.4 1003.9,912.2 1005,911.6 1005.5,911.7 1007.2,914.1 1009.3,921.8 1016.8,964 1020,979 1022.7,986.5 1023.7,987.7 1024.8,987.9 1025.9,987.1 1026.9,985.4 1032.3,973.2 1035,969.1 1037.1,968 1040.8,969.2 1042.4,969.3 1044.1,968.3 1045.7,965.8 1048.3,957.8 1055.3,929.1 1056.9,925.1 1058,923.8 1058.5,923.7 1059.6,924.6 1060.1,925.7 1062.2,933.8 1071.3,992.1 1074,1004.4 1076.1,1009.9 1076.7,1010.6 1077.7,1011 1079.3,1009.5 1081,1006.1 1085.8,993.1 1088.4,988.4 1090.6,986.9 1094.3,987.6 1095.9,987.5 1097.5,986.4 1098.6,984.8 1101.3,977.8 1108.2,950.9 1110.4,945.9 1111.4,945 1112,944.9 1113,946 1114.1,948.5 1116.3,957.1 1123.2,995.3 1125.9,1007.4 1128.6,1015.1 1129.6,1016.6 1130.7,1017.1 1131.8,1016.5 1133.4,1013.9 1139.2,998.3 1141.9,993.3 1144.1,991.3 1149.4,989.9 1152.1,986.7 1154.8,980 1161.7,955.7 1163.8,951.1 1165.5,949.8 1167.1,951.1 1169.2,956.7 1176.7,989.5 1179.4,999.5 1182,1006 1183.1,1007.3 1184.2,1007.7 1185.2,1007.3 1186.8,1005.3 1192.7,992.7 1195.4,988.6 1197.5,987 1202.9,986 1205.6,983.4 1208.2,977.7 1215.2,956.9 1216.8,953.6 1218.4,951.9 1219.5,951.8 1220.5,952.8 1223.2,959.2 1230.7,988 1233.4,996.5 1236,1001.8 1237.1,1002.6 1238.2,1002.6 1239.3,1001.9 1240.9,999.6 1246.2,988.2 1248.9,984.1 1251,982.4 1256.4,981 1259,978.1 1262.3,970.3 1269.2,946.8 1271.3,942.6 1272.4,941.7 1273.5,942 1275.1,944.5 1276.7,949.4 1283.6,979.7 1286.3,989.6 1289,995.9 1290.1,997.2 1291.1,997.6 1292.2,997.1 1293.8,994.9 1299.7,981.6 1302.4,977.1 1304.5,975.3 1309.8,973.8 1312.5,970.8 1315.2,964.6 1322.1,941.8 1323.8,938.1 1325.4,936.1 1326.4,935.9 1327.5,936.8 1329.6,941.6 1337.7,972.8 1340.3,981.1 1342.5,985.2 1343.5,986.2 1344.6,986.4 1345.7,985.8 1347.3,983.6 1353.2,970.4 1355.8,966 1358,964 1363.3,961.9 1366,958.8 1368.7,952.8 1375.6,931.2 1377.2,927.7 1378.8,925.6 1380.4,925.5 1381.5,926.7 1382.6,928.8 1384.7,935.4 1392.7,965.3 1395.4,971.6 1397,973.6 1398.1,974 1399.2,973.7 1400.8,972 1406.6,961.2 1409.3,957.6 1411.5,956.2 1416.8,955.4 1418.4,954.3 1420,952.3 1422.7,946.7 1428.6,930.2 1431.2,925.1 1432.9,924 1433.9,924.4 1435,925.7 1436.6,929.3" fill="none" stroke="#000000" stroke-width="4.2" stroke-linejoin="round" clip-path="url(#cBi)"/>
<polygon points="882.8,930.61 896,921.61 896,939.61" fill="#fff" stroke="#000000" stroke-width="4" stroke-miterlimit="10"/>
<polygon points="989.76,929.19 1002.96,920.19 1002.96,938.19" fill="#fff" stroke="#000000" stroke-width="4" stroke-miterlimit="10"/>
<polygon points="1096.72,962.87 1109.92,953.87 1109.92,971.87" fill="#fff" stroke="#000000" stroke-width="4" stroke-miterlimit="10"/>
<polygon points="1203.68,966.18 1216.88,957.18 1216.88,975.18" fill="#fff" stroke="#000000" stroke-width="4" stroke-miterlimit="10"/>
<polygon points="1310.64,952.04 1323.84,943.04 1323.84,961.04" fill="#fff" stroke="#000000" stroke-width="4" stroke-miterlimit="10"/>
<polygon points="1417.6,937.48 1430.8,928.48 1430.8,946.48" fill="#fff" stroke="#000000" stroke-width="4" stroke-miterlimit="10"/>
<line x1="1572.5" y1="858" x2="1446" y2="977" stroke="#000" stroke-width="5.5"/>
<polygon points="1426,994 1441,964.6 1443,976 1447.5,980.5 1457.9,982.6" fill="#000" stroke="#000" stroke-width="1" stroke-linejoin="miter"/>
<text x="908.6" y="1316.8" font-size="64.3" text-anchor="middle" fill="#000" font-family="'Liberation Serif', 'Times New Roman', serif">(B)</text>
</g>
</svg>
</body></html>
